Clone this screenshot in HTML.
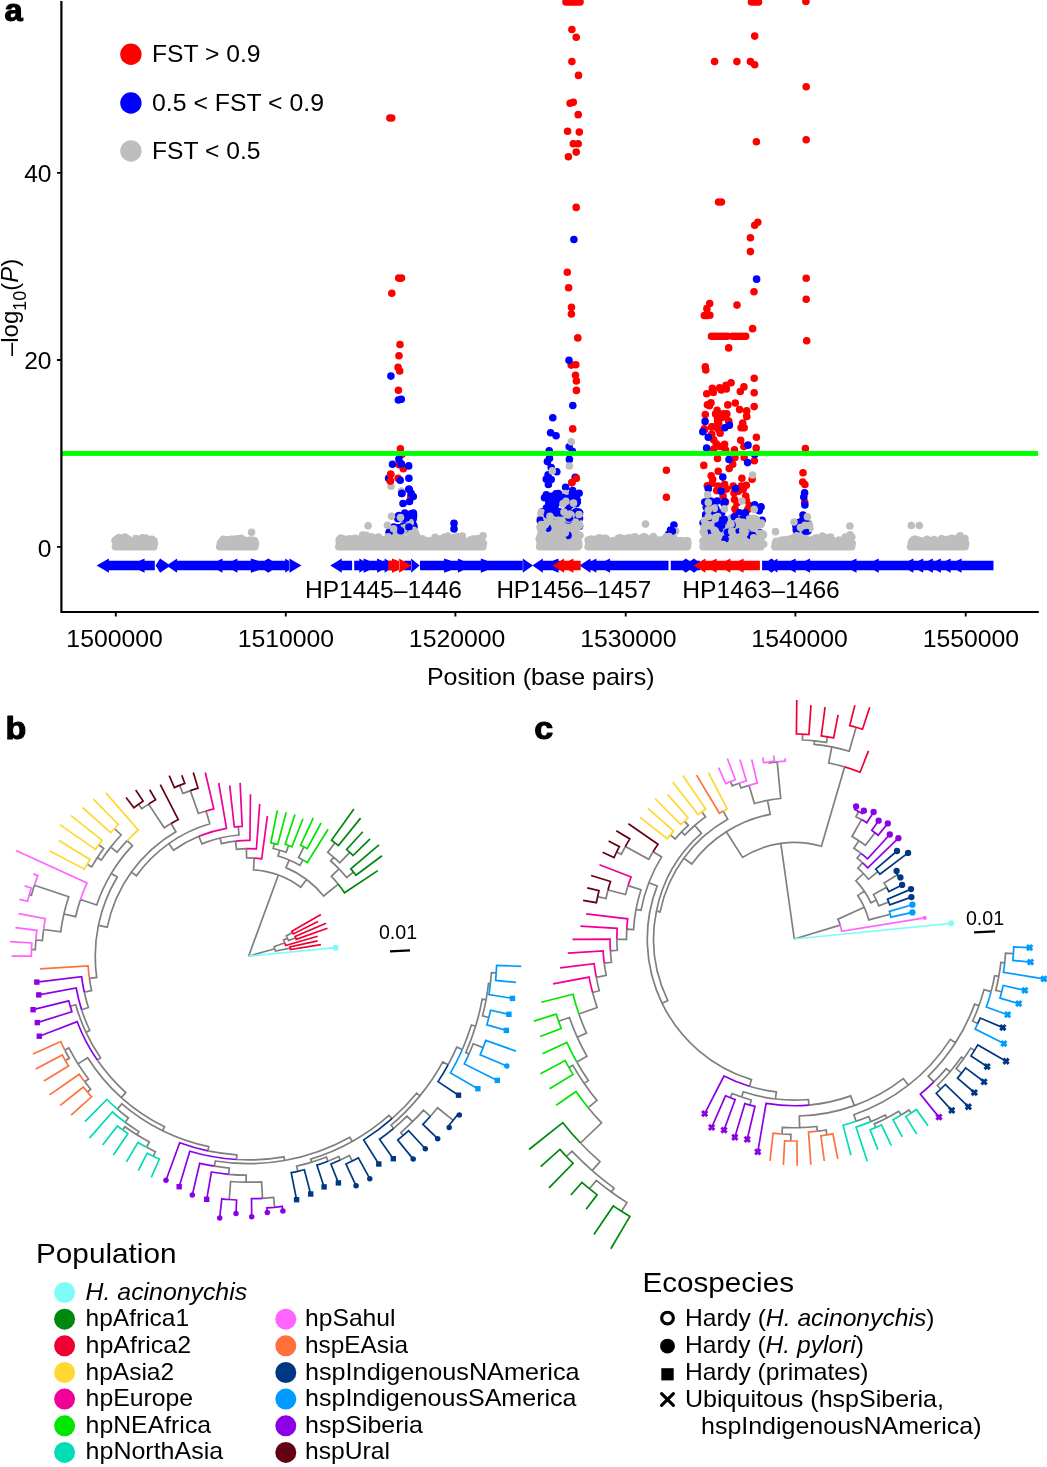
<!DOCTYPE html>
<html><head><meta charset="utf-8"><title>Figure</title>
<style>html,body{margin:0;padding:0;background:#fff}svg{display:block;will-change:transform}body{font-family:"Liberation Sans",sans-serif}</style></head>
<body>
<svg width="1047" height="1467" viewBox="0 0 1047 1467" font-family="'Liberation Sans', sans-serif" fill="#000">
<clipPath id="cpa"><rect x="62" y="0" width="985" height="611"/></clipPath>
<g clip-path="url(#cpa)">
<path d="M386.1 118.0a3.8 3.8 0 1 0 7.6 0a3.8 3.8 0 1 0 -7.6 0M387.9 118.0a3.8 3.8 0 1 0 7.6 0a3.8 3.8 0 1 0 -7.6 0M394.9 278.1a3.8 3.8 0 1 0 7.6 0a3.8 3.8 0 1 0 -7.6 0M397.7 278.1a3.8 3.8 0 1 0 7.6 0a3.8 3.8 0 1 0 -7.6 0M388.0 293.3a3.8 3.8 0 1 0 7.6 0a3.8 3.8 0 1 0 -7.6 0M396.2 344.5a3.8 3.8 0 1 0 7.6 0a3.8 3.8 0 1 0 -7.6 0M395.2 355.7a3.8 3.8 0 1 0 7.6 0a3.8 3.8 0 1 0 -7.6 0M394.3 367.4a3.8 3.8 0 1 0 7.6 0a3.8 3.8 0 1 0 -7.6 0M395.9 371.0a3.8 3.8 0 1 0 7.6 0a3.8 3.8 0 1 0 -7.6 0M394.6 390.3a3.8 3.8 0 1 0 7.6 0a3.8 3.8 0 1 0 -7.6 0M396.6 448.7a3.8 3.8 0 1 0 7.6 0a3.8 3.8 0 1 0 -7.6 0M398.0 454.4a3.8 3.8 0 1 0 7.6 0a3.8 3.8 0 1 0 -7.6 0M399.5 468.8a3.8 3.8 0 1 0 7.6 0a3.8 3.8 0 1 0 -7.6 0M386.9 474.2a3.8 3.8 0 1 0 7.6 0a3.8 3.8 0 1 0 -7.6 0M386.6 481.1a3.8 3.8 0 1 0 7.6 0a3.8 3.8 0 1 0 -7.6 0M394.3 478.3a3.8 3.8 0 1 0 7.6 0a3.8 3.8 0 1 0 -7.6 0M395.4 464.7a3.8 3.8 0 1 0 7.6 0a3.8 3.8 0 1 0 -7.6 0M407.0 496.5a3.8 3.8 0 1 0 7.6 0a3.8 3.8 0 1 0 -7.6 0M568.1 29.5a3.8 3.8 0 1 0 7.6 0a3.8 3.8 0 1 0 -7.6 0M572.4 37.2a3.8 3.8 0 1 0 7.6 0a3.8 3.8 0 1 0 -7.6 0M568.1 61.6a3.8 3.8 0 1 0 7.6 0a3.8 3.8 0 1 0 -7.6 0M574.7 75.4a3.8 3.8 0 1 0 7.6 0a3.8 3.8 0 1 0 -7.6 0M566.3 103.2a3.8 3.8 0 1 0 7.6 0a3.8 3.8 0 1 0 -7.6 0M569.5 102.3a3.8 3.8 0 1 0 7.6 0a3.8 3.8 0 1 0 -7.6 0M574.4 114.6a3.8 3.8 0 1 0 7.6 0a3.8 3.8 0 1 0 -7.6 0M563.8 131.2a3.8 3.8 0 1 0 7.6 0a3.8 3.8 0 1 0 -7.6 0M575.5 132.1a3.8 3.8 0 1 0 7.6 0a3.8 3.8 0 1 0 -7.6 0M569.5 143.8a3.8 3.8 0 1 0 7.6 0a3.8 3.8 0 1 0 -7.6 0M574.4 143.8a3.8 3.8 0 1 0 7.6 0a3.8 3.8 0 1 0 -7.6 0M572.4 152.1a3.8 3.8 0 1 0 7.6 0a3.8 3.8 0 1 0 -7.6 0M564.6 156.7a3.8 3.8 0 1 0 7.6 0a3.8 3.8 0 1 0 -7.6 0M572.4 207.4a3.8 3.8 0 1 0 7.6 0a3.8 3.8 0 1 0 -7.6 0M563.5 272.2a3.8 3.8 0 1 0 7.6 0a3.8 3.8 0 1 0 -7.6 0M564.8 287.7a3.8 3.8 0 1 0 7.6 0a3.8 3.8 0 1 0 -7.6 0M567.7 307.3a3.8 3.8 0 1 0 7.6 0a3.8 3.8 0 1 0 -7.6 0M567.6 314.0a3.8 3.8 0 1 0 7.6 0a3.8 3.8 0 1 0 -7.6 0M574.0 337.9a3.8 3.8 0 1 0 7.6 0a3.8 3.8 0 1 0 -7.6 0M567.4 365.1a3.8 3.8 0 1 0 7.6 0a3.8 3.8 0 1 0 -7.6 0M572.0 364.8a3.8 3.8 0 1 0 7.6 0a3.8 3.8 0 1 0 -7.6 0M571.7 375.3a3.8 3.8 0 1 0 7.6 0a3.8 3.8 0 1 0 -7.6 0M572.6 380.9a3.8 3.8 0 1 0 7.6 0a3.8 3.8 0 1 0 -7.6 0M572.6 390.4a3.8 3.8 0 1 0 7.6 0a3.8 3.8 0 1 0 -7.6 0M568.9 428.9a3.8 3.8 0 1 0 7.6 0a3.8 3.8 0 1 0 -7.6 0M572.5 478.3a3.8 3.8 0 1 0 7.6 0a3.8 3.8 0 1 0 -7.6 0M568.1 482.6a3.8 3.8 0 1 0 7.6 0a3.8 3.8 0 1 0 -7.6 0M662.6 470.3a3.8 3.8 0 1 0 7.6 0a3.8 3.8 0 1 0 -7.6 0M662.6 497.2a3.8 3.8 0 1 0 7.6 0a3.8 3.8 0 1 0 -7.6 0M750.9 36.1a3.8 3.8 0 1 0 7.6 0a3.8 3.8 0 1 0 -7.6 0M710.8 61.6a3.8 3.8 0 1 0 7.6 0a3.8 3.8 0 1 0 -7.6 0M733.1 61.6a3.8 3.8 0 1 0 7.6 0a3.8 3.8 0 1 0 -7.6 0M746.6 61.6a3.8 3.8 0 1 0 7.6 0a3.8 3.8 0 1 0 -7.6 0M750.9 64.8a3.8 3.8 0 1 0 7.6 0a3.8 3.8 0 1 0 -7.6 0M752.6 141.8a3.8 3.8 0 1 0 7.6 0a3.8 3.8 0 1 0 -7.6 0M714.8 202.0a3.8 3.8 0 1 0 7.6 0a3.8 3.8 0 1 0 -7.6 0M717.6 202.0a3.8 3.8 0 1 0 7.6 0a3.8 3.8 0 1 0 -7.6 0M754.0 222.3a3.8 3.8 0 1 0 7.6 0a3.8 3.8 0 1 0 -7.6 0M750.9 225.2a3.8 3.8 0 1 0 7.6 0a3.8 3.8 0 1 0 -7.6 0M746.6 237.8a3.8 3.8 0 1 0 7.6 0a3.8 3.8 0 1 0 -7.6 0M746.6 251.6a3.8 3.8 0 1 0 7.6 0a3.8 3.8 0 1 0 -7.6 0M750.2 291.8a3.8 3.8 0 1 0 7.6 0a3.8 3.8 0 1 0 -7.6 0M705.9 303.5a3.8 3.8 0 1 0 7.6 0a3.8 3.8 0 1 0 -7.6 0M703.1 308.6a3.8 3.8 0 1 0 7.6 0a3.8 3.8 0 1 0 -7.6 0M700.5 315.5a3.8 3.8 0 1 0 7.6 0a3.8 3.8 0 1 0 -7.6 0M703.1 315.5a3.8 3.8 0 1 0 7.6 0a3.8 3.8 0 1 0 -7.6 0M706.1 315.3a3.8 3.8 0 1 0 7.6 0a3.8 3.8 0 1 0 -7.6 0M733.2 305.1a3.8 3.8 0 1 0 7.6 0a3.8 3.8 0 1 0 -7.6 0M748.8 328.6a3.8 3.8 0 1 0 7.6 0a3.8 3.8 0 1 0 -7.6 0M724.9 347.9a3.8 3.8 0 1 0 7.6 0a3.8 3.8 0 1 0 -7.6 0M701.5 366.9a3.8 3.8 0 1 0 7.6 0a3.8 3.8 0 1 0 -7.6 0M702.0 370.0a3.8 3.8 0 1 0 7.6 0a3.8 3.8 0 1 0 -7.6 0M750.4 378.2a3.8 3.8 0 1 0 7.6 0a3.8 3.8 0 1 0 -7.6 0M727.3 382.8a3.8 3.8 0 1 0 7.6 0a3.8 3.8 0 1 0 -7.6 0M722.2 385.3a3.8 3.8 0 1 0 7.6 0a3.8 3.8 0 1 0 -7.6 0M715.9 387.9a3.8 3.8 0 1 0 7.6 0a3.8 3.8 0 1 0 -7.6 0M717.4 389.9a3.8 3.8 0 1 0 7.6 0a3.8 3.8 0 1 0 -7.6 0M722.5 388.9a3.8 3.8 0 1 0 7.6 0a3.8 3.8 0 1 0 -7.6 0M708.5 388.4a3.8 3.8 0 1 0 7.6 0a3.8 3.8 0 1 0 -7.6 0M709.5 392.5a3.8 3.8 0 1 0 7.6 0a3.8 3.8 0 1 0 -7.6 0M702.9 393.7a3.8 3.8 0 1 0 7.6 0a3.8 3.8 0 1 0 -7.6 0M740.1 386.9a3.8 3.8 0 1 0 7.6 0a3.8 3.8 0 1 0 -7.6 0M736.5 391.5a3.8 3.8 0 1 0 7.6 0a3.8 3.8 0 1 0 -7.6 0M750.4 392.7a3.8 3.8 0 1 0 7.6 0a3.8 3.8 0 1 0 -7.6 0M707.2 402.7a3.8 3.8 0 1 0 7.6 0a3.8 3.8 0 1 0 -7.6 0M703.6 404.7a3.8 3.8 0 1 0 7.6 0a3.8 3.8 0 1 0 -7.6 0M705.6 405.8a3.8 3.8 0 1 0 7.6 0a3.8 3.8 0 1 0 -7.6 0M724.0 404.9a3.8 3.8 0 1 0 7.6 0a3.8 3.8 0 1 0 -7.6 0M731.5 403.0a3.8 3.8 0 1 0 7.6 0a3.8 3.8 0 1 0 -7.6 0M735.8 409.6a3.8 3.8 0 1 0 7.6 0a3.8 3.8 0 1 0 -7.6 0M750.4 406.6a3.8 3.8 0 1 0 7.6 0a3.8 3.8 0 1 0 -7.6 0M742.9 410.9a3.8 3.8 0 1 0 7.6 0a3.8 3.8 0 1 0 -7.6 0M742.9 416.0a3.8 3.8 0 1 0 7.6 0a3.8 3.8 0 1 0 -7.6 0M701.5 414.5a3.8 3.8 0 1 0 7.6 0a3.8 3.8 0 1 0 -7.6 0M713.3 410.4a3.8 3.8 0 1 0 7.6 0a3.8 3.8 0 1 0 -7.6 0M711.8 413.9a3.8 3.8 0 1 0 7.6 0a3.8 3.8 0 1 0 -7.6 0M715.9 413.9a3.8 3.8 0 1 0 7.6 0a3.8 3.8 0 1 0 -7.6 0M719.9 413.9a3.8 3.8 0 1 0 7.6 0a3.8 3.8 0 1 0 -7.6 0M723.0 413.9a3.8 3.8 0 1 0 7.6 0a3.8 3.8 0 1 0 -7.6 0M713.8 418.0a3.8 3.8 0 1 0 7.6 0a3.8 3.8 0 1 0 -7.6 0M717.9 417.5a3.8 3.8 0 1 0 7.6 0a3.8 3.8 0 1 0 -7.6 0M725.1 421.6a3.8 3.8 0 1 0 7.6 0a3.8 3.8 0 1 0 -7.6 0M738.9 423.1a3.8 3.8 0 1 0 7.6 0a3.8 3.8 0 1 0 -7.6 0M737.3 427.8a3.8 3.8 0 1 0 7.6 0a3.8 3.8 0 1 0 -7.6 0M740.4 427.8a3.8 3.8 0 1 0 7.6 0a3.8 3.8 0 1 0 -7.6 0M714.8 423.1a3.8 3.8 0 1 0 7.6 0a3.8 3.8 0 1 0 -7.6 0M708.2 426.7a3.8 3.8 0 1 0 7.6 0a3.8 3.8 0 1 0 -7.6 0M700.5 428.8a3.8 3.8 0 1 0 7.6 0a3.8 3.8 0 1 0 -7.6 0M713.8 428.3a3.8 3.8 0 1 0 7.6 0a3.8 3.8 0 1 0 -7.6 0M743.0 416.5a3.8 3.8 0 1 0 7.6 0a3.8 3.8 0 1 0 -7.6 0M724.7 420.9a3.8 3.8 0 1 0 7.6 0a3.8 3.8 0 1 0 -7.6 0M713.9 420.9a3.8 3.8 0 1 0 7.6 0a3.8 3.8 0 1 0 -7.6 0M713.4 424.9a3.8 3.8 0 1 0 7.6 0a3.8 3.8 0 1 0 -7.6 0M707.9 426.9a3.8 3.8 0 1 0 7.6 0a3.8 3.8 0 1 0 -7.6 0M700.8 429.6a3.8 3.8 0 1 0 7.6 0a3.8 3.8 0 1 0 -7.6 0M714.9 429.8a3.8 3.8 0 1 0 7.6 0a3.8 3.8 0 1 0 -7.6 0M716.3 433.3a3.8 3.8 0 1 0 7.6 0a3.8 3.8 0 1 0 -7.6 0M707.9 434.3a3.8 3.8 0 1 0 7.6 0a3.8 3.8 0 1 0 -7.6 0M752.6 437.2a3.8 3.8 0 1 0 7.6 0a3.8 3.8 0 1 0 -7.6 0M709.9 439.7a3.8 3.8 0 1 0 7.6 0a3.8 3.8 0 1 0 -7.6 0M736.9 440.2a3.8 3.8 0 1 0 7.6 0a3.8 3.8 0 1 0 -7.6 0M712.4 443.7a3.8 3.8 0 1 0 7.6 0a3.8 3.8 0 1 0 -7.6 0M720.8 444.2a3.8 3.8 0 1 0 7.6 0a3.8 3.8 0 1 0 -7.6 0M716.3 446.6a3.8 3.8 0 1 0 7.6 0a3.8 3.8 0 1 0 -7.6 0M709.9 449.1a3.8 3.8 0 1 0 7.6 0a3.8 3.8 0 1 0 -7.6 0M740.1 446.6a3.8 3.8 0 1 0 7.6 0a3.8 3.8 0 1 0 -7.6 0M752.4 448.1a3.8 3.8 0 1 0 7.6 0a3.8 3.8 0 1 0 -7.6 0M730.7 449.8a3.8 3.8 0 1 0 7.6 0a3.8 3.8 0 1 0 -7.6 0M721.8 450.1a3.8 3.8 0 1 0 7.6 0a3.8 3.8 0 1 0 -7.6 0M731.2 457.5a3.8 3.8 0 1 0 7.6 0a3.8 3.8 0 1 0 -7.6 0M713.7 458.5a3.8 3.8 0 1 0 7.6 0a3.8 3.8 0 1 0 -7.6 0M740.4 457.5a3.8 3.8 0 1 0 7.6 0a3.8 3.8 0 1 0 -7.6 0M750.6 460.7a3.8 3.8 0 1 0 7.6 0a3.8 3.8 0 1 0 -7.6 0M728.9 464.2a3.8 3.8 0 1 0 7.6 0a3.8 3.8 0 1 0 -7.6 0M725.4 468.4a3.8 3.8 0 1 0 7.6 0a3.8 3.8 0 1 0 -7.6 0M700.0 465.4a3.8 3.8 0 1 0 7.6 0a3.8 3.8 0 1 0 -7.6 0M714.4 471.3a3.8 3.8 0 1 0 7.6 0a3.8 3.8 0 1 0 -7.6 0M707.4 475.8a3.8 3.8 0 1 0 7.6 0a3.8 3.8 0 1 0 -7.6 0M708.9 479.2a3.8 3.8 0 1 0 7.6 0a3.8 3.8 0 1 0 -7.6 0M708.4 483.2a3.8 3.8 0 1 0 7.6 0a3.8 3.8 0 1 0 -7.6 0M738.1 478.2a3.8 3.8 0 1 0 7.6 0a3.8 3.8 0 1 0 -7.6 0M748.3 479.2a3.8 3.8 0 1 0 7.6 0a3.8 3.8 0 1 0 -7.6 0M703.5 485.7a3.8 3.8 0 1 0 7.6 0a3.8 3.8 0 1 0 -7.6 0M720.8 484.2a3.8 3.8 0 1 0 7.6 0a3.8 3.8 0 1 0 -7.6 0M714.4 486.1a3.8 3.8 0 1 0 7.6 0a3.8 3.8 0 1 0 -7.6 0M712.9 490.6a3.8 3.8 0 1 0 7.6 0a3.8 3.8 0 1 0 -7.6 0M722.8 489.1a3.8 3.8 0 1 0 7.6 0a3.8 3.8 0 1 0 -7.6 0M729.5 486.1a3.8 3.8 0 1 0 7.6 0a3.8 3.8 0 1 0 -7.6 0M737.6 486.1a3.8 3.8 0 1 0 7.6 0a3.8 3.8 0 1 0 -7.6 0M742.5 485.2a3.8 3.8 0 1 0 7.6 0a3.8 3.8 0 1 0 -7.6 0M739.6 489.1a3.8 3.8 0 1 0 7.6 0a3.8 3.8 0 1 0 -7.6 0M734.6 491.1a3.8 3.8 0 1 0 7.6 0a3.8 3.8 0 1 0 -7.6 0M730.2 493.1a3.8 3.8 0 1 0 7.6 0a3.8 3.8 0 1 0 -7.6 0M719.3 496.0a3.8 3.8 0 1 0 7.6 0a3.8 3.8 0 1 0 -7.6 0M721.8 502.0a3.8 3.8 0 1 0 7.6 0a3.8 3.8 0 1 0 -7.6 0M742.0 496.0a3.8 3.8 0 1 0 7.6 0a3.8 3.8 0 1 0 -7.6 0M742.5 500.0a3.8 3.8 0 1 0 7.6 0a3.8 3.8 0 1 0 -7.6 0M730.7 499.5a3.8 3.8 0 1 0 7.6 0a3.8 3.8 0 1 0 -7.6 0M733.1 502.9a3.8 3.8 0 1 0 7.6 0a3.8 3.8 0 1 0 -7.6 0M745.5 505.4a3.8 3.8 0 1 0 7.6 0a3.8 3.8 0 1 0 -7.6 0M744.0 509.4a3.8 3.8 0 1 0 7.6 0a3.8 3.8 0 1 0 -7.6 0M731.2 508.9a3.8 3.8 0 1 0 7.6 0a3.8 3.8 0 1 0 -7.6 0M732.6 512.8a3.8 3.8 0 1 0 7.6 0a3.8 3.8 0 1 0 -7.6 0M740.1 513.3a3.8 3.8 0 1 0 7.6 0a3.8 3.8 0 1 0 -7.6 0M802.4 86.8a3.8 3.8 0 1 0 7.6 0a3.8 3.8 0 1 0 -7.6 0M802.4 139.8a3.8 3.8 0 1 0 7.6 0a3.8 3.8 0 1 0 -7.6 0M802.4 278.3a3.8 3.8 0 1 0 7.6 0a3.8 3.8 0 1 0 -7.6 0M802.4 299.3a3.8 3.8 0 1 0 7.6 0a3.8 3.8 0 1 0 -7.6 0M802.9 340.7a3.8 3.8 0 1 0 7.6 0a3.8 3.8 0 1 0 -7.6 0M801.6 448.5a3.8 3.8 0 1 0 7.6 0a3.8 3.8 0 1 0 -7.6 0M799.2 472.8a3.8 3.8 0 1 0 7.6 0a3.8 3.8 0 1 0 -7.6 0M798.9 482.0a3.8 3.8 0 1 0 7.6 0a3.8 3.8 0 1 0 -7.6 0M801.1 484.5a3.8 3.8 0 1 0 7.6 0a3.8 3.8 0 1 0 -7.6 0M800.9 502.0a3.8 3.8 0 1 0 7.6 0a3.8 3.8 0 1 0 -7.6 0M562.2 2.0a3.8 3.8 0 1 0 7.6 0a3.8 3.8 0 1 0 -7.6 0M564.7 2.0a3.8 3.8 0 1 0 7.6 0a3.8 3.8 0 1 0 -7.6 0M567.2 2.0a3.8 3.8 0 1 0 7.6 0a3.8 3.8 0 1 0 -7.6 0M569.7 2.0a3.8 3.8 0 1 0 7.6 0a3.8 3.8 0 1 0 -7.6 0M572.2 2.0a3.8 3.8 0 1 0 7.6 0a3.8 3.8 0 1 0 -7.6 0M574.7 2.0a3.8 3.8 0 1 0 7.6 0a3.8 3.8 0 1 0 -7.6 0M576.2 2.0a3.8 3.8 0 1 0 7.6 0a3.8 3.8 0 1 0 -7.6 0M747.7 2.0a3.8 3.8 0 1 0 7.6 0a3.8 3.8 0 1 0 -7.6 0M750.2 2.0a3.8 3.8 0 1 0 7.6 0a3.8 3.8 0 1 0 -7.6 0M752.7 2.0a3.8 3.8 0 1 0 7.6 0a3.8 3.8 0 1 0 -7.6 0M754.7 2.0a3.8 3.8 0 1 0 7.6 0a3.8 3.8 0 1 0 -7.6 0M802.1 1.5a3.8 3.8 0 1 0 7.6 0a3.8 3.8 0 1 0 -7.6 0M707.7 336.2a3.8 3.8 0 1 0 7.6 0a3.8 3.8 0 1 0 -7.6 0M710.3 336.2a3.8 3.8 0 1 0 7.6 0a3.8 3.8 0 1 0 -7.6 0M713.0 336.2a3.8 3.8 0 1 0 7.6 0a3.8 3.8 0 1 0 -7.6 0M715.6 336.2a3.8 3.8 0 1 0 7.6 0a3.8 3.8 0 1 0 -7.6 0M718.2 336.2a3.8 3.8 0 1 0 7.6 0a3.8 3.8 0 1 0 -7.6 0M720.9 336.2a3.8 3.8 0 1 0 7.6 0a3.8 3.8 0 1 0 -7.6 0M723.5 336.2a3.8 3.8 0 1 0 7.6 0a3.8 3.8 0 1 0 -7.6 0M728.7 336.2a3.8 3.8 0 1 0 7.6 0a3.8 3.8 0 1 0 -7.6 0M731.4 336.2a3.8 3.8 0 1 0 7.6 0a3.8 3.8 0 1 0 -7.6 0M734.0 336.2a3.8 3.8 0 1 0 7.6 0a3.8 3.8 0 1 0 -7.6 0M736.6 336.2a3.8 3.8 0 1 0 7.6 0a3.8 3.8 0 1 0 -7.6 0M739.3 336.2a3.8 3.8 0 1 0 7.6 0a3.8 3.8 0 1 0 -7.6 0M741.9 336.2a3.8 3.8 0 1 0 7.6 0a3.8 3.8 0 1 0 -7.6 0" fill="#ff0000"/>
<path d="M387.1 376.1a3.8 3.8 0 1 0 7.6 0a3.8 3.8 0 1 0 -7.6 0M394.6 400.0a3.8 3.8 0 1 0 7.6 0a3.8 3.8 0 1 0 -7.6 0M397.5 399.3a3.8 3.8 0 1 0 7.6 0a3.8 3.8 0 1 0 -7.6 0M395.1 459.0a3.8 3.8 0 1 0 7.6 0a3.8 3.8 0 1 0 -7.6 0M388.7 464.3a3.8 3.8 0 1 0 7.6 0a3.8 3.8 0 1 0 -7.6 0M397.5 463.9a3.8 3.8 0 1 0 7.6 0a3.8 3.8 0 1 0 -7.6 0M404.9 465.9a3.8 3.8 0 1 0 7.6 0a3.8 3.8 0 1 0 -7.6 0M384.8 478.3a3.8 3.8 0 1 0 7.6 0a3.8 3.8 0 1 0 -7.6 0M396.4 480.3a3.8 3.8 0 1 0 7.6 0a3.8 3.8 0 1 0 -7.6 0M405.1 478.2a3.8 3.8 0 1 0 7.6 0a3.8 3.8 0 1 0 -7.6 0M405.2 489.3a3.8 3.8 0 1 0 7.6 0a3.8 3.8 0 1 0 -7.6 0M398.0 493.4a3.8 3.8 0 1 0 7.6 0a3.8 3.8 0 1 0 -7.6 0M407.3 493.4a3.8 3.8 0 1 0 7.6 0a3.8 3.8 0 1 0 -7.6 0M409.5 496.6a3.8 3.8 0 1 0 7.6 0a3.8 3.8 0 1 0 -7.6 0M405.7 501.5a3.8 3.8 0 1 0 7.6 0a3.8 3.8 0 1 0 -7.6 0M399.2 503.5a3.8 3.8 0 1 0 7.6 0a3.8 3.8 0 1 0 -7.6 0M395.1 515.5a3.8 3.8 0 1 0 7.6 0a3.8 3.8 0 1 0 -7.6 0M406.5 515.5a3.8 3.8 0 1 0 7.6 0a3.8 3.8 0 1 0 -7.6 0M409.8 515.5a3.8 3.8 0 1 0 7.6 0a3.8 3.8 0 1 0 -7.6 0M408.2 518.7a3.8 3.8 0 1 0 7.6 0a3.8 3.8 0 1 0 -7.6 0M405.7 521.2a3.8 3.8 0 1 0 7.6 0a3.8 3.8 0 1 0 -7.6 0M409.0 523.6a3.8 3.8 0 1 0 7.6 0a3.8 3.8 0 1 0 -7.6 0M409.5 528.9a3.8 3.8 0 1 0 7.6 0a3.8 3.8 0 1 0 -7.6 0M403.2 520.0a3.8 3.8 0 1 0 7.6 0a3.8 3.8 0 1 0 -7.6 0M401.2 524.5a3.8 3.8 0 1 0 7.6 0a3.8 3.8 0 1 0 -7.6 0M398.2 527.0a3.8 3.8 0 1 0 7.6 0a3.8 3.8 0 1 0 -7.6 0M404.2 530.0a3.8 3.8 0 1 0 7.6 0a3.8 3.8 0 1 0 -7.6 0M450.2 523.3a3.8 3.8 0 1 0 7.6 0a3.8 3.8 0 1 0 -7.6 0M450.2 528.9a3.8 3.8 0 1 0 7.6 0a3.8 3.8 0 1 0 -7.6 0M450.2 538.0a3.8 3.8 0 1 0 7.6 0a3.8 3.8 0 1 0 -7.6 0M570.1 239.5a3.8 3.8 0 1 0 7.6 0a3.8 3.8 0 1 0 -7.6 0M565.2 360.2a3.8 3.8 0 1 0 7.6 0a3.8 3.8 0 1 0 -7.6 0M569.0 405.5a3.8 3.8 0 1 0 7.6 0a3.8 3.8 0 1 0 -7.6 0M549.0 417.8a3.8 3.8 0 1 0 7.6 0a3.8 3.8 0 1 0 -7.6 0M546.8 432.7a3.8 3.8 0 1 0 7.6 0a3.8 3.8 0 1 0 -7.6 0M552.3 435.8a3.8 3.8 0 1 0 7.6 0a3.8 3.8 0 1 0 -7.6 0M565.4 446.7a3.8 3.8 0 1 0 7.6 0a3.8 3.8 0 1 0 -7.6 0M568.6 451.3a3.8 3.8 0 1 0 7.6 0a3.8 3.8 0 1 0 -7.6 0M545.4 450.7a3.8 3.8 0 1 0 7.6 0a3.8 3.8 0 1 0 -7.6 0M545.7 458.3a3.8 3.8 0 1 0 7.6 0a3.8 3.8 0 1 0 -7.6 0M543.6 461.6a3.8 3.8 0 1 0 7.6 0a3.8 3.8 0 1 0 -7.6 0M565.6 459.4a3.8 3.8 0 1 0 7.6 0a3.8 3.8 0 1 0 -7.6 0M547.4 467.6a3.8 3.8 0 1 0 7.6 0a3.8 3.8 0 1 0 -7.6 0M553.0 471.8a3.8 3.8 0 1 0 7.6 0a3.8 3.8 0 1 0 -7.6 0M544.3 474.7a3.8 3.8 0 1 0 7.6 0a3.8 3.8 0 1 0 -7.6 0M542.5 479.1a3.8 3.8 0 1 0 7.6 0a3.8 3.8 0 1 0 -7.6 0M547.4 479.6a3.8 3.8 0 1 0 7.6 0a3.8 3.8 0 1 0 -7.6 0M544.6 484.5a3.8 3.8 0 1 0 7.6 0a3.8 3.8 0 1 0 -7.6 0M571.4 477.2a3.8 3.8 0 1 0 7.6 0a3.8 3.8 0 1 0 -7.6 0M561.8 487.2a3.8 3.8 0 1 0 7.6 0a3.8 3.8 0 1 0 -7.6 0M568.9 490.5a3.8 3.8 0 1 0 7.6 0a3.8 3.8 0 1 0 -7.6 0M575.7 518.3a3.8 3.8 0 1 0 7.6 0a3.8 3.8 0 1 0 -7.6 0M573.5 500.3a3.8 3.8 0 1 0 7.6 0a3.8 3.8 0 1 0 -7.6 0M670.1 525.0a3.8 3.8 0 1 0 7.6 0a3.8 3.8 0 1 0 -7.6 0M666.7 530.0a3.8 3.8 0 1 0 7.6 0a3.8 3.8 0 1 0 -7.6 0M664.7 534.5a3.8 3.8 0 1 0 7.6 0a3.8 3.8 0 1 0 -7.6 0M752.8 279.1a3.8 3.8 0 1 0 7.6 0a3.8 3.8 0 1 0 -7.6 0M701.3 421.4a3.8 3.8 0 1 0 7.6 0a3.8 3.8 0 1 0 -7.6 0M725.6 425.2a3.8 3.8 0 1 0 7.6 0a3.8 3.8 0 1 0 -7.6 0M721.0 427.8a3.8 3.8 0 1 0 7.6 0a3.8 3.8 0 1 0 -7.6 0M699.0 431.8a3.8 3.8 0 1 0 7.6 0a3.8 3.8 0 1 0 -7.6 0M704.5 437.2a3.8 3.8 0 1 0 7.6 0a3.8 3.8 0 1 0 -7.6 0M744.2 445.1a3.8 3.8 0 1 0 7.6 0a3.8 3.8 0 1 0 -7.6 0M702.8 448.1a3.8 3.8 0 1 0 7.6 0a3.8 3.8 0 1 0 -7.6 0M725.2 459.5a3.8 3.8 0 1 0 7.6 0a3.8 3.8 0 1 0 -7.6 0M743.8 462.6a3.8 3.8 0 1 0 7.6 0a3.8 3.8 0 1 0 -7.6 0M750.9 454.5a3.8 3.8 0 1 0 7.6 0a3.8 3.8 0 1 0 -7.6 0M719.0 477.1a3.8 3.8 0 1 0 7.6 0a3.8 3.8 0 1 0 -7.6 0M704.5 488.6a3.8 3.8 0 1 0 7.6 0a3.8 3.8 0 1 0 -7.6 0M717.3 491.1a3.8 3.8 0 1 0 7.6 0a3.8 3.8 0 1 0 -7.6 0M701.0 502.0a3.8 3.8 0 1 0 7.6 0a3.8 3.8 0 1 0 -7.6 0M713.4 501.0a3.8 3.8 0 1 0 7.6 0a3.8 3.8 0 1 0 -7.6 0M712.1 508.9a3.8 3.8 0 1 0 7.6 0a3.8 3.8 0 1 0 -7.6 0M717.8 512.8a3.8 3.8 0 1 0 7.6 0a3.8 3.8 0 1 0 -7.6 0M702.0 514.8a3.8 3.8 0 1 0 7.6 0a3.8 3.8 0 1 0 -7.6 0M705.0 518.8a3.8 3.8 0 1 0 7.6 0a3.8 3.8 0 1 0 -7.6 0M716.8 519.2a3.8 3.8 0 1 0 7.6 0a3.8 3.8 0 1 0 -7.6 0M750.9 504.9a3.8 3.8 0 1 0 7.6 0a3.8 3.8 0 1 0 -7.6 0M757.3 506.9a3.8 3.8 0 1 0 7.6 0a3.8 3.8 0 1 0 -7.6 0M755.4 510.8a3.8 3.8 0 1 0 7.6 0a3.8 3.8 0 1 0 -7.6 0M758.3 520.2a3.8 3.8 0 1 0 7.6 0a3.8 3.8 0 1 0 -7.6 0M735.6 512.8a3.8 3.8 0 1 0 7.6 0a3.8 3.8 0 1 0 -7.6 0M741.5 512.8a3.8 3.8 0 1 0 7.6 0a3.8 3.8 0 1 0 -7.6 0M744.5 518.3a3.8 3.8 0 1 0 7.6 0a3.8 3.8 0 1 0 -7.6 0M732.6 522.2a3.8 3.8 0 1 0 7.6 0a3.8 3.8 0 1 0 -7.6 0M730.7 523.7a3.8 3.8 0 1 0 7.6 0a3.8 3.8 0 1 0 -7.6 0M731.8 488.6a3.8 3.8 0 1 0 7.6 0a3.8 3.8 0 1 0 -7.6 0M800.8 492.9a3.8 3.8 0 1 0 7.6 0a3.8 3.8 0 1 0 -7.6 0M800.0 497.1a3.8 3.8 0 1 0 7.6 0a3.8 3.8 0 1 0 -7.6 0M801.1 504.9a3.8 3.8 0 1 0 7.6 0a3.8 3.8 0 1 0 -7.6 0M799.2 515.0a3.8 3.8 0 1 0 7.6 0a3.8 3.8 0 1 0 -7.6 0M798.9 520.0a3.8 3.8 0 1 0 7.6 0a3.8 3.8 0 1 0 -7.6 0M792.0 525.4a3.8 3.8 0 1 0 7.6 0a3.8 3.8 0 1 0 -7.6 0M792.4 529.8a3.8 3.8 0 1 0 7.6 0a3.8 3.8 0 1 0 -7.6 0M797.7 524.0a3.8 3.8 0 1 0 7.6 0a3.8 3.8 0 1 0 -7.6 0M795.7 528.5a3.8 3.8 0 1 0 7.6 0a3.8 3.8 0 1 0 -7.6 0" fill="#0000ff"/>
<path d="M111.6 546.7a3.8 3.8 0 1 0 7.6 0a3.8 3.8 0 1 0 -7.6 0M112.2 543.4a3.8 3.8 0 1 0 7.6 0a3.8 3.8 0 1 0 -7.6 0M111.2 540.5a3.8 3.8 0 1 0 7.6 0a3.8 3.8 0 1 0 -7.6 0M113.2 546.7a3.8 3.8 0 1 0 7.6 0a3.8 3.8 0 1 0 -7.6 0M113.8 543.4a3.8 3.8 0 1 0 7.6 0a3.8 3.8 0 1 0 -7.6 0M113.5 538.9a3.8 3.8 0 1 0 7.6 0a3.8 3.8 0 1 0 -7.6 0M114.8 546.7a3.8 3.8 0 1 0 7.6 0a3.8 3.8 0 1 0 -7.6 0M115.4 543.4a3.8 3.8 0 1 0 7.6 0a3.8 3.8 0 1 0 -7.6 0M115.3 537.6a3.8 3.8 0 1 0 7.6 0a3.8 3.8 0 1 0 -7.6 0M116.4 546.7a3.8 3.8 0 1 0 7.6 0a3.8 3.8 0 1 0 -7.6 0M117.0 543.4a3.8 3.8 0 1 0 7.6 0a3.8 3.8 0 1 0 -7.6 0M116.5 540.9a3.8 3.8 0 1 0 7.6 0a3.8 3.8 0 1 0 -7.6 0M118.0 546.7a3.8 3.8 0 1 0 7.6 0a3.8 3.8 0 1 0 -7.6 0M118.6 543.4a3.8 3.8 0 1 0 7.6 0a3.8 3.8 0 1 0 -7.6 0M118.0 541.3a3.8 3.8 0 1 0 7.6 0a3.8 3.8 0 1 0 -7.6 0M119.6 546.7a3.8 3.8 0 1 0 7.6 0a3.8 3.8 0 1 0 -7.6 0M120.2 543.4a3.8 3.8 0 1 0 7.6 0a3.8 3.8 0 1 0 -7.6 0M119.3 541.2a3.8 3.8 0 1 0 7.6 0a3.8 3.8 0 1 0 -7.6 0M121.2 546.7a3.8 3.8 0 1 0 7.6 0a3.8 3.8 0 1 0 -7.6 0M121.8 543.4a3.8 3.8 0 1 0 7.6 0a3.8 3.8 0 1 0 -7.6 0M121.1 537.0a3.8 3.8 0 1 0 7.6 0a3.8 3.8 0 1 0 -7.6 0M122.8 546.7a3.8 3.8 0 1 0 7.6 0a3.8 3.8 0 1 0 -7.6 0M123.4 543.4a3.8 3.8 0 1 0 7.6 0a3.8 3.8 0 1 0 -7.6 0M122.9 538.4a3.8 3.8 0 1 0 7.6 0a3.8 3.8 0 1 0 -7.6 0M124.4 546.7a3.8 3.8 0 1 0 7.6 0a3.8 3.8 0 1 0 -7.6 0M125.0 543.4a3.8 3.8 0 1 0 7.6 0a3.8 3.8 0 1 0 -7.6 0M124.4 539.3a3.8 3.8 0 1 0 7.6 0a3.8 3.8 0 1 0 -7.6 0M126.0 546.7a3.8 3.8 0 1 0 7.6 0a3.8 3.8 0 1 0 -7.6 0M126.6 543.4a3.8 3.8 0 1 0 7.6 0a3.8 3.8 0 1 0 -7.6 0M127.6 546.7a3.8 3.8 0 1 0 7.6 0a3.8 3.8 0 1 0 -7.6 0M128.2 543.4a3.8 3.8 0 1 0 7.6 0a3.8 3.8 0 1 0 -7.6 0M129.2 546.7a3.8 3.8 0 1 0 7.6 0a3.8 3.8 0 1 0 -7.6 0M129.8 543.4a3.8 3.8 0 1 0 7.6 0a3.8 3.8 0 1 0 -7.6 0M130.8 546.7a3.8 3.8 0 1 0 7.6 0a3.8 3.8 0 1 0 -7.6 0M131.4 543.4a3.8 3.8 0 1 0 7.6 0a3.8 3.8 0 1 0 -7.6 0M130.6 540.8a3.8 3.8 0 1 0 7.6 0a3.8 3.8 0 1 0 -7.6 0M132.4 546.7a3.8 3.8 0 1 0 7.6 0a3.8 3.8 0 1 0 -7.6 0M133.0 543.4a3.8 3.8 0 1 0 7.6 0a3.8 3.8 0 1 0 -7.6 0M132.0 538.6a3.8 3.8 0 1 0 7.6 0a3.8 3.8 0 1 0 -7.6 0M134.0 546.7a3.8 3.8 0 1 0 7.6 0a3.8 3.8 0 1 0 -7.6 0M134.6 543.4a3.8 3.8 0 1 0 7.6 0a3.8 3.8 0 1 0 -7.6 0M134.3 540.1a3.8 3.8 0 1 0 7.6 0a3.8 3.8 0 1 0 -7.6 0M135.6 546.7a3.8 3.8 0 1 0 7.6 0a3.8 3.8 0 1 0 -7.6 0M136.2 543.4a3.8 3.8 0 1 0 7.6 0a3.8 3.8 0 1 0 -7.6 0M137.2 546.7a3.8 3.8 0 1 0 7.6 0a3.8 3.8 0 1 0 -7.6 0M137.8 543.4a3.8 3.8 0 1 0 7.6 0a3.8 3.8 0 1 0 -7.6 0M138.8 546.7a3.8 3.8 0 1 0 7.6 0a3.8 3.8 0 1 0 -7.6 0M139.4 543.4a3.8 3.8 0 1 0 7.6 0a3.8 3.8 0 1 0 -7.6 0M138.5 537.7a3.8 3.8 0 1 0 7.6 0a3.8 3.8 0 1 0 -7.6 0M140.4 546.7a3.8 3.8 0 1 0 7.6 0a3.8 3.8 0 1 0 -7.6 0M141.0 543.4a3.8 3.8 0 1 0 7.6 0a3.8 3.8 0 1 0 -7.6 0M140.9 539.8a3.8 3.8 0 1 0 7.6 0a3.8 3.8 0 1 0 -7.6 0M142.0 546.7a3.8 3.8 0 1 0 7.6 0a3.8 3.8 0 1 0 -7.6 0M142.6 543.4a3.8 3.8 0 1 0 7.6 0a3.8 3.8 0 1 0 -7.6 0M142.1 538.1a3.8 3.8 0 1 0 7.6 0a3.8 3.8 0 1 0 -7.6 0M143.6 546.7a3.8 3.8 0 1 0 7.6 0a3.8 3.8 0 1 0 -7.6 0M144.2 543.4a3.8 3.8 0 1 0 7.6 0a3.8 3.8 0 1 0 -7.6 0M143.2 540.0a3.8 3.8 0 1 0 7.6 0a3.8 3.8 0 1 0 -7.6 0M145.2 546.7a3.8 3.8 0 1 0 7.6 0a3.8 3.8 0 1 0 -7.6 0M145.8 543.4a3.8 3.8 0 1 0 7.6 0a3.8 3.8 0 1 0 -7.6 0M146.8 546.7a3.8 3.8 0 1 0 7.6 0a3.8 3.8 0 1 0 -7.6 0M147.4 543.4a3.8 3.8 0 1 0 7.6 0a3.8 3.8 0 1 0 -7.6 0M146.4 540.9a3.8 3.8 0 1 0 7.6 0a3.8 3.8 0 1 0 -7.6 0M148.4 546.7a3.8 3.8 0 1 0 7.6 0a3.8 3.8 0 1 0 -7.6 0M149.0 543.4a3.8 3.8 0 1 0 7.6 0a3.8 3.8 0 1 0 -7.6 0M148.0 539.4a3.8 3.8 0 1 0 7.6 0a3.8 3.8 0 1 0 -7.6 0M150.0 546.7a3.8 3.8 0 1 0 7.6 0a3.8 3.8 0 1 0 -7.6 0M150.6 543.4a3.8 3.8 0 1 0 7.6 0a3.8 3.8 0 1 0 -7.6 0M150.1 540.9a3.8 3.8 0 1 0 7.6 0a3.8 3.8 0 1 0 -7.6 0M215.9 546.7a3.8 3.8 0 1 0 7.6 0a3.8 3.8 0 1 0 -7.6 0M216.5 543.4a3.8 3.8 0 1 0 7.6 0a3.8 3.8 0 1 0 -7.6 0M217.5 546.7a3.8 3.8 0 1 0 7.6 0a3.8 3.8 0 1 0 -7.6 0M218.1 543.4a3.8 3.8 0 1 0 7.6 0a3.8 3.8 0 1 0 -7.6 0M217.9 541.3a3.8 3.8 0 1 0 7.6 0a3.8 3.8 0 1 0 -7.6 0M219.1 546.7a3.8 3.8 0 1 0 7.6 0a3.8 3.8 0 1 0 -7.6 0M219.7 543.4a3.8 3.8 0 1 0 7.6 0a3.8 3.8 0 1 0 -7.6 0M219.5 539.4a3.8 3.8 0 1 0 7.6 0a3.8 3.8 0 1 0 -7.6 0M220.7 546.7a3.8 3.8 0 1 0 7.6 0a3.8 3.8 0 1 0 -7.6 0M221.3 543.4a3.8 3.8 0 1 0 7.6 0a3.8 3.8 0 1 0 -7.6 0M221.2 540.7a3.8 3.8 0 1 0 7.6 0a3.8 3.8 0 1 0 -7.6 0M222.3 546.7a3.8 3.8 0 1 0 7.6 0a3.8 3.8 0 1 0 -7.6 0M222.9 543.4a3.8 3.8 0 1 0 7.6 0a3.8 3.8 0 1 0 -7.6 0M222.6 539.8a3.8 3.8 0 1 0 7.6 0a3.8 3.8 0 1 0 -7.6 0M223.9 546.7a3.8 3.8 0 1 0 7.6 0a3.8 3.8 0 1 0 -7.6 0M224.5 543.4a3.8 3.8 0 1 0 7.6 0a3.8 3.8 0 1 0 -7.6 0M223.5 541.2a3.8 3.8 0 1 0 7.6 0a3.8 3.8 0 1 0 -7.6 0M225.5 546.7a3.8 3.8 0 1 0 7.6 0a3.8 3.8 0 1 0 -7.6 0M226.1 543.4a3.8 3.8 0 1 0 7.6 0a3.8 3.8 0 1 0 -7.6 0M225.2 539.7a3.8 3.8 0 1 0 7.6 0a3.8 3.8 0 1 0 -7.6 0M227.1 546.7a3.8 3.8 0 1 0 7.6 0a3.8 3.8 0 1 0 -7.6 0M227.7 543.4a3.8 3.8 0 1 0 7.6 0a3.8 3.8 0 1 0 -7.6 0M227.1 539.2a3.8 3.8 0 1 0 7.6 0a3.8 3.8 0 1 0 -7.6 0M228.7 546.7a3.8 3.8 0 1 0 7.6 0a3.8 3.8 0 1 0 -7.6 0M229.3 543.4a3.8 3.8 0 1 0 7.6 0a3.8 3.8 0 1 0 -7.6 0M228.8 540.2a3.8 3.8 0 1 0 7.6 0a3.8 3.8 0 1 0 -7.6 0M230.3 546.7a3.8 3.8 0 1 0 7.6 0a3.8 3.8 0 1 0 -7.6 0M230.9 543.4a3.8 3.8 0 1 0 7.6 0a3.8 3.8 0 1 0 -7.6 0M230.0 539.4a3.8 3.8 0 1 0 7.6 0a3.8 3.8 0 1 0 -7.6 0M231.9 546.7a3.8 3.8 0 1 0 7.6 0a3.8 3.8 0 1 0 -7.6 0M232.5 543.4a3.8 3.8 0 1 0 7.6 0a3.8 3.8 0 1 0 -7.6 0M233.5 546.7a3.8 3.8 0 1 0 7.6 0a3.8 3.8 0 1 0 -7.6 0M234.1 543.4a3.8 3.8 0 1 0 7.6 0a3.8 3.8 0 1 0 -7.6 0M233.2 538.8a3.8 3.8 0 1 0 7.6 0a3.8 3.8 0 1 0 -7.6 0M235.1 546.7a3.8 3.8 0 1 0 7.6 0a3.8 3.8 0 1 0 -7.6 0M235.7 543.4a3.8 3.8 0 1 0 7.6 0a3.8 3.8 0 1 0 -7.6 0M236.7 546.7a3.8 3.8 0 1 0 7.6 0a3.8 3.8 0 1 0 -7.6 0M237.3 543.4a3.8 3.8 0 1 0 7.6 0a3.8 3.8 0 1 0 -7.6 0M237.2 538.3a3.8 3.8 0 1 0 7.6 0a3.8 3.8 0 1 0 -7.6 0M238.3 546.7a3.8 3.8 0 1 0 7.6 0a3.8 3.8 0 1 0 -7.6 0M238.9 543.4a3.8 3.8 0 1 0 7.6 0a3.8 3.8 0 1 0 -7.6 0M238.2 541.6a3.8 3.8 0 1 0 7.6 0a3.8 3.8 0 1 0 -7.6 0M239.9 546.7a3.8 3.8 0 1 0 7.6 0a3.8 3.8 0 1 0 -7.6 0M240.5 543.4a3.8 3.8 0 1 0 7.6 0a3.8 3.8 0 1 0 -7.6 0M240.4 541.4a3.8 3.8 0 1 0 7.6 0a3.8 3.8 0 1 0 -7.6 0M241.5 546.7a3.8 3.8 0 1 0 7.6 0a3.8 3.8 0 1 0 -7.6 0M242.1 543.4a3.8 3.8 0 1 0 7.6 0a3.8 3.8 0 1 0 -7.6 0M241.3 540.3a3.8 3.8 0 1 0 7.6 0a3.8 3.8 0 1 0 -7.6 0M243.1 546.7a3.8 3.8 0 1 0 7.6 0a3.8 3.8 0 1 0 -7.6 0M243.7 543.4a3.8 3.8 0 1 0 7.6 0a3.8 3.8 0 1 0 -7.6 0M242.9 541.8a3.8 3.8 0 1 0 7.6 0a3.8 3.8 0 1 0 -7.6 0M244.7 546.7a3.8 3.8 0 1 0 7.6 0a3.8 3.8 0 1 0 -7.6 0M245.3 543.4a3.8 3.8 0 1 0 7.6 0a3.8 3.8 0 1 0 -7.6 0M244.3 541.4a3.8 3.8 0 1 0 7.6 0a3.8 3.8 0 1 0 -7.6 0M246.3 546.7a3.8 3.8 0 1 0 7.6 0a3.8 3.8 0 1 0 -7.6 0M246.9 543.4a3.8 3.8 0 1 0 7.6 0a3.8 3.8 0 1 0 -7.6 0M246.7 540.0a3.8 3.8 0 1 0 7.6 0a3.8 3.8 0 1 0 -7.6 0M247.9 546.7a3.8 3.8 0 1 0 7.6 0a3.8 3.8 0 1 0 -7.6 0M248.5 543.4a3.8 3.8 0 1 0 7.6 0a3.8 3.8 0 1 0 -7.6 0M248.3 541.1a3.8 3.8 0 1 0 7.6 0a3.8 3.8 0 1 0 -7.6 0M249.5 546.7a3.8 3.8 0 1 0 7.6 0a3.8 3.8 0 1 0 -7.6 0M250.1 543.4a3.8 3.8 0 1 0 7.6 0a3.8 3.8 0 1 0 -7.6 0M249.3 540.4a3.8 3.8 0 1 0 7.6 0a3.8 3.8 0 1 0 -7.6 0M251.1 546.7a3.8 3.8 0 1 0 7.6 0a3.8 3.8 0 1 0 -7.6 0M251.7 543.4a3.8 3.8 0 1 0 7.6 0a3.8 3.8 0 1 0 -7.6 0M250.8 540.9a3.8 3.8 0 1 0 7.6 0a3.8 3.8 0 1 0 -7.6 0M335.0 546.7a3.8 3.8 0 1 0 7.6 0a3.8 3.8 0 1 0 -7.6 0M335.6 543.4a3.8 3.8 0 1 0 7.6 0a3.8 3.8 0 1 0 -7.6 0M335.4 539.8a3.8 3.8 0 1 0 7.6 0a3.8 3.8 0 1 0 -7.6 0M336.6 546.7a3.8 3.8 0 1 0 7.6 0a3.8 3.8 0 1 0 -7.6 0M337.2 543.4a3.8 3.8 0 1 0 7.6 0a3.8 3.8 0 1 0 -7.6 0M337.0 538.0a3.8 3.8 0 1 0 7.6 0a3.8 3.8 0 1 0 -7.6 0M338.2 546.7a3.8 3.8 0 1 0 7.6 0a3.8 3.8 0 1 0 -7.6 0M338.8 543.4a3.8 3.8 0 1 0 7.6 0a3.8 3.8 0 1 0 -7.6 0M338.5 538.6a3.8 3.8 0 1 0 7.6 0a3.8 3.8 0 1 0 -7.6 0M339.8 546.7a3.8 3.8 0 1 0 7.6 0a3.8 3.8 0 1 0 -7.6 0M340.4 543.4a3.8 3.8 0 1 0 7.6 0a3.8 3.8 0 1 0 -7.6 0M339.9 540.8a3.8 3.8 0 1 0 7.6 0a3.8 3.8 0 1 0 -7.6 0M341.4 546.7a3.8 3.8 0 1 0 7.6 0a3.8 3.8 0 1 0 -7.6 0M342.0 543.4a3.8 3.8 0 1 0 7.6 0a3.8 3.8 0 1 0 -7.6 0M341.5 542.0a3.8 3.8 0 1 0 7.6 0a3.8 3.8 0 1 0 -7.6 0M343.0 546.7a3.8 3.8 0 1 0 7.6 0a3.8 3.8 0 1 0 -7.6 0M343.6 543.4a3.8 3.8 0 1 0 7.6 0a3.8 3.8 0 1 0 -7.6 0M343.5 539.4a3.8 3.8 0 1 0 7.6 0a3.8 3.8 0 1 0 -7.6 0M344.6 546.7a3.8 3.8 0 1 0 7.6 0a3.8 3.8 0 1 0 -7.6 0M345.2 543.4a3.8 3.8 0 1 0 7.6 0a3.8 3.8 0 1 0 -7.6 0M344.5 539.6a3.8 3.8 0 1 0 7.6 0a3.8 3.8 0 1 0 -7.6 0M346.2 546.7a3.8 3.8 0 1 0 7.6 0a3.8 3.8 0 1 0 -7.6 0M346.8 543.4a3.8 3.8 0 1 0 7.6 0a3.8 3.8 0 1 0 -7.6 0M346.1 538.9a3.8 3.8 0 1 0 7.6 0a3.8 3.8 0 1 0 -7.6 0M347.8 546.7a3.8 3.8 0 1 0 7.6 0a3.8 3.8 0 1 0 -7.6 0M348.4 543.4a3.8 3.8 0 1 0 7.6 0a3.8 3.8 0 1 0 -7.6 0M348.1 541.7a3.8 3.8 0 1 0 7.6 0a3.8 3.8 0 1 0 -7.6 0M349.4 546.7a3.8 3.8 0 1 0 7.6 0a3.8 3.8 0 1 0 -7.6 0M350.0 543.4a3.8 3.8 0 1 0 7.6 0a3.8 3.8 0 1 0 -7.6 0M349.4 540.6a3.8 3.8 0 1 0 7.6 0a3.8 3.8 0 1 0 -7.6 0M351.0 546.7a3.8 3.8 0 1 0 7.6 0a3.8 3.8 0 1 0 -7.6 0M351.6 543.4a3.8 3.8 0 1 0 7.6 0a3.8 3.8 0 1 0 -7.6 0M351.0 538.3a3.8 3.8 0 1 0 7.6 0a3.8 3.8 0 1 0 -7.6 0M352.6 546.7a3.8 3.8 0 1 0 7.6 0a3.8 3.8 0 1 0 -7.6 0M353.2 543.4a3.8 3.8 0 1 0 7.6 0a3.8 3.8 0 1 0 -7.6 0M354.2 546.7a3.8 3.8 0 1 0 7.6 0a3.8 3.8 0 1 0 -7.6 0M354.8 543.4a3.8 3.8 0 1 0 7.6 0a3.8 3.8 0 1 0 -7.6 0M353.7 539.0a3.8 3.8 0 1 0 7.6 0a3.8 3.8 0 1 0 -7.6 0M355.8 546.7a3.8 3.8 0 1 0 7.6 0a3.8 3.8 0 1 0 -7.6 0M356.4 543.4a3.8 3.8 0 1 0 7.6 0a3.8 3.8 0 1 0 -7.6 0M355.5 539.8a3.8 3.8 0 1 0 7.6 0a3.8 3.8 0 1 0 -7.6 0M357.4 546.7a3.8 3.8 0 1 0 7.6 0a3.8 3.8 0 1 0 -7.6 0M358.0 543.4a3.8 3.8 0 1 0 7.6 0a3.8 3.8 0 1 0 -7.6 0M359.0 546.7a3.8 3.8 0 1 0 7.6 0a3.8 3.8 0 1 0 -7.6 0M359.6 543.4a3.8 3.8 0 1 0 7.6 0a3.8 3.8 0 1 0 -7.6 0M358.9 535.1a3.8 3.8 0 1 0 7.6 0a3.8 3.8 0 1 0 -7.6 0M360.6 546.7a3.8 3.8 0 1 0 7.6 0a3.8 3.8 0 1 0 -7.6 0M361.2 543.4a3.8 3.8 0 1 0 7.6 0a3.8 3.8 0 1 0 -7.6 0M360.8 539.4a3.8 3.8 0 1 0 7.6 0a3.8 3.8 0 1 0 -7.6 0M362.2 546.7a3.8 3.8 0 1 0 7.6 0a3.8 3.8 0 1 0 -7.6 0M362.8 543.4a3.8 3.8 0 1 0 7.6 0a3.8 3.8 0 1 0 -7.6 0M362.5 535.3a3.8 3.8 0 1 0 7.6 0a3.8 3.8 0 1 0 -7.6 0M363.8 546.7a3.8 3.8 0 1 0 7.6 0a3.8 3.8 0 1 0 -7.6 0M364.4 543.4a3.8 3.8 0 1 0 7.6 0a3.8 3.8 0 1 0 -7.6 0M365.4 546.7a3.8 3.8 0 1 0 7.6 0a3.8 3.8 0 1 0 -7.6 0M366.0 543.4a3.8 3.8 0 1 0 7.6 0a3.8 3.8 0 1 0 -7.6 0M365.5 539.4a3.8 3.8 0 1 0 7.6 0a3.8 3.8 0 1 0 -7.6 0M367.0 546.7a3.8 3.8 0 1 0 7.6 0a3.8 3.8 0 1 0 -7.6 0M367.6 543.4a3.8 3.8 0 1 0 7.6 0a3.8 3.8 0 1 0 -7.6 0M367.0 537.1a3.8 3.8 0 1 0 7.6 0a3.8 3.8 0 1 0 -7.6 0M368.6 546.7a3.8 3.8 0 1 0 7.6 0a3.8 3.8 0 1 0 -7.6 0M369.2 543.4a3.8 3.8 0 1 0 7.6 0a3.8 3.8 0 1 0 -7.6 0M370.2 546.7a3.8 3.8 0 1 0 7.6 0a3.8 3.8 0 1 0 -7.6 0M370.8 543.4a3.8 3.8 0 1 0 7.6 0a3.8 3.8 0 1 0 -7.6 0M370.7 539.8a3.8 3.8 0 1 0 7.6 0a3.8 3.8 0 1 0 -7.6 0M371.8 546.7a3.8 3.8 0 1 0 7.6 0a3.8 3.8 0 1 0 -7.6 0M372.4 543.4a3.8 3.8 0 1 0 7.6 0a3.8 3.8 0 1 0 -7.6 0M371.8 539.8a3.8 3.8 0 1 0 7.6 0a3.8 3.8 0 1 0 -7.6 0M373.4 546.7a3.8 3.8 0 1 0 7.6 0a3.8 3.8 0 1 0 -7.6 0M374.0 543.4a3.8 3.8 0 1 0 7.6 0a3.8 3.8 0 1 0 -7.6 0M373.3 538.0a3.8 3.8 0 1 0 7.6 0a3.8 3.8 0 1 0 -7.6 0M375.0 546.7a3.8 3.8 0 1 0 7.6 0a3.8 3.8 0 1 0 -7.6 0M375.6 543.4a3.8 3.8 0 1 0 7.6 0a3.8 3.8 0 1 0 -7.6 0M374.8 537.0a3.8 3.8 0 1 0 7.6 0a3.8 3.8 0 1 0 -7.6 0M376.6 546.7a3.8 3.8 0 1 0 7.6 0a3.8 3.8 0 1 0 -7.6 0M377.2 543.4a3.8 3.8 0 1 0 7.6 0a3.8 3.8 0 1 0 -7.6 0M378.2 546.7a3.8 3.8 0 1 0 7.6 0a3.8 3.8 0 1 0 -7.6 0M378.8 543.4a3.8 3.8 0 1 0 7.6 0a3.8 3.8 0 1 0 -7.6 0M377.8 541.2a3.8 3.8 0 1 0 7.6 0a3.8 3.8 0 1 0 -7.6 0M379.8 546.7a3.8 3.8 0 1 0 7.6 0a3.8 3.8 0 1 0 -7.6 0M380.4 543.4a3.8 3.8 0 1 0 7.6 0a3.8 3.8 0 1 0 -7.6 0M381.4 546.7a3.8 3.8 0 1 0 7.6 0a3.8 3.8 0 1 0 -7.6 0M382.0 543.4a3.8 3.8 0 1 0 7.6 0a3.8 3.8 0 1 0 -7.6 0M381.6 539.2a3.8 3.8 0 1 0 7.6 0a3.8 3.8 0 1 0 -7.6 0M383.0 546.7a3.8 3.8 0 1 0 7.6 0a3.8 3.8 0 1 0 -7.6 0M383.6 543.4a3.8 3.8 0 1 0 7.6 0a3.8 3.8 0 1 0 -7.6 0M383.3 541.7a3.8 3.8 0 1 0 7.6 0a3.8 3.8 0 1 0 -7.6 0M384.6 546.7a3.8 3.8 0 1 0 7.6 0a3.8 3.8 0 1 0 -7.6 0M385.2 543.4a3.8 3.8 0 1 0 7.6 0a3.8 3.8 0 1 0 -7.6 0M384.6 541.9a3.8 3.8 0 1 0 7.6 0a3.8 3.8 0 1 0 -7.6 0M386.2 546.7a3.8 3.8 0 1 0 7.6 0a3.8 3.8 0 1 0 -7.6 0M386.8 543.4a3.8 3.8 0 1 0 7.6 0a3.8 3.8 0 1 0 -7.6 0M387.8 546.7a3.8 3.8 0 1 0 7.6 0a3.8 3.8 0 1 0 -7.6 0M388.4 543.4a3.8 3.8 0 1 0 7.6 0a3.8 3.8 0 1 0 -7.6 0M387.4 542.1a3.8 3.8 0 1 0 7.6 0a3.8 3.8 0 1 0 -7.6 0M389.4 546.7a3.8 3.8 0 1 0 7.6 0a3.8 3.8 0 1 0 -7.6 0M390.0 543.4a3.8 3.8 0 1 0 7.6 0a3.8 3.8 0 1 0 -7.6 0M389.3 540.6a3.8 3.8 0 1 0 7.6 0a3.8 3.8 0 1 0 -7.6 0M391.0 546.7a3.8 3.8 0 1 0 7.6 0a3.8 3.8 0 1 0 -7.6 0M391.6 543.4a3.8 3.8 0 1 0 7.6 0a3.8 3.8 0 1 0 -7.6 0M391.3 539.9a3.8 3.8 0 1 0 7.6 0a3.8 3.8 0 1 0 -7.6 0M392.6 546.7a3.8 3.8 0 1 0 7.6 0a3.8 3.8 0 1 0 -7.6 0M393.2 543.4a3.8 3.8 0 1 0 7.6 0a3.8 3.8 0 1 0 -7.6 0M392.3 541.2a3.8 3.8 0 1 0 7.6 0a3.8 3.8 0 1 0 -7.6 0M394.2 546.7a3.8 3.8 0 1 0 7.6 0a3.8 3.8 0 1 0 -7.6 0M394.8 543.4a3.8 3.8 0 1 0 7.6 0a3.8 3.8 0 1 0 -7.6 0M393.7 541.3a3.8 3.8 0 1 0 7.6 0a3.8 3.8 0 1 0 -7.6 0M395.8 546.7a3.8 3.8 0 1 0 7.6 0a3.8 3.8 0 1 0 -7.6 0M396.4 543.4a3.8 3.8 0 1 0 7.6 0a3.8 3.8 0 1 0 -7.6 0M395.5 541.7a3.8 3.8 0 1 0 7.6 0a3.8 3.8 0 1 0 -7.6 0M397.4 546.7a3.8 3.8 0 1 0 7.6 0a3.8 3.8 0 1 0 -7.6 0M398.0 543.4a3.8 3.8 0 1 0 7.6 0a3.8 3.8 0 1 0 -7.6 0M397.6 541.2a3.8 3.8 0 1 0 7.6 0a3.8 3.8 0 1 0 -7.6 0M399.0 546.7a3.8 3.8 0 1 0 7.6 0a3.8 3.8 0 1 0 -7.6 0M399.6 543.4a3.8 3.8 0 1 0 7.6 0a3.8 3.8 0 1 0 -7.6 0M399.3 541.5a3.8 3.8 0 1 0 7.6 0a3.8 3.8 0 1 0 -7.6 0M400.6 546.7a3.8 3.8 0 1 0 7.6 0a3.8 3.8 0 1 0 -7.6 0M401.2 543.4a3.8 3.8 0 1 0 7.6 0a3.8 3.8 0 1 0 -7.6 0M401.0 541.7a3.8 3.8 0 1 0 7.6 0a3.8 3.8 0 1 0 -7.6 0M402.2 546.7a3.8 3.8 0 1 0 7.6 0a3.8 3.8 0 1 0 -7.6 0M402.8 543.4a3.8 3.8 0 1 0 7.6 0a3.8 3.8 0 1 0 -7.6 0M403.8 546.7a3.8 3.8 0 1 0 7.6 0a3.8 3.8 0 1 0 -7.6 0M404.4 543.4a3.8 3.8 0 1 0 7.6 0a3.8 3.8 0 1 0 -7.6 0M403.4 538.9a3.8 3.8 0 1 0 7.6 0a3.8 3.8 0 1 0 -7.6 0M405.4 546.7a3.8 3.8 0 1 0 7.6 0a3.8 3.8 0 1 0 -7.6 0M406.0 543.4a3.8 3.8 0 1 0 7.6 0a3.8 3.8 0 1 0 -7.6 0M405.8 538.5a3.8 3.8 0 1 0 7.6 0a3.8 3.8 0 1 0 -7.6 0M407.0 546.7a3.8 3.8 0 1 0 7.6 0a3.8 3.8 0 1 0 -7.6 0M407.6 543.4a3.8 3.8 0 1 0 7.6 0a3.8 3.8 0 1 0 -7.6 0M407.4 536.2a3.8 3.8 0 1 0 7.6 0a3.8 3.8 0 1 0 -7.6 0M408.6 546.7a3.8 3.8 0 1 0 7.6 0a3.8 3.8 0 1 0 -7.6 0M409.2 543.4a3.8 3.8 0 1 0 7.6 0a3.8 3.8 0 1 0 -7.6 0M410.2 546.7a3.8 3.8 0 1 0 7.6 0a3.8 3.8 0 1 0 -7.6 0M410.8 543.4a3.8 3.8 0 1 0 7.6 0a3.8 3.8 0 1 0 -7.6 0M410.4 540.0a3.8 3.8 0 1 0 7.6 0a3.8 3.8 0 1 0 -7.6 0M411.8 546.7a3.8 3.8 0 1 0 7.6 0a3.8 3.8 0 1 0 -7.6 0M412.4 543.4a3.8 3.8 0 1 0 7.6 0a3.8 3.8 0 1 0 -7.6 0M412.1 537.8a3.8 3.8 0 1 0 7.6 0a3.8 3.8 0 1 0 -7.6 0M413.4 546.7a3.8 3.8 0 1 0 7.6 0a3.8 3.8 0 1 0 -7.6 0M414.0 543.4a3.8 3.8 0 1 0 7.6 0a3.8 3.8 0 1 0 -7.6 0M413.1 536.1a3.8 3.8 0 1 0 7.6 0a3.8 3.8 0 1 0 -7.6 0M415.0 546.7a3.8 3.8 0 1 0 7.6 0a3.8 3.8 0 1 0 -7.6 0M415.6 543.4a3.8 3.8 0 1 0 7.6 0a3.8 3.8 0 1 0 -7.6 0M416.6 546.7a3.8 3.8 0 1 0 7.6 0a3.8 3.8 0 1 0 -7.6 0M417.2 543.4a3.8 3.8 0 1 0 7.6 0a3.8 3.8 0 1 0 -7.6 0M418.2 546.7a3.8 3.8 0 1 0 7.6 0a3.8 3.8 0 1 0 -7.6 0M418.8 543.4a3.8 3.8 0 1 0 7.6 0a3.8 3.8 0 1 0 -7.6 0M418.5 538.7a3.8 3.8 0 1 0 7.6 0a3.8 3.8 0 1 0 -7.6 0M419.8 546.7a3.8 3.8 0 1 0 7.6 0a3.8 3.8 0 1 0 -7.6 0M420.4 543.4a3.8 3.8 0 1 0 7.6 0a3.8 3.8 0 1 0 -7.6 0M421.4 546.7a3.8 3.8 0 1 0 7.6 0a3.8 3.8 0 1 0 -7.6 0M422.0 543.4a3.8 3.8 0 1 0 7.6 0a3.8 3.8 0 1 0 -7.6 0M423.0 546.7a3.8 3.8 0 1 0 7.6 0a3.8 3.8 0 1 0 -7.6 0M423.6 543.4a3.8 3.8 0 1 0 7.6 0a3.8 3.8 0 1 0 -7.6 0M422.6 540.5a3.8 3.8 0 1 0 7.6 0a3.8 3.8 0 1 0 -7.6 0M424.6 546.7a3.8 3.8 0 1 0 7.6 0a3.8 3.8 0 1 0 -7.6 0M425.2 543.4a3.8 3.8 0 1 0 7.6 0a3.8 3.8 0 1 0 -7.6 0M424.9 541.3a3.8 3.8 0 1 0 7.6 0a3.8 3.8 0 1 0 -7.6 0M426.2 546.7a3.8 3.8 0 1 0 7.6 0a3.8 3.8 0 1 0 -7.6 0M426.8 543.4a3.8 3.8 0 1 0 7.6 0a3.8 3.8 0 1 0 -7.6 0M426.5 541.9a3.8 3.8 0 1 0 7.6 0a3.8 3.8 0 1 0 -7.6 0M427.8 546.7a3.8 3.8 0 1 0 7.6 0a3.8 3.8 0 1 0 -7.6 0M428.4 543.4a3.8 3.8 0 1 0 7.6 0a3.8 3.8 0 1 0 -7.6 0M427.5 540.6a3.8 3.8 0 1 0 7.6 0a3.8 3.8 0 1 0 -7.6 0M429.4 546.7a3.8 3.8 0 1 0 7.6 0a3.8 3.8 0 1 0 -7.6 0M430.0 543.4a3.8 3.8 0 1 0 7.6 0a3.8 3.8 0 1 0 -7.6 0M429.0 540.9a3.8 3.8 0 1 0 7.6 0a3.8 3.8 0 1 0 -7.6 0M431.0 546.7a3.8 3.8 0 1 0 7.6 0a3.8 3.8 0 1 0 -7.6 0M431.6 543.4a3.8 3.8 0 1 0 7.6 0a3.8 3.8 0 1 0 -7.6 0M431.2 537.2a3.8 3.8 0 1 0 7.6 0a3.8 3.8 0 1 0 -7.6 0M432.6 546.7a3.8 3.8 0 1 0 7.6 0a3.8 3.8 0 1 0 -7.6 0M433.2 543.4a3.8 3.8 0 1 0 7.6 0a3.8 3.8 0 1 0 -7.6 0M433.0 539.0a3.8 3.8 0 1 0 7.6 0a3.8 3.8 0 1 0 -7.6 0M434.2 546.7a3.8 3.8 0 1 0 7.6 0a3.8 3.8 0 1 0 -7.6 0M434.8 543.4a3.8 3.8 0 1 0 7.6 0a3.8 3.8 0 1 0 -7.6 0M435.8 546.7a3.8 3.8 0 1 0 7.6 0a3.8 3.8 0 1 0 -7.6 0M436.4 543.4a3.8 3.8 0 1 0 7.6 0a3.8 3.8 0 1 0 -7.6 0M435.5 539.2a3.8 3.8 0 1 0 7.6 0a3.8 3.8 0 1 0 -7.6 0M437.4 546.7a3.8 3.8 0 1 0 7.6 0a3.8 3.8 0 1 0 -7.6 0M438.0 543.4a3.8 3.8 0 1 0 7.6 0a3.8 3.8 0 1 0 -7.6 0M437.6 538.8a3.8 3.8 0 1 0 7.6 0a3.8 3.8 0 1 0 -7.6 0M439.0 546.7a3.8 3.8 0 1 0 7.6 0a3.8 3.8 0 1 0 -7.6 0M439.6 543.4a3.8 3.8 0 1 0 7.6 0a3.8 3.8 0 1 0 -7.6 0M439.3 538.9a3.8 3.8 0 1 0 7.6 0a3.8 3.8 0 1 0 -7.6 0M440.6 546.7a3.8 3.8 0 1 0 7.6 0a3.8 3.8 0 1 0 -7.6 0M441.2 543.4a3.8 3.8 0 1 0 7.6 0a3.8 3.8 0 1 0 -7.6 0M440.5 537.3a3.8 3.8 0 1 0 7.6 0a3.8 3.8 0 1 0 -7.6 0M442.2 546.7a3.8 3.8 0 1 0 7.6 0a3.8 3.8 0 1 0 -7.6 0M442.8 543.4a3.8 3.8 0 1 0 7.6 0a3.8 3.8 0 1 0 -7.6 0M443.8 546.7a3.8 3.8 0 1 0 7.6 0a3.8 3.8 0 1 0 -7.6 0M444.4 543.4a3.8 3.8 0 1 0 7.6 0a3.8 3.8 0 1 0 -7.6 0M444.2 536.0a3.8 3.8 0 1 0 7.6 0a3.8 3.8 0 1 0 -7.6 0M445.4 546.7a3.8 3.8 0 1 0 7.6 0a3.8 3.8 0 1 0 -7.6 0M446.0 543.4a3.8 3.8 0 1 0 7.6 0a3.8 3.8 0 1 0 -7.6 0M445.5 540.3a3.8 3.8 0 1 0 7.6 0a3.8 3.8 0 1 0 -7.6 0M447.0 546.7a3.8 3.8 0 1 0 7.6 0a3.8 3.8 0 1 0 -7.6 0M447.6 543.4a3.8 3.8 0 1 0 7.6 0a3.8 3.8 0 1 0 -7.6 0M447.0 538.8a3.8 3.8 0 1 0 7.6 0a3.8 3.8 0 1 0 -7.6 0M448.6 546.7a3.8 3.8 0 1 0 7.6 0a3.8 3.8 0 1 0 -7.6 0M449.2 543.4a3.8 3.8 0 1 0 7.6 0a3.8 3.8 0 1 0 -7.6 0M449.1 539.6a3.8 3.8 0 1 0 7.6 0a3.8 3.8 0 1 0 -7.6 0M450.2 546.7a3.8 3.8 0 1 0 7.6 0a3.8 3.8 0 1 0 -7.6 0M450.8 543.4a3.8 3.8 0 1 0 7.6 0a3.8 3.8 0 1 0 -7.6 0M450.5 539.8a3.8 3.8 0 1 0 7.6 0a3.8 3.8 0 1 0 -7.6 0M451.8 546.7a3.8 3.8 0 1 0 7.6 0a3.8 3.8 0 1 0 -7.6 0M452.4 543.4a3.8 3.8 0 1 0 7.6 0a3.8 3.8 0 1 0 -7.6 0M452.0 541.3a3.8 3.8 0 1 0 7.6 0a3.8 3.8 0 1 0 -7.6 0M453.4 546.7a3.8 3.8 0 1 0 7.6 0a3.8 3.8 0 1 0 -7.6 0M454.0 543.4a3.8 3.8 0 1 0 7.6 0a3.8 3.8 0 1 0 -7.6 0M453.3 536.5a3.8 3.8 0 1 0 7.6 0a3.8 3.8 0 1 0 -7.6 0M455.0 546.7a3.8 3.8 0 1 0 7.6 0a3.8 3.8 0 1 0 -7.6 0M455.6 543.4a3.8 3.8 0 1 0 7.6 0a3.8 3.8 0 1 0 -7.6 0M456.6 546.7a3.8 3.8 0 1 0 7.6 0a3.8 3.8 0 1 0 -7.6 0M457.2 543.4a3.8 3.8 0 1 0 7.6 0a3.8 3.8 0 1 0 -7.6 0M456.6 539.8a3.8 3.8 0 1 0 7.6 0a3.8 3.8 0 1 0 -7.6 0M458.2 546.7a3.8 3.8 0 1 0 7.6 0a3.8 3.8 0 1 0 -7.6 0M458.8 543.4a3.8 3.8 0 1 0 7.6 0a3.8 3.8 0 1 0 -7.6 0M458.5 536.1a3.8 3.8 0 1 0 7.6 0a3.8 3.8 0 1 0 -7.6 0M459.8 546.7a3.8 3.8 0 1 0 7.6 0a3.8 3.8 0 1 0 -7.6 0M460.4 543.4a3.8 3.8 0 1 0 7.6 0a3.8 3.8 0 1 0 -7.6 0M459.6 540.6a3.8 3.8 0 1 0 7.6 0a3.8 3.8 0 1 0 -7.6 0M461.4 546.7a3.8 3.8 0 1 0 7.6 0a3.8 3.8 0 1 0 -7.6 0M462.0 543.4a3.8 3.8 0 1 0 7.6 0a3.8 3.8 0 1 0 -7.6 0M461.8 541.4a3.8 3.8 0 1 0 7.6 0a3.8 3.8 0 1 0 -7.6 0M463.0 546.7a3.8 3.8 0 1 0 7.6 0a3.8 3.8 0 1 0 -7.6 0M463.6 543.4a3.8 3.8 0 1 0 7.6 0a3.8 3.8 0 1 0 -7.6 0M462.5 541.8a3.8 3.8 0 1 0 7.6 0a3.8 3.8 0 1 0 -7.6 0M464.6 546.7a3.8 3.8 0 1 0 7.6 0a3.8 3.8 0 1 0 -7.6 0M465.2 543.4a3.8 3.8 0 1 0 7.6 0a3.8 3.8 0 1 0 -7.6 0M464.8 541.1a3.8 3.8 0 1 0 7.6 0a3.8 3.8 0 1 0 -7.6 0M466.2 546.7a3.8 3.8 0 1 0 7.6 0a3.8 3.8 0 1 0 -7.6 0M466.8 543.4a3.8 3.8 0 1 0 7.6 0a3.8 3.8 0 1 0 -7.6 0M466.3 541.5a3.8 3.8 0 1 0 7.6 0a3.8 3.8 0 1 0 -7.6 0M467.8 546.7a3.8 3.8 0 1 0 7.6 0a3.8 3.8 0 1 0 -7.6 0M468.4 543.4a3.8 3.8 0 1 0 7.6 0a3.8 3.8 0 1 0 -7.6 0M467.4 539.6a3.8 3.8 0 1 0 7.6 0a3.8 3.8 0 1 0 -7.6 0M469.4 546.7a3.8 3.8 0 1 0 7.6 0a3.8 3.8 0 1 0 -7.6 0M470.0 543.4a3.8 3.8 0 1 0 7.6 0a3.8 3.8 0 1 0 -7.6 0M469.1 539.0a3.8 3.8 0 1 0 7.6 0a3.8 3.8 0 1 0 -7.6 0M471.0 546.7a3.8 3.8 0 1 0 7.6 0a3.8 3.8 0 1 0 -7.6 0M471.6 543.4a3.8 3.8 0 1 0 7.6 0a3.8 3.8 0 1 0 -7.6 0M470.9 539.4a3.8 3.8 0 1 0 7.6 0a3.8 3.8 0 1 0 -7.6 0M472.6 546.7a3.8 3.8 0 1 0 7.6 0a3.8 3.8 0 1 0 -7.6 0M473.2 543.4a3.8 3.8 0 1 0 7.6 0a3.8 3.8 0 1 0 -7.6 0M472.3 540.3a3.8 3.8 0 1 0 7.6 0a3.8 3.8 0 1 0 -7.6 0M474.2 546.7a3.8 3.8 0 1 0 7.6 0a3.8 3.8 0 1 0 -7.6 0M474.8 543.4a3.8 3.8 0 1 0 7.6 0a3.8 3.8 0 1 0 -7.6 0M474.3 538.5a3.8 3.8 0 1 0 7.6 0a3.8 3.8 0 1 0 -7.6 0M475.8 546.7a3.8 3.8 0 1 0 7.6 0a3.8 3.8 0 1 0 -7.6 0M476.4 543.4a3.8 3.8 0 1 0 7.6 0a3.8 3.8 0 1 0 -7.6 0M477.4 546.7a3.8 3.8 0 1 0 7.6 0a3.8 3.8 0 1 0 -7.6 0M478.0 543.4a3.8 3.8 0 1 0 7.6 0a3.8 3.8 0 1 0 -7.6 0M477.8 539.8a3.8 3.8 0 1 0 7.6 0a3.8 3.8 0 1 0 -7.6 0M479.0 546.7a3.8 3.8 0 1 0 7.6 0a3.8 3.8 0 1 0 -7.6 0M479.6 543.4a3.8 3.8 0 1 0 7.6 0a3.8 3.8 0 1 0 -7.6 0M479.3 535.8a3.8 3.8 0 1 0 7.6 0a3.8 3.8 0 1 0 -7.6 0M535.8 546.7a3.8 3.8 0 1 0 7.6 0a3.8 3.8 0 1 0 -7.6 0M536.4 543.4a3.8 3.8 0 1 0 7.6 0a3.8 3.8 0 1 0 -7.6 0M535.4 539.1a3.8 3.8 0 1 0 7.6 0a3.8 3.8 0 1 0 -7.6 0M537.4 546.7a3.8 3.8 0 1 0 7.6 0a3.8 3.8 0 1 0 -7.6 0M538.0 543.4a3.8 3.8 0 1 0 7.6 0a3.8 3.8 0 1 0 -7.6 0M537.7 541.5a3.8 3.8 0 1 0 7.6 0a3.8 3.8 0 1 0 -7.6 0M539.0 546.7a3.8 3.8 0 1 0 7.6 0a3.8 3.8 0 1 0 -7.6 0M539.6 543.4a3.8 3.8 0 1 0 7.6 0a3.8 3.8 0 1 0 -7.6 0M539.2 541.9a3.8 3.8 0 1 0 7.6 0a3.8 3.8 0 1 0 -7.6 0M540.6 546.7a3.8 3.8 0 1 0 7.6 0a3.8 3.8 0 1 0 -7.6 0M541.2 543.4a3.8 3.8 0 1 0 7.6 0a3.8 3.8 0 1 0 -7.6 0M540.8 538.9a3.8 3.8 0 1 0 7.6 0a3.8 3.8 0 1 0 -7.6 0M542.2 546.7a3.8 3.8 0 1 0 7.6 0a3.8 3.8 0 1 0 -7.6 0M542.8 543.4a3.8 3.8 0 1 0 7.6 0a3.8 3.8 0 1 0 -7.6 0M543.8 546.7a3.8 3.8 0 1 0 7.6 0a3.8 3.8 0 1 0 -7.6 0M544.4 543.4a3.8 3.8 0 1 0 7.6 0a3.8 3.8 0 1 0 -7.6 0M543.8 538.7a3.8 3.8 0 1 0 7.6 0a3.8 3.8 0 1 0 -7.6 0M545.4 546.7a3.8 3.8 0 1 0 7.6 0a3.8 3.8 0 1 0 -7.6 0M546.0 543.4a3.8 3.8 0 1 0 7.6 0a3.8 3.8 0 1 0 -7.6 0M545.6 540.6a3.8 3.8 0 1 0 7.6 0a3.8 3.8 0 1 0 -7.6 0M547.0 546.7a3.8 3.8 0 1 0 7.6 0a3.8 3.8 0 1 0 -7.6 0M547.6 543.4a3.8 3.8 0 1 0 7.6 0a3.8 3.8 0 1 0 -7.6 0M546.6 541.0a3.8 3.8 0 1 0 7.6 0a3.8 3.8 0 1 0 -7.6 0M548.6 546.7a3.8 3.8 0 1 0 7.6 0a3.8 3.8 0 1 0 -7.6 0M549.2 543.4a3.8 3.8 0 1 0 7.6 0a3.8 3.8 0 1 0 -7.6 0M548.6 537.6a3.8 3.8 0 1 0 7.6 0a3.8 3.8 0 1 0 -7.6 0M550.2 546.7a3.8 3.8 0 1 0 7.6 0a3.8 3.8 0 1 0 -7.6 0M550.8 543.4a3.8 3.8 0 1 0 7.6 0a3.8 3.8 0 1 0 -7.6 0M549.9 540.2a3.8 3.8 0 1 0 7.6 0a3.8 3.8 0 1 0 -7.6 0M551.8 546.7a3.8 3.8 0 1 0 7.6 0a3.8 3.8 0 1 0 -7.6 0M552.4 543.4a3.8 3.8 0 1 0 7.6 0a3.8 3.8 0 1 0 -7.6 0M553.4 546.7a3.8 3.8 0 1 0 7.6 0a3.8 3.8 0 1 0 -7.6 0M554.0 543.4a3.8 3.8 0 1 0 7.6 0a3.8 3.8 0 1 0 -7.6 0M555.0 546.7a3.8 3.8 0 1 0 7.6 0a3.8 3.8 0 1 0 -7.6 0M555.6 543.4a3.8 3.8 0 1 0 7.6 0a3.8 3.8 0 1 0 -7.6 0M556.6 546.7a3.8 3.8 0 1 0 7.6 0a3.8 3.8 0 1 0 -7.6 0M557.2 543.4a3.8 3.8 0 1 0 7.6 0a3.8 3.8 0 1 0 -7.6 0M556.2 538.2a3.8 3.8 0 1 0 7.6 0a3.8 3.8 0 1 0 -7.6 0M558.2 546.7a3.8 3.8 0 1 0 7.6 0a3.8 3.8 0 1 0 -7.6 0M558.8 543.4a3.8 3.8 0 1 0 7.6 0a3.8 3.8 0 1 0 -7.6 0M558.5 540.0a3.8 3.8 0 1 0 7.6 0a3.8 3.8 0 1 0 -7.6 0M559.8 546.7a3.8 3.8 0 1 0 7.6 0a3.8 3.8 0 1 0 -7.6 0M560.4 543.4a3.8 3.8 0 1 0 7.6 0a3.8 3.8 0 1 0 -7.6 0M559.8 538.8a3.8 3.8 0 1 0 7.6 0a3.8 3.8 0 1 0 -7.6 0M561.4 546.7a3.8 3.8 0 1 0 7.6 0a3.8 3.8 0 1 0 -7.6 0M562.0 543.4a3.8 3.8 0 1 0 7.6 0a3.8 3.8 0 1 0 -7.6 0M560.9 536.5a3.8 3.8 0 1 0 7.6 0a3.8 3.8 0 1 0 -7.6 0M563.0 546.7a3.8 3.8 0 1 0 7.6 0a3.8 3.8 0 1 0 -7.6 0M563.6 543.4a3.8 3.8 0 1 0 7.6 0a3.8 3.8 0 1 0 -7.6 0M564.6 546.7a3.8 3.8 0 1 0 7.6 0a3.8 3.8 0 1 0 -7.6 0M565.2 543.4a3.8 3.8 0 1 0 7.6 0a3.8 3.8 0 1 0 -7.6 0M564.6 536.6a3.8 3.8 0 1 0 7.6 0a3.8 3.8 0 1 0 -7.6 0M566.2 546.7a3.8 3.8 0 1 0 7.6 0a3.8 3.8 0 1 0 -7.6 0M566.8 543.4a3.8 3.8 0 1 0 7.6 0a3.8 3.8 0 1 0 -7.6 0M565.9 540.0a3.8 3.8 0 1 0 7.6 0a3.8 3.8 0 1 0 -7.6 0M567.8 546.7a3.8 3.8 0 1 0 7.6 0a3.8 3.8 0 1 0 -7.6 0M568.4 543.4a3.8 3.8 0 1 0 7.6 0a3.8 3.8 0 1 0 -7.6 0M567.3 535.9a3.8 3.8 0 1 0 7.6 0a3.8 3.8 0 1 0 -7.6 0M569.4 546.7a3.8 3.8 0 1 0 7.6 0a3.8 3.8 0 1 0 -7.6 0M570.0 543.4a3.8 3.8 0 1 0 7.6 0a3.8 3.8 0 1 0 -7.6 0M571.0 546.7a3.8 3.8 0 1 0 7.6 0a3.8 3.8 0 1 0 -7.6 0M571.6 543.4a3.8 3.8 0 1 0 7.6 0a3.8 3.8 0 1 0 -7.6 0M571.4 539.0a3.8 3.8 0 1 0 7.6 0a3.8 3.8 0 1 0 -7.6 0M572.6 546.7a3.8 3.8 0 1 0 7.6 0a3.8 3.8 0 1 0 -7.6 0M573.2 543.4a3.8 3.8 0 1 0 7.6 0a3.8 3.8 0 1 0 -7.6 0M572.7 540.2a3.8 3.8 0 1 0 7.6 0a3.8 3.8 0 1 0 -7.6 0M574.2 546.7a3.8 3.8 0 1 0 7.6 0a3.8 3.8 0 1 0 -7.6 0M574.8 543.4a3.8 3.8 0 1 0 7.6 0a3.8 3.8 0 1 0 -7.6 0M584.3 546.7a3.8 3.8 0 1 0 7.6 0a3.8 3.8 0 1 0 -7.6 0M584.9 543.4a3.8 3.8 0 1 0 7.6 0a3.8 3.8 0 1 0 -7.6 0M584.4 540.1a3.8 3.8 0 1 0 7.6 0a3.8 3.8 0 1 0 -7.6 0M585.9 546.7a3.8 3.8 0 1 0 7.6 0a3.8 3.8 0 1 0 -7.6 0M586.5 543.4a3.8 3.8 0 1 0 7.6 0a3.8 3.8 0 1 0 -7.6 0M587.5 546.7a3.8 3.8 0 1 0 7.6 0a3.8 3.8 0 1 0 -7.6 0M588.1 543.4a3.8 3.8 0 1 0 7.6 0a3.8 3.8 0 1 0 -7.6 0M587.3 539.1a3.8 3.8 0 1 0 7.6 0a3.8 3.8 0 1 0 -7.6 0M589.1 546.7a3.8 3.8 0 1 0 7.6 0a3.8 3.8 0 1 0 -7.6 0M589.7 543.4a3.8 3.8 0 1 0 7.6 0a3.8 3.8 0 1 0 -7.6 0M589.1 540.6a3.8 3.8 0 1 0 7.6 0a3.8 3.8 0 1 0 -7.6 0M590.7 546.7a3.8 3.8 0 1 0 7.6 0a3.8 3.8 0 1 0 -7.6 0M591.3 543.4a3.8 3.8 0 1 0 7.6 0a3.8 3.8 0 1 0 -7.6 0M592.3 546.7a3.8 3.8 0 1 0 7.6 0a3.8 3.8 0 1 0 -7.6 0M592.9 543.4a3.8 3.8 0 1 0 7.6 0a3.8 3.8 0 1 0 -7.6 0M592.5 539.1a3.8 3.8 0 1 0 7.6 0a3.8 3.8 0 1 0 -7.6 0M593.9 546.7a3.8 3.8 0 1 0 7.6 0a3.8 3.8 0 1 0 -7.6 0M594.5 543.4a3.8 3.8 0 1 0 7.6 0a3.8 3.8 0 1 0 -7.6 0M595.5 546.7a3.8 3.8 0 1 0 7.6 0a3.8 3.8 0 1 0 -7.6 0M596.1 543.4a3.8 3.8 0 1 0 7.6 0a3.8 3.8 0 1 0 -7.6 0M595.6 537.8a3.8 3.8 0 1 0 7.6 0a3.8 3.8 0 1 0 -7.6 0M597.1 546.7a3.8 3.8 0 1 0 7.6 0a3.8 3.8 0 1 0 -7.6 0M597.7 543.4a3.8 3.8 0 1 0 7.6 0a3.8 3.8 0 1 0 -7.6 0M597.0 540.8a3.8 3.8 0 1 0 7.6 0a3.8 3.8 0 1 0 -7.6 0M598.7 546.7a3.8 3.8 0 1 0 7.6 0a3.8 3.8 0 1 0 -7.6 0M599.3 543.4a3.8 3.8 0 1 0 7.6 0a3.8 3.8 0 1 0 -7.6 0M598.6 540.6a3.8 3.8 0 1 0 7.6 0a3.8 3.8 0 1 0 -7.6 0M600.3 546.7a3.8 3.8 0 1 0 7.6 0a3.8 3.8 0 1 0 -7.6 0M600.9 543.4a3.8 3.8 0 1 0 7.6 0a3.8 3.8 0 1 0 -7.6 0M600.7 538.4a3.8 3.8 0 1 0 7.6 0a3.8 3.8 0 1 0 -7.6 0M601.9 546.7a3.8 3.8 0 1 0 7.6 0a3.8 3.8 0 1 0 -7.6 0M602.5 543.4a3.8 3.8 0 1 0 7.6 0a3.8 3.8 0 1 0 -7.6 0M602.4 538.5a3.8 3.8 0 1 0 7.6 0a3.8 3.8 0 1 0 -7.6 0M603.5 546.7a3.8 3.8 0 1 0 7.6 0a3.8 3.8 0 1 0 -7.6 0M604.1 543.4a3.8 3.8 0 1 0 7.6 0a3.8 3.8 0 1 0 -7.6 0M605.1 546.7a3.8 3.8 0 1 0 7.6 0a3.8 3.8 0 1 0 -7.6 0M605.7 543.4a3.8 3.8 0 1 0 7.6 0a3.8 3.8 0 1 0 -7.6 0M605.4 541.0a3.8 3.8 0 1 0 7.6 0a3.8 3.8 0 1 0 -7.6 0M606.7 546.7a3.8 3.8 0 1 0 7.6 0a3.8 3.8 0 1 0 -7.6 0M607.3 543.4a3.8 3.8 0 1 0 7.6 0a3.8 3.8 0 1 0 -7.6 0M607.0 541.1a3.8 3.8 0 1 0 7.6 0a3.8 3.8 0 1 0 -7.6 0M608.3 546.7a3.8 3.8 0 1 0 7.6 0a3.8 3.8 0 1 0 -7.6 0M608.9 543.4a3.8 3.8 0 1 0 7.6 0a3.8 3.8 0 1 0 -7.6 0M609.9 546.7a3.8 3.8 0 1 0 7.6 0a3.8 3.8 0 1 0 -7.6 0M610.5 543.4a3.8 3.8 0 1 0 7.6 0a3.8 3.8 0 1 0 -7.6 0M609.9 540.5a3.8 3.8 0 1 0 7.6 0a3.8 3.8 0 1 0 -7.6 0M611.5 546.7a3.8 3.8 0 1 0 7.6 0a3.8 3.8 0 1 0 -7.6 0M612.1 543.4a3.8 3.8 0 1 0 7.6 0a3.8 3.8 0 1 0 -7.6 0M611.6 541.0a3.8 3.8 0 1 0 7.6 0a3.8 3.8 0 1 0 -7.6 0M613.1 546.7a3.8 3.8 0 1 0 7.6 0a3.8 3.8 0 1 0 -7.6 0M613.7 543.4a3.8 3.8 0 1 0 7.6 0a3.8 3.8 0 1 0 -7.6 0M614.7 546.7a3.8 3.8 0 1 0 7.6 0a3.8 3.8 0 1 0 -7.6 0M615.3 543.4a3.8 3.8 0 1 0 7.6 0a3.8 3.8 0 1 0 -7.6 0M614.7 538.3a3.8 3.8 0 1 0 7.6 0a3.8 3.8 0 1 0 -7.6 0M616.3 546.7a3.8 3.8 0 1 0 7.6 0a3.8 3.8 0 1 0 -7.6 0M616.9 543.4a3.8 3.8 0 1 0 7.6 0a3.8 3.8 0 1 0 -7.6 0M616.1 537.9a3.8 3.8 0 1 0 7.6 0a3.8 3.8 0 1 0 -7.6 0M617.9 546.7a3.8 3.8 0 1 0 7.6 0a3.8 3.8 0 1 0 -7.6 0M618.5 543.4a3.8 3.8 0 1 0 7.6 0a3.8 3.8 0 1 0 -7.6 0M617.7 538.1a3.8 3.8 0 1 0 7.6 0a3.8 3.8 0 1 0 -7.6 0M619.5 546.7a3.8 3.8 0 1 0 7.6 0a3.8 3.8 0 1 0 -7.6 0M620.1 543.4a3.8 3.8 0 1 0 7.6 0a3.8 3.8 0 1 0 -7.6 0M619.0 540.5a3.8 3.8 0 1 0 7.6 0a3.8 3.8 0 1 0 -7.6 0M621.1 546.7a3.8 3.8 0 1 0 7.6 0a3.8 3.8 0 1 0 -7.6 0M621.7 543.4a3.8 3.8 0 1 0 7.6 0a3.8 3.8 0 1 0 -7.6 0M620.8 538.8a3.8 3.8 0 1 0 7.6 0a3.8 3.8 0 1 0 -7.6 0M622.7 546.7a3.8 3.8 0 1 0 7.6 0a3.8 3.8 0 1 0 -7.6 0M623.3 543.4a3.8 3.8 0 1 0 7.6 0a3.8 3.8 0 1 0 -7.6 0M623.1 539.3a3.8 3.8 0 1 0 7.6 0a3.8 3.8 0 1 0 -7.6 0M624.3 546.7a3.8 3.8 0 1 0 7.6 0a3.8 3.8 0 1 0 -7.6 0M624.9 543.4a3.8 3.8 0 1 0 7.6 0a3.8 3.8 0 1 0 -7.6 0M624.8 537.9a3.8 3.8 0 1 0 7.6 0a3.8 3.8 0 1 0 -7.6 0M625.9 546.7a3.8 3.8 0 1 0 7.6 0a3.8 3.8 0 1 0 -7.6 0M626.5 543.4a3.8 3.8 0 1 0 7.6 0a3.8 3.8 0 1 0 -7.6 0M626.3 539.6a3.8 3.8 0 1 0 7.6 0a3.8 3.8 0 1 0 -7.6 0M627.5 546.7a3.8 3.8 0 1 0 7.6 0a3.8 3.8 0 1 0 -7.6 0M628.1 543.4a3.8 3.8 0 1 0 7.6 0a3.8 3.8 0 1 0 -7.6 0M628.0 540.1a3.8 3.8 0 1 0 7.6 0a3.8 3.8 0 1 0 -7.6 0M629.1 546.7a3.8 3.8 0 1 0 7.6 0a3.8 3.8 0 1 0 -7.6 0M629.7 543.4a3.8 3.8 0 1 0 7.6 0a3.8 3.8 0 1 0 -7.6 0M629.5 537.2a3.8 3.8 0 1 0 7.6 0a3.8 3.8 0 1 0 -7.6 0M630.7 546.7a3.8 3.8 0 1 0 7.6 0a3.8 3.8 0 1 0 -7.6 0M631.3 543.4a3.8 3.8 0 1 0 7.6 0a3.8 3.8 0 1 0 -7.6 0M631.2 536.8a3.8 3.8 0 1 0 7.6 0a3.8 3.8 0 1 0 -7.6 0M632.3 546.7a3.8 3.8 0 1 0 7.6 0a3.8 3.8 0 1 0 -7.6 0M632.9 543.4a3.8 3.8 0 1 0 7.6 0a3.8 3.8 0 1 0 -7.6 0M631.9 537.8a3.8 3.8 0 1 0 7.6 0a3.8 3.8 0 1 0 -7.6 0M633.9 546.7a3.8 3.8 0 1 0 7.6 0a3.8 3.8 0 1 0 -7.6 0M634.5 543.4a3.8 3.8 0 1 0 7.6 0a3.8 3.8 0 1 0 -7.6 0M633.6 540.8a3.8 3.8 0 1 0 7.6 0a3.8 3.8 0 1 0 -7.6 0M635.5 546.7a3.8 3.8 0 1 0 7.6 0a3.8 3.8 0 1 0 -7.6 0M636.1 543.4a3.8 3.8 0 1 0 7.6 0a3.8 3.8 0 1 0 -7.6 0M635.1 538.8a3.8 3.8 0 1 0 7.6 0a3.8 3.8 0 1 0 -7.6 0M637.1 546.7a3.8 3.8 0 1 0 7.6 0a3.8 3.8 0 1 0 -7.6 0M637.7 543.4a3.8 3.8 0 1 0 7.6 0a3.8 3.8 0 1 0 -7.6 0M637.1 539.9a3.8 3.8 0 1 0 7.6 0a3.8 3.8 0 1 0 -7.6 0M638.7 546.7a3.8 3.8 0 1 0 7.6 0a3.8 3.8 0 1 0 -7.6 0M639.3 543.4a3.8 3.8 0 1 0 7.6 0a3.8 3.8 0 1 0 -7.6 0M638.6 537.4a3.8 3.8 0 1 0 7.6 0a3.8 3.8 0 1 0 -7.6 0M640.3 546.7a3.8 3.8 0 1 0 7.6 0a3.8 3.8 0 1 0 -7.6 0M640.9 543.4a3.8 3.8 0 1 0 7.6 0a3.8 3.8 0 1 0 -7.6 0M640.8 536.8a3.8 3.8 0 1 0 7.6 0a3.8 3.8 0 1 0 -7.6 0M641.9 546.7a3.8 3.8 0 1 0 7.6 0a3.8 3.8 0 1 0 -7.6 0M642.5 543.4a3.8 3.8 0 1 0 7.6 0a3.8 3.8 0 1 0 -7.6 0M641.6 540.9a3.8 3.8 0 1 0 7.6 0a3.8 3.8 0 1 0 -7.6 0M643.5 546.7a3.8 3.8 0 1 0 7.6 0a3.8 3.8 0 1 0 -7.6 0M644.1 543.4a3.8 3.8 0 1 0 7.6 0a3.8 3.8 0 1 0 -7.6 0M645.1 546.7a3.8 3.8 0 1 0 7.6 0a3.8 3.8 0 1 0 -7.6 0M645.7 543.4a3.8 3.8 0 1 0 7.6 0a3.8 3.8 0 1 0 -7.6 0M645.2 539.7a3.8 3.8 0 1 0 7.6 0a3.8 3.8 0 1 0 -7.6 0M646.7 546.7a3.8 3.8 0 1 0 7.6 0a3.8 3.8 0 1 0 -7.6 0M647.3 543.4a3.8 3.8 0 1 0 7.6 0a3.8 3.8 0 1 0 -7.6 0M646.9 538.6a3.8 3.8 0 1 0 7.6 0a3.8 3.8 0 1 0 -7.6 0M648.3 546.7a3.8 3.8 0 1 0 7.6 0a3.8 3.8 0 1 0 -7.6 0M648.9 543.4a3.8 3.8 0 1 0 7.6 0a3.8 3.8 0 1 0 -7.6 0M648.4 537.6a3.8 3.8 0 1 0 7.6 0a3.8 3.8 0 1 0 -7.6 0M649.9 546.7a3.8 3.8 0 1 0 7.6 0a3.8 3.8 0 1 0 -7.6 0M650.5 543.4a3.8 3.8 0 1 0 7.6 0a3.8 3.8 0 1 0 -7.6 0M649.6 536.5a3.8 3.8 0 1 0 7.6 0a3.8 3.8 0 1 0 -7.6 0M651.5 546.7a3.8 3.8 0 1 0 7.6 0a3.8 3.8 0 1 0 -7.6 0M652.1 543.4a3.8 3.8 0 1 0 7.6 0a3.8 3.8 0 1 0 -7.6 0M653.1 546.7a3.8 3.8 0 1 0 7.6 0a3.8 3.8 0 1 0 -7.6 0M653.7 543.4a3.8 3.8 0 1 0 7.6 0a3.8 3.8 0 1 0 -7.6 0M654.7 546.7a3.8 3.8 0 1 0 7.6 0a3.8 3.8 0 1 0 -7.6 0M655.3 543.4a3.8 3.8 0 1 0 7.6 0a3.8 3.8 0 1 0 -7.6 0M654.3 540.0a3.8 3.8 0 1 0 7.6 0a3.8 3.8 0 1 0 -7.6 0M656.3 546.7a3.8 3.8 0 1 0 7.6 0a3.8 3.8 0 1 0 -7.6 0M656.9 543.4a3.8 3.8 0 1 0 7.6 0a3.8 3.8 0 1 0 -7.6 0M656.4 541.0a3.8 3.8 0 1 0 7.6 0a3.8 3.8 0 1 0 -7.6 0M657.9 546.7a3.8 3.8 0 1 0 7.6 0a3.8 3.8 0 1 0 -7.6 0M658.5 543.4a3.8 3.8 0 1 0 7.6 0a3.8 3.8 0 1 0 -7.6 0M657.5 541.2a3.8 3.8 0 1 0 7.6 0a3.8 3.8 0 1 0 -7.6 0M659.5 546.7a3.8 3.8 0 1 0 7.6 0a3.8 3.8 0 1 0 -7.6 0M660.1 543.4a3.8 3.8 0 1 0 7.6 0a3.8 3.8 0 1 0 -7.6 0M659.6 539.3a3.8 3.8 0 1 0 7.6 0a3.8 3.8 0 1 0 -7.6 0M661.1 546.7a3.8 3.8 0 1 0 7.6 0a3.8 3.8 0 1 0 -7.6 0M661.7 543.4a3.8 3.8 0 1 0 7.6 0a3.8 3.8 0 1 0 -7.6 0M661.1 541.1a3.8 3.8 0 1 0 7.6 0a3.8 3.8 0 1 0 -7.6 0M662.7 546.7a3.8 3.8 0 1 0 7.6 0a3.8 3.8 0 1 0 -7.6 0M663.3 543.4a3.8 3.8 0 1 0 7.6 0a3.8 3.8 0 1 0 -7.6 0M662.9 538.6a3.8 3.8 0 1 0 7.6 0a3.8 3.8 0 1 0 -7.6 0M664.3 546.7a3.8 3.8 0 1 0 7.6 0a3.8 3.8 0 1 0 -7.6 0M664.9 543.4a3.8 3.8 0 1 0 7.6 0a3.8 3.8 0 1 0 -7.6 0M663.9 538.3a3.8 3.8 0 1 0 7.6 0a3.8 3.8 0 1 0 -7.6 0M665.9 546.7a3.8 3.8 0 1 0 7.6 0a3.8 3.8 0 1 0 -7.6 0M666.5 543.4a3.8 3.8 0 1 0 7.6 0a3.8 3.8 0 1 0 -7.6 0M666.2 540.6a3.8 3.8 0 1 0 7.6 0a3.8 3.8 0 1 0 -7.6 0M667.5 546.7a3.8 3.8 0 1 0 7.6 0a3.8 3.8 0 1 0 -7.6 0M668.1 543.4a3.8 3.8 0 1 0 7.6 0a3.8 3.8 0 1 0 -7.6 0M667.3 537.6a3.8 3.8 0 1 0 7.6 0a3.8 3.8 0 1 0 -7.6 0M669.1 546.7a3.8 3.8 0 1 0 7.6 0a3.8 3.8 0 1 0 -7.6 0M669.7 543.4a3.8 3.8 0 1 0 7.6 0a3.8 3.8 0 1 0 -7.6 0M669.3 537.6a3.8 3.8 0 1 0 7.6 0a3.8 3.8 0 1 0 -7.6 0M670.7 546.7a3.8 3.8 0 1 0 7.6 0a3.8 3.8 0 1 0 -7.6 0M671.3 543.4a3.8 3.8 0 1 0 7.6 0a3.8 3.8 0 1 0 -7.6 0M670.7 539.3a3.8 3.8 0 1 0 7.6 0a3.8 3.8 0 1 0 -7.6 0M672.3 546.7a3.8 3.8 0 1 0 7.6 0a3.8 3.8 0 1 0 -7.6 0M672.9 543.4a3.8 3.8 0 1 0 7.6 0a3.8 3.8 0 1 0 -7.6 0M673.9 546.7a3.8 3.8 0 1 0 7.6 0a3.8 3.8 0 1 0 -7.6 0M674.5 543.4a3.8 3.8 0 1 0 7.6 0a3.8 3.8 0 1 0 -7.6 0M673.8 542.2a3.8 3.8 0 1 0 7.6 0a3.8 3.8 0 1 0 -7.6 0M675.5 546.7a3.8 3.8 0 1 0 7.6 0a3.8 3.8 0 1 0 -7.6 0M676.1 543.4a3.8 3.8 0 1 0 7.6 0a3.8 3.8 0 1 0 -7.6 0M677.1 546.7a3.8 3.8 0 1 0 7.6 0a3.8 3.8 0 1 0 -7.6 0M677.7 543.4a3.8 3.8 0 1 0 7.6 0a3.8 3.8 0 1 0 -7.6 0M676.7 540.6a3.8 3.8 0 1 0 7.6 0a3.8 3.8 0 1 0 -7.6 0M678.7 546.7a3.8 3.8 0 1 0 7.6 0a3.8 3.8 0 1 0 -7.6 0M679.3 543.4a3.8 3.8 0 1 0 7.6 0a3.8 3.8 0 1 0 -7.6 0M678.9 541.2a3.8 3.8 0 1 0 7.6 0a3.8 3.8 0 1 0 -7.6 0M680.3 546.7a3.8 3.8 0 1 0 7.6 0a3.8 3.8 0 1 0 -7.6 0M680.9 543.4a3.8 3.8 0 1 0 7.6 0a3.8 3.8 0 1 0 -7.6 0M679.9 541.3a3.8 3.8 0 1 0 7.6 0a3.8 3.8 0 1 0 -7.6 0M681.9 546.7a3.8 3.8 0 1 0 7.6 0a3.8 3.8 0 1 0 -7.6 0M682.5 543.4a3.8 3.8 0 1 0 7.6 0a3.8 3.8 0 1 0 -7.6 0M681.5 540.9a3.8 3.8 0 1 0 7.6 0a3.8 3.8 0 1 0 -7.6 0M683.5 546.7a3.8 3.8 0 1 0 7.6 0a3.8 3.8 0 1 0 -7.6 0M684.1 543.4a3.8 3.8 0 1 0 7.6 0a3.8 3.8 0 1 0 -7.6 0M683.7 540.9a3.8 3.8 0 1 0 7.6 0a3.8 3.8 0 1 0 -7.6 0M699.3 546.7a3.8 3.8 0 1 0 7.6 0a3.8 3.8 0 1 0 -7.6 0M699.9 543.4a3.8 3.8 0 1 0 7.6 0a3.8 3.8 0 1 0 -7.6 0M699.1 541.0a3.8 3.8 0 1 0 7.6 0a3.8 3.8 0 1 0 -7.6 0M700.9 546.7a3.8 3.8 0 1 0 7.6 0a3.8 3.8 0 1 0 -7.6 0M701.5 543.4a3.8 3.8 0 1 0 7.6 0a3.8 3.8 0 1 0 -7.6 0M702.5 546.7a3.8 3.8 0 1 0 7.6 0a3.8 3.8 0 1 0 -7.6 0M703.1 543.4a3.8 3.8 0 1 0 7.6 0a3.8 3.8 0 1 0 -7.6 0M704.1 546.7a3.8 3.8 0 1 0 7.6 0a3.8 3.8 0 1 0 -7.6 0M704.7 543.4a3.8 3.8 0 1 0 7.6 0a3.8 3.8 0 1 0 -7.6 0M704.0 540.6a3.8 3.8 0 1 0 7.6 0a3.8 3.8 0 1 0 -7.6 0M705.7 546.7a3.8 3.8 0 1 0 7.6 0a3.8 3.8 0 1 0 -7.6 0M706.3 543.4a3.8 3.8 0 1 0 7.6 0a3.8 3.8 0 1 0 -7.6 0M705.6 540.3a3.8 3.8 0 1 0 7.6 0a3.8 3.8 0 1 0 -7.6 0M707.3 546.7a3.8 3.8 0 1 0 7.6 0a3.8 3.8 0 1 0 -7.6 0M707.9 543.4a3.8 3.8 0 1 0 7.6 0a3.8 3.8 0 1 0 -7.6 0M707.4 538.3a3.8 3.8 0 1 0 7.6 0a3.8 3.8 0 1 0 -7.6 0M708.9 546.7a3.8 3.8 0 1 0 7.6 0a3.8 3.8 0 1 0 -7.6 0M709.5 543.4a3.8 3.8 0 1 0 7.6 0a3.8 3.8 0 1 0 -7.6 0M709.2 538.9a3.8 3.8 0 1 0 7.6 0a3.8 3.8 0 1 0 -7.6 0M710.5 546.7a3.8 3.8 0 1 0 7.6 0a3.8 3.8 0 1 0 -7.6 0M711.1 543.4a3.8 3.8 0 1 0 7.6 0a3.8 3.8 0 1 0 -7.6 0M710.8 537.0a3.8 3.8 0 1 0 7.6 0a3.8 3.8 0 1 0 -7.6 0M712.1 546.7a3.8 3.8 0 1 0 7.6 0a3.8 3.8 0 1 0 -7.6 0M712.7 543.4a3.8 3.8 0 1 0 7.6 0a3.8 3.8 0 1 0 -7.6 0M711.6 538.4a3.8 3.8 0 1 0 7.6 0a3.8 3.8 0 1 0 -7.6 0M713.7 546.7a3.8 3.8 0 1 0 7.6 0a3.8 3.8 0 1 0 -7.6 0M714.3 543.4a3.8 3.8 0 1 0 7.6 0a3.8 3.8 0 1 0 -7.6 0M713.8 536.5a3.8 3.8 0 1 0 7.6 0a3.8 3.8 0 1 0 -7.6 0M715.3 546.7a3.8 3.8 0 1 0 7.6 0a3.8 3.8 0 1 0 -7.6 0M715.9 543.4a3.8 3.8 0 1 0 7.6 0a3.8 3.8 0 1 0 -7.6 0M715.6 541.2a3.8 3.8 0 1 0 7.6 0a3.8 3.8 0 1 0 -7.6 0M716.9 546.7a3.8 3.8 0 1 0 7.6 0a3.8 3.8 0 1 0 -7.6 0M717.5 543.4a3.8 3.8 0 1 0 7.6 0a3.8 3.8 0 1 0 -7.6 0M717.2 541.3a3.8 3.8 0 1 0 7.6 0a3.8 3.8 0 1 0 -7.6 0M718.5 546.7a3.8 3.8 0 1 0 7.6 0a3.8 3.8 0 1 0 -7.6 0M719.1 543.4a3.8 3.8 0 1 0 7.6 0a3.8 3.8 0 1 0 -7.6 0M718.7 538.4a3.8 3.8 0 1 0 7.6 0a3.8 3.8 0 1 0 -7.6 0M720.1 546.7a3.8 3.8 0 1 0 7.6 0a3.8 3.8 0 1 0 -7.6 0M720.7 543.4a3.8 3.8 0 1 0 7.6 0a3.8 3.8 0 1 0 -7.6 0M720.2 541.4a3.8 3.8 0 1 0 7.6 0a3.8 3.8 0 1 0 -7.6 0M721.7 546.7a3.8 3.8 0 1 0 7.6 0a3.8 3.8 0 1 0 -7.6 0M722.3 543.4a3.8 3.8 0 1 0 7.6 0a3.8 3.8 0 1 0 -7.6 0M721.8 541.2a3.8 3.8 0 1 0 7.6 0a3.8 3.8 0 1 0 -7.6 0M723.3 546.7a3.8 3.8 0 1 0 7.6 0a3.8 3.8 0 1 0 -7.6 0M723.9 543.4a3.8 3.8 0 1 0 7.6 0a3.8 3.8 0 1 0 -7.6 0M723.6 540.5a3.8 3.8 0 1 0 7.6 0a3.8 3.8 0 1 0 -7.6 0M724.9 546.7a3.8 3.8 0 1 0 7.6 0a3.8 3.8 0 1 0 -7.6 0M725.5 543.4a3.8 3.8 0 1 0 7.6 0a3.8 3.8 0 1 0 -7.6 0M724.8 541.3a3.8 3.8 0 1 0 7.6 0a3.8 3.8 0 1 0 -7.6 0M726.5 546.7a3.8 3.8 0 1 0 7.6 0a3.8 3.8 0 1 0 -7.6 0M727.1 543.4a3.8 3.8 0 1 0 7.6 0a3.8 3.8 0 1 0 -7.6 0M728.1 546.7a3.8 3.8 0 1 0 7.6 0a3.8 3.8 0 1 0 -7.6 0M728.7 543.4a3.8 3.8 0 1 0 7.6 0a3.8 3.8 0 1 0 -7.6 0M728.1 539.6a3.8 3.8 0 1 0 7.6 0a3.8 3.8 0 1 0 -7.6 0M729.7 546.7a3.8 3.8 0 1 0 7.6 0a3.8 3.8 0 1 0 -7.6 0M730.3 543.4a3.8 3.8 0 1 0 7.6 0a3.8 3.8 0 1 0 -7.6 0M729.9 537.2a3.8 3.8 0 1 0 7.6 0a3.8 3.8 0 1 0 -7.6 0M731.3 546.7a3.8 3.8 0 1 0 7.6 0a3.8 3.8 0 1 0 -7.6 0M731.9 543.4a3.8 3.8 0 1 0 7.6 0a3.8 3.8 0 1 0 -7.6 0M731.6 537.7a3.8 3.8 0 1 0 7.6 0a3.8 3.8 0 1 0 -7.6 0M732.9 546.7a3.8 3.8 0 1 0 7.6 0a3.8 3.8 0 1 0 -7.6 0M733.5 543.4a3.8 3.8 0 1 0 7.6 0a3.8 3.8 0 1 0 -7.6 0M734.5 546.7a3.8 3.8 0 1 0 7.6 0a3.8 3.8 0 1 0 -7.6 0M735.1 543.4a3.8 3.8 0 1 0 7.6 0a3.8 3.8 0 1 0 -7.6 0M736.1 546.7a3.8 3.8 0 1 0 7.6 0a3.8 3.8 0 1 0 -7.6 0M736.7 543.4a3.8 3.8 0 1 0 7.6 0a3.8 3.8 0 1 0 -7.6 0M737.7 546.7a3.8 3.8 0 1 0 7.6 0a3.8 3.8 0 1 0 -7.6 0M738.3 543.4a3.8 3.8 0 1 0 7.6 0a3.8 3.8 0 1 0 -7.6 0M739.3 546.7a3.8 3.8 0 1 0 7.6 0a3.8 3.8 0 1 0 -7.6 0M739.9 543.4a3.8 3.8 0 1 0 7.6 0a3.8 3.8 0 1 0 -7.6 0M740.9 546.7a3.8 3.8 0 1 0 7.6 0a3.8 3.8 0 1 0 -7.6 0M741.5 543.4a3.8 3.8 0 1 0 7.6 0a3.8 3.8 0 1 0 -7.6 0M740.9 537.3a3.8 3.8 0 1 0 7.6 0a3.8 3.8 0 1 0 -7.6 0M742.5 546.7a3.8 3.8 0 1 0 7.6 0a3.8 3.8 0 1 0 -7.6 0M743.1 543.4a3.8 3.8 0 1 0 7.6 0a3.8 3.8 0 1 0 -7.6 0M744.1 546.7a3.8 3.8 0 1 0 7.6 0a3.8 3.8 0 1 0 -7.6 0M744.7 543.4a3.8 3.8 0 1 0 7.6 0a3.8 3.8 0 1 0 -7.6 0M744.0 539.9a3.8 3.8 0 1 0 7.6 0a3.8 3.8 0 1 0 -7.6 0M745.7 546.7a3.8 3.8 0 1 0 7.6 0a3.8 3.8 0 1 0 -7.6 0M746.3 543.4a3.8 3.8 0 1 0 7.6 0a3.8 3.8 0 1 0 -7.6 0M746.2 538.5a3.8 3.8 0 1 0 7.6 0a3.8 3.8 0 1 0 -7.6 0M747.3 546.7a3.8 3.8 0 1 0 7.6 0a3.8 3.8 0 1 0 -7.6 0M747.9 543.4a3.8 3.8 0 1 0 7.6 0a3.8 3.8 0 1 0 -7.6 0M747.0 538.2a3.8 3.8 0 1 0 7.6 0a3.8 3.8 0 1 0 -7.6 0M748.9 546.7a3.8 3.8 0 1 0 7.6 0a3.8 3.8 0 1 0 -7.6 0M749.5 543.4a3.8 3.8 0 1 0 7.6 0a3.8 3.8 0 1 0 -7.6 0M749.4 540.4a3.8 3.8 0 1 0 7.6 0a3.8 3.8 0 1 0 -7.6 0M750.5 546.7a3.8 3.8 0 1 0 7.6 0a3.8 3.8 0 1 0 -7.6 0M751.1 543.4a3.8 3.8 0 1 0 7.6 0a3.8 3.8 0 1 0 -7.6 0M750.1 536.7a3.8 3.8 0 1 0 7.6 0a3.8 3.8 0 1 0 -7.6 0M752.1 546.7a3.8 3.8 0 1 0 7.6 0a3.8 3.8 0 1 0 -7.6 0M752.7 543.4a3.8 3.8 0 1 0 7.6 0a3.8 3.8 0 1 0 -7.6 0M751.8 540.4a3.8 3.8 0 1 0 7.6 0a3.8 3.8 0 1 0 -7.6 0M753.7 546.7a3.8 3.8 0 1 0 7.6 0a3.8 3.8 0 1 0 -7.6 0M754.3 543.4a3.8 3.8 0 1 0 7.6 0a3.8 3.8 0 1 0 -7.6 0M753.8 535.2a3.8 3.8 0 1 0 7.6 0a3.8 3.8 0 1 0 -7.6 0M755.3 546.7a3.8 3.8 0 1 0 7.6 0a3.8 3.8 0 1 0 -7.6 0M755.9 543.4a3.8 3.8 0 1 0 7.6 0a3.8 3.8 0 1 0 -7.6 0M754.9 539.7a3.8 3.8 0 1 0 7.6 0a3.8 3.8 0 1 0 -7.6 0M756.9 546.7a3.8 3.8 0 1 0 7.6 0a3.8 3.8 0 1 0 -7.6 0M757.5 543.4a3.8 3.8 0 1 0 7.6 0a3.8 3.8 0 1 0 -7.6 0M756.6 536.4a3.8 3.8 0 1 0 7.6 0a3.8 3.8 0 1 0 -7.6 0M771.0 546.7a3.8 3.8 0 1 0 7.6 0a3.8 3.8 0 1 0 -7.6 0M771.6 543.4a3.8 3.8 0 1 0 7.6 0a3.8 3.8 0 1 0 -7.6 0M772.6 546.7a3.8 3.8 0 1 0 7.6 0a3.8 3.8 0 1 0 -7.6 0M773.2 543.4a3.8 3.8 0 1 0 7.6 0a3.8 3.8 0 1 0 -7.6 0M772.3 541.3a3.8 3.8 0 1 0 7.6 0a3.8 3.8 0 1 0 -7.6 0M774.2 546.7a3.8 3.8 0 1 0 7.6 0a3.8 3.8 0 1 0 -7.6 0M774.8 543.4a3.8 3.8 0 1 0 7.6 0a3.8 3.8 0 1 0 -7.6 0M775.8 546.7a3.8 3.8 0 1 0 7.6 0a3.8 3.8 0 1 0 -7.6 0M776.4 543.4a3.8 3.8 0 1 0 7.6 0a3.8 3.8 0 1 0 -7.6 0M777.4 546.7a3.8 3.8 0 1 0 7.6 0a3.8 3.8 0 1 0 -7.6 0M778.0 543.4a3.8 3.8 0 1 0 7.6 0a3.8 3.8 0 1 0 -7.6 0M777.4 540.4a3.8 3.8 0 1 0 7.6 0a3.8 3.8 0 1 0 -7.6 0M779.0 546.7a3.8 3.8 0 1 0 7.6 0a3.8 3.8 0 1 0 -7.6 0M779.6 543.4a3.8 3.8 0 1 0 7.6 0a3.8 3.8 0 1 0 -7.6 0M779.5 540.0a3.8 3.8 0 1 0 7.6 0a3.8 3.8 0 1 0 -7.6 0M780.6 546.7a3.8 3.8 0 1 0 7.6 0a3.8 3.8 0 1 0 -7.6 0M781.2 543.4a3.8 3.8 0 1 0 7.6 0a3.8 3.8 0 1 0 -7.6 0M780.1 540.6a3.8 3.8 0 1 0 7.6 0a3.8 3.8 0 1 0 -7.6 0M782.2 546.7a3.8 3.8 0 1 0 7.6 0a3.8 3.8 0 1 0 -7.6 0M782.8 543.4a3.8 3.8 0 1 0 7.6 0a3.8 3.8 0 1 0 -7.6 0M782.5 539.9a3.8 3.8 0 1 0 7.6 0a3.8 3.8 0 1 0 -7.6 0M783.8 546.7a3.8 3.8 0 1 0 7.6 0a3.8 3.8 0 1 0 -7.6 0M784.4 543.4a3.8 3.8 0 1 0 7.6 0a3.8 3.8 0 1 0 -7.6 0M783.5 541.6a3.8 3.8 0 1 0 7.6 0a3.8 3.8 0 1 0 -7.6 0M785.4 546.7a3.8 3.8 0 1 0 7.6 0a3.8 3.8 0 1 0 -7.6 0M786.0 543.4a3.8 3.8 0 1 0 7.6 0a3.8 3.8 0 1 0 -7.6 0M785.2 539.3a3.8 3.8 0 1 0 7.6 0a3.8 3.8 0 1 0 -7.6 0M787.0 546.7a3.8 3.8 0 1 0 7.6 0a3.8 3.8 0 1 0 -7.6 0M787.6 543.4a3.8 3.8 0 1 0 7.6 0a3.8 3.8 0 1 0 -7.6 0M787.1 538.8a3.8 3.8 0 1 0 7.6 0a3.8 3.8 0 1 0 -7.6 0M788.6 546.7a3.8 3.8 0 1 0 7.6 0a3.8 3.8 0 1 0 -7.6 0M789.2 543.4a3.8 3.8 0 1 0 7.6 0a3.8 3.8 0 1 0 -7.6 0M788.6 541.5a3.8 3.8 0 1 0 7.6 0a3.8 3.8 0 1 0 -7.6 0M790.2 546.7a3.8 3.8 0 1 0 7.6 0a3.8 3.8 0 1 0 -7.6 0M790.8 543.4a3.8 3.8 0 1 0 7.6 0a3.8 3.8 0 1 0 -7.6 0M789.7 539.1a3.8 3.8 0 1 0 7.6 0a3.8 3.8 0 1 0 -7.6 0M791.8 546.7a3.8 3.8 0 1 0 7.6 0a3.8 3.8 0 1 0 -7.6 0M792.4 543.4a3.8 3.8 0 1 0 7.6 0a3.8 3.8 0 1 0 -7.6 0M793.4 546.7a3.8 3.8 0 1 0 7.6 0a3.8 3.8 0 1 0 -7.6 0M794.0 543.4a3.8 3.8 0 1 0 7.6 0a3.8 3.8 0 1 0 -7.6 0M795.0 546.7a3.8 3.8 0 1 0 7.6 0a3.8 3.8 0 1 0 -7.6 0M795.6 543.4a3.8 3.8 0 1 0 7.6 0a3.8 3.8 0 1 0 -7.6 0M794.8 539.9a3.8 3.8 0 1 0 7.6 0a3.8 3.8 0 1 0 -7.6 0M796.6 546.7a3.8 3.8 0 1 0 7.6 0a3.8 3.8 0 1 0 -7.6 0M797.2 543.4a3.8 3.8 0 1 0 7.6 0a3.8 3.8 0 1 0 -7.6 0M796.6 540.7a3.8 3.8 0 1 0 7.6 0a3.8 3.8 0 1 0 -7.6 0M798.2 546.7a3.8 3.8 0 1 0 7.6 0a3.8 3.8 0 1 0 -7.6 0M798.8 543.4a3.8 3.8 0 1 0 7.6 0a3.8 3.8 0 1 0 -7.6 0M799.8 546.7a3.8 3.8 0 1 0 7.6 0a3.8 3.8 0 1 0 -7.6 0M800.4 543.4a3.8 3.8 0 1 0 7.6 0a3.8 3.8 0 1 0 -7.6 0M800.2 540.3a3.8 3.8 0 1 0 7.6 0a3.8 3.8 0 1 0 -7.6 0M801.4 546.7a3.8 3.8 0 1 0 7.6 0a3.8 3.8 0 1 0 -7.6 0M802.0 543.4a3.8 3.8 0 1 0 7.6 0a3.8 3.8 0 1 0 -7.6 0M801.3 536.9a3.8 3.8 0 1 0 7.6 0a3.8 3.8 0 1 0 -7.6 0M803.0 546.7a3.8 3.8 0 1 0 7.6 0a3.8 3.8 0 1 0 -7.6 0M803.6 543.4a3.8 3.8 0 1 0 7.6 0a3.8 3.8 0 1 0 -7.6 0M803.3 539.9a3.8 3.8 0 1 0 7.6 0a3.8 3.8 0 1 0 -7.6 0M804.6 546.7a3.8 3.8 0 1 0 7.6 0a3.8 3.8 0 1 0 -7.6 0M805.2 543.4a3.8 3.8 0 1 0 7.6 0a3.8 3.8 0 1 0 -7.6 0M804.6 540.5a3.8 3.8 0 1 0 7.6 0a3.8 3.8 0 1 0 -7.6 0M806.2 546.7a3.8 3.8 0 1 0 7.6 0a3.8 3.8 0 1 0 -7.6 0M806.8 543.4a3.8 3.8 0 1 0 7.6 0a3.8 3.8 0 1 0 -7.6 0M807.8 546.7a3.8 3.8 0 1 0 7.6 0a3.8 3.8 0 1 0 -7.6 0M808.4 543.4a3.8 3.8 0 1 0 7.6 0a3.8 3.8 0 1 0 -7.6 0M807.6 541.4a3.8 3.8 0 1 0 7.6 0a3.8 3.8 0 1 0 -7.6 0M809.4 546.7a3.8 3.8 0 1 0 7.6 0a3.8 3.8 0 1 0 -7.6 0M810.0 543.4a3.8 3.8 0 1 0 7.6 0a3.8 3.8 0 1 0 -7.6 0M809.4 539.3a3.8 3.8 0 1 0 7.6 0a3.8 3.8 0 1 0 -7.6 0M811.0 546.7a3.8 3.8 0 1 0 7.6 0a3.8 3.8 0 1 0 -7.6 0M811.6 543.4a3.8 3.8 0 1 0 7.6 0a3.8 3.8 0 1 0 -7.6 0M811.2 541.4a3.8 3.8 0 1 0 7.6 0a3.8 3.8 0 1 0 -7.6 0M812.6 546.7a3.8 3.8 0 1 0 7.6 0a3.8 3.8 0 1 0 -7.6 0M813.2 543.4a3.8 3.8 0 1 0 7.6 0a3.8 3.8 0 1 0 -7.6 0M812.6 537.7a3.8 3.8 0 1 0 7.6 0a3.8 3.8 0 1 0 -7.6 0M814.2 546.7a3.8 3.8 0 1 0 7.6 0a3.8 3.8 0 1 0 -7.6 0M814.8 543.4a3.8 3.8 0 1 0 7.6 0a3.8 3.8 0 1 0 -7.6 0M815.8 546.7a3.8 3.8 0 1 0 7.6 0a3.8 3.8 0 1 0 -7.6 0M816.4 543.4a3.8 3.8 0 1 0 7.6 0a3.8 3.8 0 1 0 -7.6 0M815.3 539.7a3.8 3.8 0 1 0 7.6 0a3.8 3.8 0 1 0 -7.6 0M817.4 546.7a3.8 3.8 0 1 0 7.6 0a3.8 3.8 0 1 0 -7.6 0M818.0 543.4a3.8 3.8 0 1 0 7.6 0a3.8 3.8 0 1 0 -7.6 0M817.1 538.6a3.8 3.8 0 1 0 7.6 0a3.8 3.8 0 1 0 -7.6 0M819.0 546.7a3.8 3.8 0 1 0 7.6 0a3.8 3.8 0 1 0 -7.6 0M819.6 543.4a3.8 3.8 0 1 0 7.6 0a3.8 3.8 0 1 0 -7.6 0M818.5 536.1a3.8 3.8 0 1 0 7.6 0a3.8 3.8 0 1 0 -7.6 0M820.6 546.7a3.8 3.8 0 1 0 7.6 0a3.8 3.8 0 1 0 -7.6 0M821.2 543.4a3.8 3.8 0 1 0 7.6 0a3.8 3.8 0 1 0 -7.6 0M820.3 537.8a3.8 3.8 0 1 0 7.6 0a3.8 3.8 0 1 0 -7.6 0M822.2 546.7a3.8 3.8 0 1 0 7.6 0a3.8 3.8 0 1 0 -7.6 0M822.8 543.4a3.8 3.8 0 1 0 7.6 0a3.8 3.8 0 1 0 -7.6 0M822.1 537.9a3.8 3.8 0 1 0 7.6 0a3.8 3.8 0 1 0 -7.6 0M823.8 546.7a3.8 3.8 0 1 0 7.6 0a3.8 3.8 0 1 0 -7.6 0M824.4 543.4a3.8 3.8 0 1 0 7.6 0a3.8 3.8 0 1 0 -7.6 0M823.6 539.0a3.8 3.8 0 1 0 7.6 0a3.8 3.8 0 1 0 -7.6 0M825.4 546.7a3.8 3.8 0 1 0 7.6 0a3.8 3.8 0 1 0 -7.6 0M826.0 543.4a3.8 3.8 0 1 0 7.6 0a3.8 3.8 0 1 0 -7.6 0M825.2 540.3a3.8 3.8 0 1 0 7.6 0a3.8 3.8 0 1 0 -7.6 0M827.0 546.7a3.8 3.8 0 1 0 7.6 0a3.8 3.8 0 1 0 -7.6 0M827.6 543.4a3.8 3.8 0 1 0 7.6 0a3.8 3.8 0 1 0 -7.6 0M826.8 537.1a3.8 3.8 0 1 0 7.6 0a3.8 3.8 0 1 0 -7.6 0M828.6 546.7a3.8 3.8 0 1 0 7.6 0a3.8 3.8 0 1 0 -7.6 0M829.2 543.4a3.8 3.8 0 1 0 7.6 0a3.8 3.8 0 1 0 -7.6 0M828.8 540.2a3.8 3.8 0 1 0 7.6 0a3.8 3.8 0 1 0 -7.6 0M830.2 546.7a3.8 3.8 0 1 0 7.6 0a3.8 3.8 0 1 0 -7.6 0M830.8 543.4a3.8 3.8 0 1 0 7.6 0a3.8 3.8 0 1 0 -7.6 0M831.8 546.7a3.8 3.8 0 1 0 7.6 0a3.8 3.8 0 1 0 -7.6 0M832.4 543.4a3.8 3.8 0 1 0 7.6 0a3.8 3.8 0 1 0 -7.6 0M831.4 541.4a3.8 3.8 0 1 0 7.6 0a3.8 3.8 0 1 0 -7.6 0M833.4 546.7a3.8 3.8 0 1 0 7.6 0a3.8 3.8 0 1 0 -7.6 0M834.0 543.4a3.8 3.8 0 1 0 7.6 0a3.8 3.8 0 1 0 -7.6 0M833.6 541.2a3.8 3.8 0 1 0 7.6 0a3.8 3.8 0 1 0 -7.6 0M835.0 546.7a3.8 3.8 0 1 0 7.6 0a3.8 3.8 0 1 0 -7.6 0M835.6 543.4a3.8 3.8 0 1 0 7.6 0a3.8 3.8 0 1 0 -7.6 0M835.3 540.0a3.8 3.8 0 1 0 7.6 0a3.8 3.8 0 1 0 -7.6 0M836.6 546.7a3.8 3.8 0 1 0 7.6 0a3.8 3.8 0 1 0 -7.6 0M837.2 543.4a3.8 3.8 0 1 0 7.6 0a3.8 3.8 0 1 0 -7.6 0M836.3 541.1a3.8 3.8 0 1 0 7.6 0a3.8 3.8 0 1 0 -7.6 0M838.2 546.7a3.8 3.8 0 1 0 7.6 0a3.8 3.8 0 1 0 -7.6 0M838.8 543.4a3.8 3.8 0 1 0 7.6 0a3.8 3.8 0 1 0 -7.6 0M838.1 541.1a3.8 3.8 0 1 0 7.6 0a3.8 3.8 0 1 0 -7.6 0M839.8 546.7a3.8 3.8 0 1 0 7.6 0a3.8 3.8 0 1 0 -7.6 0M840.4 543.4a3.8 3.8 0 1 0 7.6 0a3.8 3.8 0 1 0 -7.6 0M841.4 546.7a3.8 3.8 0 1 0 7.6 0a3.8 3.8 0 1 0 -7.6 0M842.0 543.4a3.8 3.8 0 1 0 7.6 0a3.8 3.8 0 1 0 -7.6 0M841.4 537.0a3.8 3.8 0 1 0 7.6 0a3.8 3.8 0 1 0 -7.6 0M843.0 546.7a3.8 3.8 0 1 0 7.6 0a3.8 3.8 0 1 0 -7.6 0M843.6 543.4a3.8 3.8 0 1 0 7.6 0a3.8 3.8 0 1 0 -7.6 0M843.3 538.5a3.8 3.8 0 1 0 7.6 0a3.8 3.8 0 1 0 -7.6 0M844.6 546.7a3.8 3.8 0 1 0 7.6 0a3.8 3.8 0 1 0 -7.6 0M845.2 543.4a3.8 3.8 0 1 0 7.6 0a3.8 3.8 0 1 0 -7.6 0M844.5 540.7a3.8 3.8 0 1 0 7.6 0a3.8 3.8 0 1 0 -7.6 0M846.2 546.7a3.8 3.8 0 1 0 7.6 0a3.8 3.8 0 1 0 -7.6 0M846.8 543.4a3.8 3.8 0 1 0 7.6 0a3.8 3.8 0 1 0 -7.6 0M846.4 534.9a3.8 3.8 0 1 0 7.6 0a3.8 3.8 0 1 0 -7.6 0M847.8 546.7a3.8 3.8 0 1 0 7.6 0a3.8 3.8 0 1 0 -7.6 0M848.4 543.4a3.8 3.8 0 1 0 7.6 0a3.8 3.8 0 1 0 -7.6 0M848.0 537.1a3.8 3.8 0 1 0 7.6 0a3.8 3.8 0 1 0 -7.6 0M906.8 546.7a3.8 3.8 0 1 0 7.6 0a3.8 3.8 0 1 0 -7.6 0M907.4 543.4a3.8 3.8 0 1 0 7.6 0a3.8 3.8 0 1 0 -7.6 0M908.4 546.7a3.8 3.8 0 1 0 7.6 0a3.8 3.8 0 1 0 -7.6 0M909.0 543.4a3.8 3.8 0 1 0 7.6 0a3.8 3.8 0 1 0 -7.6 0M908.3 541.1a3.8 3.8 0 1 0 7.6 0a3.8 3.8 0 1 0 -7.6 0M910.0 546.7a3.8 3.8 0 1 0 7.6 0a3.8 3.8 0 1 0 -7.6 0M910.6 543.4a3.8 3.8 0 1 0 7.6 0a3.8 3.8 0 1 0 -7.6 0M910.2 539.4a3.8 3.8 0 1 0 7.6 0a3.8 3.8 0 1 0 -7.6 0M911.6 546.7a3.8 3.8 0 1 0 7.6 0a3.8 3.8 0 1 0 -7.6 0M912.2 543.4a3.8 3.8 0 1 0 7.6 0a3.8 3.8 0 1 0 -7.6 0M911.8 539.4a3.8 3.8 0 1 0 7.6 0a3.8 3.8 0 1 0 -7.6 0M913.2 546.7a3.8 3.8 0 1 0 7.6 0a3.8 3.8 0 1 0 -7.6 0M913.8 543.4a3.8 3.8 0 1 0 7.6 0a3.8 3.8 0 1 0 -7.6 0M913.6 539.8a3.8 3.8 0 1 0 7.6 0a3.8 3.8 0 1 0 -7.6 0M914.8 546.7a3.8 3.8 0 1 0 7.6 0a3.8 3.8 0 1 0 -7.6 0M915.4 543.4a3.8 3.8 0 1 0 7.6 0a3.8 3.8 0 1 0 -7.6 0M914.4 541.1a3.8 3.8 0 1 0 7.6 0a3.8 3.8 0 1 0 -7.6 0M916.4 546.7a3.8 3.8 0 1 0 7.6 0a3.8 3.8 0 1 0 -7.6 0M917.0 543.4a3.8 3.8 0 1 0 7.6 0a3.8 3.8 0 1 0 -7.6 0M916.6 540.8a3.8 3.8 0 1 0 7.6 0a3.8 3.8 0 1 0 -7.6 0M918.0 546.7a3.8 3.8 0 1 0 7.6 0a3.8 3.8 0 1 0 -7.6 0M918.6 543.4a3.8 3.8 0 1 0 7.6 0a3.8 3.8 0 1 0 -7.6 0M919.6 546.7a3.8 3.8 0 1 0 7.6 0a3.8 3.8 0 1 0 -7.6 0M920.2 543.4a3.8 3.8 0 1 0 7.6 0a3.8 3.8 0 1 0 -7.6 0M919.6 541.5a3.8 3.8 0 1 0 7.6 0a3.8 3.8 0 1 0 -7.6 0M921.2 546.7a3.8 3.8 0 1 0 7.6 0a3.8 3.8 0 1 0 -7.6 0M921.8 543.4a3.8 3.8 0 1 0 7.6 0a3.8 3.8 0 1 0 -7.6 0M922.8 546.7a3.8 3.8 0 1 0 7.6 0a3.8 3.8 0 1 0 -7.6 0M923.4 543.4a3.8 3.8 0 1 0 7.6 0a3.8 3.8 0 1 0 -7.6 0M923.2 539.4a3.8 3.8 0 1 0 7.6 0a3.8 3.8 0 1 0 -7.6 0M924.4 546.7a3.8 3.8 0 1 0 7.6 0a3.8 3.8 0 1 0 -7.6 0M925.0 543.4a3.8 3.8 0 1 0 7.6 0a3.8 3.8 0 1 0 -7.6 0M924.5 540.3a3.8 3.8 0 1 0 7.6 0a3.8 3.8 0 1 0 -7.6 0M926.0 546.7a3.8 3.8 0 1 0 7.6 0a3.8 3.8 0 1 0 -7.6 0M926.6 543.4a3.8 3.8 0 1 0 7.6 0a3.8 3.8 0 1 0 -7.6 0M927.6 546.7a3.8 3.8 0 1 0 7.6 0a3.8 3.8 0 1 0 -7.6 0M928.2 543.4a3.8 3.8 0 1 0 7.6 0a3.8 3.8 0 1 0 -7.6 0M929.2 546.7a3.8 3.8 0 1 0 7.6 0a3.8 3.8 0 1 0 -7.6 0M929.8 543.4a3.8 3.8 0 1 0 7.6 0a3.8 3.8 0 1 0 -7.6 0M930.8 546.7a3.8 3.8 0 1 0 7.6 0a3.8 3.8 0 1 0 -7.6 0M931.4 543.4a3.8 3.8 0 1 0 7.6 0a3.8 3.8 0 1 0 -7.6 0M930.4 539.5a3.8 3.8 0 1 0 7.6 0a3.8 3.8 0 1 0 -7.6 0M932.4 546.7a3.8 3.8 0 1 0 7.6 0a3.8 3.8 0 1 0 -7.6 0M933.0 543.4a3.8 3.8 0 1 0 7.6 0a3.8 3.8 0 1 0 -7.6 0M932.8 541.7a3.8 3.8 0 1 0 7.6 0a3.8 3.8 0 1 0 -7.6 0M934.0 546.7a3.8 3.8 0 1 0 7.6 0a3.8 3.8 0 1 0 -7.6 0M934.6 543.4a3.8 3.8 0 1 0 7.6 0a3.8 3.8 0 1 0 -7.6 0M934.3 541.7a3.8 3.8 0 1 0 7.6 0a3.8 3.8 0 1 0 -7.6 0M935.6 546.7a3.8 3.8 0 1 0 7.6 0a3.8 3.8 0 1 0 -7.6 0M936.2 543.4a3.8 3.8 0 1 0 7.6 0a3.8 3.8 0 1 0 -7.6 0M935.2 542.0a3.8 3.8 0 1 0 7.6 0a3.8 3.8 0 1 0 -7.6 0M937.2 546.7a3.8 3.8 0 1 0 7.6 0a3.8 3.8 0 1 0 -7.6 0M937.8 543.4a3.8 3.8 0 1 0 7.6 0a3.8 3.8 0 1 0 -7.6 0M937.7 538.8a3.8 3.8 0 1 0 7.6 0a3.8 3.8 0 1 0 -7.6 0M938.8 546.7a3.8 3.8 0 1 0 7.6 0a3.8 3.8 0 1 0 -7.6 0M939.4 543.4a3.8 3.8 0 1 0 7.6 0a3.8 3.8 0 1 0 -7.6 0M938.6 539.4a3.8 3.8 0 1 0 7.6 0a3.8 3.8 0 1 0 -7.6 0M940.4 546.7a3.8 3.8 0 1 0 7.6 0a3.8 3.8 0 1 0 -7.6 0M941.0 543.4a3.8 3.8 0 1 0 7.6 0a3.8 3.8 0 1 0 -7.6 0M940.3 539.6a3.8 3.8 0 1 0 7.6 0a3.8 3.8 0 1 0 -7.6 0M942.0 546.7a3.8 3.8 0 1 0 7.6 0a3.8 3.8 0 1 0 -7.6 0M942.6 543.4a3.8 3.8 0 1 0 7.6 0a3.8 3.8 0 1 0 -7.6 0M943.6 546.7a3.8 3.8 0 1 0 7.6 0a3.8 3.8 0 1 0 -7.6 0M944.2 543.4a3.8 3.8 0 1 0 7.6 0a3.8 3.8 0 1 0 -7.6 0M943.3 539.8a3.8 3.8 0 1 0 7.6 0a3.8 3.8 0 1 0 -7.6 0M945.2 546.7a3.8 3.8 0 1 0 7.6 0a3.8 3.8 0 1 0 -7.6 0M945.8 543.4a3.8 3.8 0 1 0 7.6 0a3.8 3.8 0 1 0 -7.6 0M945.1 539.3a3.8 3.8 0 1 0 7.6 0a3.8 3.8 0 1 0 -7.6 0M946.8 546.7a3.8 3.8 0 1 0 7.6 0a3.8 3.8 0 1 0 -7.6 0M947.4 543.4a3.8 3.8 0 1 0 7.6 0a3.8 3.8 0 1 0 -7.6 0M946.8 540.3a3.8 3.8 0 1 0 7.6 0a3.8 3.8 0 1 0 -7.6 0M948.4 546.7a3.8 3.8 0 1 0 7.6 0a3.8 3.8 0 1 0 -7.6 0M949.0 543.4a3.8 3.8 0 1 0 7.6 0a3.8 3.8 0 1 0 -7.6 0M948.2 538.4a3.8 3.8 0 1 0 7.6 0a3.8 3.8 0 1 0 -7.6 0M950.0 546.7a3.8 3.8 0 1 0 7.6 0a3.8 3.8 0 1 0 -7.6 0M950.6 543.4a3.8 3.8 0 1 0 7.6 0a3.8 3.8 0 1 0 -7.6 0M950.2 540.5a3.8 3.8 0 1 0 7.6 0a3.8 3.8 0 1 0 -7.6 0M951.6 546.7a3.8 3.8 0 1 0 7.6 0a3.8 3.8 0 1 0 -7.6 0M952.2 543.4a3.8 3.8 0 1 0 7.6 0a3.8 3.8 0 1 0 -7.6 0M953.2 546.7a3.8 3.8 0 1 0 7.6 0a3.8 3.8 0 1 0 -7.6 0M953.8 543.4a3.8 3.8 0 1 0 7.6 0a3.8 3.8 0 1 0 -7.6 0M953.2 539.0a3.8 3.8 0 1 0 7.6 0a3.8 3.8 0 1 0 -7.6 0M954.8 546.7a3.8 3.8 0 1 0 7.6 0a3.8 3.8 0 1 0 -7.6 0M955.4 543.4a3.8 3.8 0 1 0 7.6 0a3.8 3.8 0 1 0 -7.6 0M955.0 537.1a3.8 3.8 0 1 0 7.6 0a3.8 3.8 0 1 0 -7.6 0M956.4 546.7a3.8 3.8 0 1 0 7.6 0a3.8 3.8 0 1 0 -7.6 0M957.0 543.4a3.8 3.8 0 1 0 7.6 0a3.8 3.8 0 1 0 -7.6 0M956.4 535.8a3.8 3.8 0 1 0 7.6 0a3.8 3.8 0 1 0 -7.6 0M958.0 546.7a3.8 3.8 0 1 0 7.6 0a3.8 3.8 0 1 0 -7.6 0M958.6 543.4a3.8 3.8 0 1 0 7.6 0a3.8 3.8 0 1 0 -7.6 0M959.6 546.7a3.8 3.8 0 1 0 7.6 0a3.8 3.8 0 1 0 -7.6 0M960.2 543.4a3.8 3.8 0 1 0 7.6 0a3.8 3.8 0 1 0 -7.6 0M961.2 546.7a3.8 3.8 0 1 0 7.6 0a3.8 3.8 0 1 0 -7.6 0M961.8 543.4a3.8 3.8 0 1 0 7.6 0a3.8 3.8 0 1 0 -7.6 0M961.1 538.5a3.8 3.8 0 1 0 7.6 0a3.8 3.8 0 1 0 -7.6 0" fill="#bebebe"/>
<circle cx="734.9" cy="520.9" r="3.8" fill="#bebebe"/><circle cx="575.7" cy="531.1" r="3.8" fill="#bebebe"/><circle cx="566.1" cy="533.1" r="3.8" fill="#bebebe"/><circle cx="545.2" cy="512.5" r="3.8" fill="#bebebe"/><circle cx="563.3" cy="544.5" r="3.8" fill="#bebebe"/><circle cx="728.2" cy="534.6" r="3.8" fill="#bebebe"/><circle cx="553.2" cy="537.8" r="3.8" fill="#bebebe"/><circle cx="402.6" cy="517.5" r="3.8" fill="#0000ff"/><circle cx="707.7" cy="501.7" r="3.8" fill="#0000ff"/><circle cx="572.4" cy="527.1" r="3.8" fill="#bebebe"/><circle cx="547.5" cy="529.2" r="3.8" fill="#bebebe"/><circle cx="571.7" cy="519.4" r="3.8" fill="#bebebe"/><circle cx="722.6" cy="545.4" r="3.8" fill="#bebebe"/><circle cx="749.8" cy="532.7" r="3.8" fill="#bebebe"/><circle cx="404.7" cy="516.5" r="3.8" fill="#0000ff"/><circle cx="714.9" cy="520.8" r="3.8" fill="#bebebe"/><circle cx="675.7" cy="531.0" r="3.8" fill="#bebebe"/><circle cx="542.3" cy="518.9" r="3.8" fill="#bebebe"/><circle cx="541.7" cy="524.9" r="3.8" fill="#bebebe"/><circle cx="561.7" cy="529.9" r="3.8" fill="#bebebe"/><circle cx="719.3" cy="520.8" r="3.8" fill="#0000ff"/><circle cx="457.9" cy="540.3" r="3.8" fill="#bebebe"/><circle cx="556.0" cy="536.4" r="3.8" fill="#bebebe"/><circle cx="579.8" cy="535.6" r="3.8" fill="#bebebe"/><circle cx="540.4" cy="527.9" r="3.8" fill="#bebebe"/><circle cx="573.4" cy="515.2" r="3.8" fill="#bebebe"/><circle cx="741.0" cy="541.6" r="3.8" fill="#bebebe"/><circle cx="752.7" cy="525.5" r="3.8" fill="#bebebe"/><circle cx="367.6" cy="539.3" r="3.8" fill="#bebebe"/><circle cx="802.1" cy="531.5" r="3.8" fill="#bebebe"/><circle cx="736.5" cy="526.2" r="3.8" fill="#bebebe"/><circle cx="728.4" cy="537.7" r="3.8" fill="#bebebe"/><circle cx="395.3" cy="543.9" r="3.8" fill="#bebebe"/><circle cx="799.4" cy="522.2" r="3.8" fill="#0000ff"/><circle cx="402.1" cy="531.2" r="3.8" fill="#bebebe"/><circle cx="733.4" cy="536.0" r="3.8" fill="#bebebe"/><circle cx="703.9" cy="523.9" r="3.8" fill="#bebebe"/><circle cx="574.7" cy="546.3" r="3.8" fill="#bebebe"/><circle cx="760.1" cy="544.6" r="3.8" fill="#bebebe"/><circle cx="709.5" cy="541.4" r="3.8" fill="#bebebe"/><circle cx="569.5" cy="495.4" r="3.8" fill="#0000ff"/><circle cx="552.5" cy="499.0" r="3.8" fill="#0000ff"/><circle cx="405.3" cy="524.3" r="3.8" fill="#bebebe"/><circle cx="706.8" cy="502.7" r="3.8" fill="#0000ff"/><circle cx="564.3" cy="535.7" r="3.8" fill="#bebebe"/><circle cx="797.1" cy="533.0" r="3.8" fill="#0000ff"/><circle cx="402.3" cy="541.0" r="3.8" fill="#bebebe"/><circle cx="710.7" cy="501.1" r="3.8" fill="#0000ff"/><circle cx="807.9" cy="530.9" r="3.8" fill="#0000ff"/><circle cx="567.7" cy="511.5" r="3.8" fill="#0000ff"/><circle cx="718.4" cy="517.1" r="3.8" fill="#0000ff"/><circle cx="718.7" cy="530.7" r="3.8" fill="#bebebe"/><circle cx="752.2" cy="526.1" r="3.8" fill="#bebebe"/><circle cx="366.7" cy="544.8" r="3.8" fill="#bebebe"/><circle cx="386.7" cy="545.2" r="3.8" fill="#bebebe"/><circle cx="706.0" cy="530.5" r="3.8" fill="#0000ff"/><circle cx="413.4" cy="513.1" r="3.8" fill="#0000ff"/><circle cx="808.2" cy="546.5" r="3.8" fill="#bebebe"/><circle cx="715.5" cy="543.1" r="3.8" fill="#bebebe"/><circle cx="747.7" cy="545.3" r="3.8" fill="#bebebe"/><circle cx="565.5" cy="498.6" r="3.8" fill="#0000ff"/><circle cx="723.0" cy="530.1" r="3.8" fill="#bebebe"/><circle cx="382.2" cy="544.3" r="3.8" fill="#bebebe"/><circle cx="579.5" cy="526.3" r="3.8" fill="#0000ff"/><circle cx="560.7" cy="546.3" r="3.8" fill="#bebebe"/><circle cx="722.7" cy="519.8" r="3.8" fill="#0000ff"/><circle cx="572.0" cy="513.6" r="3.8" fill="#0000ff"/><circle cx="550.8" cy="512.8" r="3.8" fill="#bebebe"/><circle cx="576.4" cy="513.3" r="3.8" fill="#0000ff"/><circle cx="413.3" cy="518.5" r="3.8" fill="#0000ff"/><circle cx="752.5" cy="528.9" r="3.8" fill="#bebebe"/><circle cx="396.5" cy="530.8" r="3.8" fill="#0000ff"/><circle cx="541.8" cy="536.2" r="3.8" fill="#0000ff"/><circle cx="574.8" cy="501.6" r="3.8" fill="#0000ff"/><circle cx="551.8" cy="542.0" r="3.8" fill="#bebebe"/><circle cx="541.8" cy="533.3" r="3.8" fill="#bebebe"/><circle cx="577.3" cy="502.1" r="3.8" fill="#0000ff"/><circle cx="457.3" cy="545.9" r="3.8" fill="#bebebe"/><circle cx="746.6" cy="530.3" r="3.8" fill="#bebebe"/><circle cx="794.6" cy="537.1" r="3.8" fill="#bebebe"/><circle cx="752.2" cy="539.3" r="3.8" fill="#bebebe"/><circle cx="738.9" cy="531.3" r="3.8" fill="#bebebe"/><circle cx="544.5" cy="497.7" r="3.8" fill="#0000ff"/><circle cx="722.4" cy="522.7" r="3.8" fill="#bebebe"/><circle cx="408.3" cy="529.4" r="3.8" fill="#0000ff"/><circle cx="565.1" cy="520.8" r="3.8" fill="#0000ff"/><circle cx="726.0" cy="523.2" r="3.8" fill="#bebebe"/><circle cx="572.1" cy="541.4" r="3.8" fill="#bebebe"/><circle cx="746.0" cy="522.1" r="3.8" fill="#bebebe"/><circle cx="734.5" cy="524.8" r="3.8" fill="#bebebe"/><circle cx="403.2" cy="531.3" r="3.8" fill="#bebebe"/><circle cx="798.5" cy="529.9" r="3.8" fill="#0000ff"/><circle cx="551.8" cy="537.6" r="3.8" fill="#bebebe"/><circle cx="753.9" cy="519.9" r="3.8" fill="#bebebe"/><circle cx="546.8" cy="525.3" r="3.8" fill="#bebebe"/><circle cx="376.5" cy="545.6" r="3.8" fill="#bebebe"/><circle cx="543.0" cy="513.4" r="3.8" fill="#bebebe"/><circle cx="726.6" cy="525.0" r="3.8" fill="#bebebe"/><circle cx="724.8" cy="539.3" r="3.8" fill="#bebebe"/><circle cx="716.0" cy="539.4" r="3.8" fill="#bebebe"/><circle cx="567.4" cy="519.3" r="3.8" fill="#bebebe"/><circle cx="570.6" cy="546.0" r="3.8" fill="#bebebe"/><circle cx="574.3" cy="533.3" r="3.8" fill="#bebebe"/><circle cx="565.4" cy="525.1" r="3.8" fill="#0000ff"/><circle cx="364.6" cy="537.3" r="3.8" fill="#bebebe"/><circle cx="555.9" cy="541.1" r="3.8" fill="#bebebe"/><circle cx="737.7" cy="545.5" r="3.8" fill="#bebebe"/><circle cx="564.6" cy="523.7" r="3.8" fill="#bebebe"/><circle cx="572.5" cy="523.9" r="3.8" fill="#bebebe"/><circle cx="578.8" cy="522.8" r="3.8" fill="#bebebe"/><circle cx="562.9" cy="525.9" r="3.8" fill="#bebebe"/><circle cx="577.5" cy="523.8" r="3.8" fill="#bebebe"/><circle cx="556.9" cy="520.8" r="3.8" fill="#0000ff"/><circle cx="403.4" cy="526.1" r="3.8" fill="#0000ff"/><circle cx="454.3" cy="537.7" r="3.8" fill="#bebebe"/><circle cx="798.7" cy="540.4" r="3.8" fill="#bebebe"/><circle cx="712.4" cy="523.4" r="3.8" fill="#0000ff"/><circle cx="728.5" cy="521.4" r="3.8" fill="#0000ff"/><circle cx="740.4" cy="526.3" r="3.8" fill="#bebebe"/><circle cx="567.1" cy="500.2" r="3.8" fill="#0000ff"/><circle cx="667.5" cy="542.9" r="3.8" fill="#bebebe"/><circle cx="414.0" cy="526.4" r="3.8" fill="#0000ff"/><circle cx="579.7" cy="535.1" r="3.8" fill="#bebebe"/><circle cx="393.0" cy="531.4" r="3.8" fill="#0000ff"/><circle cx="706.9" cy="539.8" r="3.8" fill="#bebebe"/><circle cx="759.7" cy="532.7" r="3.8" fill="#0000ff"/><circle cx="668.0" cy="540.2" r="3.8" fill="#bebebe"/><circle cx="546.5" cy="524.0" r="3.8" fill="#bebebe"/><circle cx="574.1" cy="532.0" r="3.8" fill="#bebebe"/><circle cx="707.9" cy="535.1" r="3.8" fill="#bebebe"/><circle cx="720.9" cy="532.1" r="3.8" fill="#bebebe"/><circle cx="389.5" cy="543.1" r="3.8" fill="#bebebe"/><circle cx="392.1" cy="533.1" r="3.8" fill="#bebebe"/><circle cx="575.4" cy="522.5" r="3.8" fill="#bebebe"/><circle cx="715.2" cy="512.5" r="3.8" fill="#0000ff"/><circle cx="548.9" cy="502.1" r="3.8" fill="#0000ff"/><circle cx="405.9" cy="519.0" r="3.8" fill="#0000ff"/><circle cx="455.8" cy="543.1" r="3.8" fill="#bebebe"/><circle cx="740.4" cy="523.4" r="3.8" fill="#bebebe"/><circle cx="411.0" cy="513.9" r="3.8" fill="#0000ff"/><circle cx="566.9" cy="523.2" r="3.8" fill="#bebebe"/><circle cx="565.6" cy="524.4" r="3.8" fill="#bebebe"/><circle cx="758.4" cy="542.5" r="3.8" fill="#bebebe"/><circle cx="541.3" cy="525.4" r="3.8" fill="#bebebe"/><circle cx="800.5" cy="535.8" r="3.8" fill="#bebebe"/><circle cx="746.5" cy="539.7" r="3.8" fill="#bebebe"/><circle cx="734.3" cy="544.0" r="3.8" fill="#bebebe"/><circle cx="721.4" cy="528.7" r="3.8" fill="#bebebe"/><circle cx="749.7" cy="518.7" r="3.8" fill="#bebebe"/><circle cx="706.3" cy="507.3" r="3.8" fill="#0000ff"/><circle cx="567.8" cy="523.9" r="3.8" fill="#bebebe"/><circle cx="549.1" cy="546.1" r="3.8" fill="#bebebe"/><circle cx="742.1" cy="525.4" r="3.8" fill="#bebebe"/><circle cx="555.2" cy="505.3" r="3.8" fill="#0000ff"/><circle cx="557.1" cy="521.0" r="3.8" fill="#bebebe"/><circle cx="553.5" cy="511.9" r="3.8" fill="#0000ff"/><circle cx="730.8" cy="525.5" r="3.8" fill="#bebebe"/><circle cx="574.7" cy="541.9" r="3.8" fill="#bebebe"/><circle cx="575.9" cy="511.9" r="3.8" fill="#0000ff"/><circle cx="540.3" cy="526.3" r="3.8" fill="#bebebe"/><circle cx="742.6" cy="534.9" r="3.8" fill="#bebebe"/><circle cx="556.0" cy="521.6" r="3.8" fill="#bebebe"/><circle cx="712.8" cy="535.0" r="3.8" fill="#bebebe"/><circle cx="372.3" cy="537.1" r="3.8" fill="#bebebe"/><circle cx="413.0" cy="544.9" r="3.8" fill="#bebebe"/><circle cx="548.9" cy="532.9" r="3.8" fill="#bebebe"/><circle cx="552.7" cy="523.8" r="3.8" fill="#0000ff"/><circle cx="739.9" cy="524.3" r="3.8" fill="#bebebe"/><circle cx="544.2" cy="523.1" r="3.8" fill="#bebebe"/><circle cx="719.9" cy="530.4" r="3.8" fill="#bebebe"/><circle cx="554.6" cy="546.1" r="3.8" fill="#bebebe"/><circle cx="804.5" cy="545.5" r="3.8" fill="#bebebe"/><circle cx="550.6" cy="516.7" r="3.8" fill="#0000ff"/><circle cx="549.0" cy="535.5" r="3.8" fill="#bebebe"/><circle cx="739.3" cy="518.9" r="3.8" fill="#bebebe"/><circle cx="733.5" cy="542.0" r="3.8" fill="#bebebe"/><circle cx="736.4" cy="534.0" r="3.8" fill="#0000ff"/><circle cx="553.2" cy="514.3" r="3.8" fill="#bebebe"/><circle cx="542.1" cy="511.9" r="3.8" fill="#0000ff"/><circle cx="711.2" cy="502.6" r="3.8" fill="#0000ff"/><circle cx="732.8" cy="535.7" r="3.8" fill="#bebebe"/><circle cx="558.7" cy="544.1" r="3.8" fill="#bebebe"/><circle cx="744.8" cy="525.8" r="3.8" fill="#bebebe"/><circle cx="576.1" cy="494.6" r="3.8" fill="#0000ff"/><circle cx="558.3" cy="497.6" r="3.8" fill="#0000ff"/><circle cx="712.8" cy="526.9" r="3.8" fill="#bebebe"/><circle cx="401.8" cy="533.3" r="3.8" fill="#bebebe"/><circle cx="403.0" cy="528.5" r="3.8" fill="#0000ff"/><circle cx="736.0" cy="519.3" r="3.8" fill="#bebebe"/><circle cx="541.9" cy="535.7" r="3.8" fill="#bebebe"/><circle cx="808.5" cy="523.0" r="3.8" fill="#bebebe"/><circle cx="396.9" cy="542.1" r="3.8" fill="#bebebe"/><circle cx="577.2" cy="513.5" r="3.8" fill="#0000ff"/><circle cx="797.2" cy="535.6" r="3.8" fill="#bebebe"/><circle cx="733.9" cy="543.0" r="3.8" fill="#bebebe"/><circle cx="563.6" cy="527.6" r="3.8" fill="#bebebe"/><circle cx="567.8" cy="509.5" r="3.8" fill="#0000ff"/><circle cx="720.7" cy="531.2" r="3.8" fill="#0000ff"/><circle cx="414.5" cy="541.7" r="3.8" fill="#bebebe"/><circle cx="759.9" cy="541.8" r="3.8" fill="#bebebe"/><circle cx="562.0" cy="496.4" r="3.8" fill="#0000ff"/><circle cx="673.4" cy="537.6" r="3.8" fill="#bebebe"/><circle cx="748.9" cy="526.9" r="3.8" fill="#bebebe"/><circle cx="706.7" cy="529.0" r="3.8" fill="#bebebe"/><circle cx="389.3" cy="545.3" r="3.8" fill="#bebebe"/><circle cx="761.4" cy="537.3" r="3.8" fill="#bebebe"/><circle cx="578.0" cy="511.8" r="3.8" fill="#0000ff"/><circle cx="394.2" cy="531.8" r="3.8" fill="#bebebe"/><circle cx="577.9" cy="522.4" r="3.8" fill="#bebebe"/><circle cx="546.3" cy="494.8" r="3.8" fill="#0000ff"/><circle cx="710.6" cy="522.1" r="3.8" fill="#bebebe"/><circle cx="718.8" cy="526.4" r="3.8" fill="#bebebe"/><circle cx="400.6" cy="527.6" r="3.8" fill="#0000ff"/><circle cx="575.2" cy="524.6" r="3.8" fill="#0000ff"/><circle cx="750.7" cy="545.2" r="3.8" fill="#bebebe"/><circle cx="760.7" cy="524.4" r="3.8" fill="#bebebe"/><circle cx="574.6" cy="532.0" r="3.8" fill="#bebebe"/><circle cx="384.0" cy="540.7" r="3.8" fill="#bebebe"/><circle cx="717.9" cy="516.5" r="3.8" fill="#bebebe"/><circle cx="392.0" cy="537.0" r="3.8" fill="#bebebe"/><circle cx="405.8" cy="544.8" r="3.8" fill="#bebebe"/><circle cx="735.3" cy="539.7" r="3.8" fill="#bebebe"/><circle cx="394.7" cy="543.6" r="3.8" fill="#bebebe"/><circle cx="557.3" cy="530.3" r="3.8" fill="#bebebe"/><circle cx="703.1" cy="522.7" r="3.8" fill="#0000ff"/><circle cx="705.3" cy="540.4" r="3.8" fill="#bebebe"/><circle cx="410.3" cy="519.4" r="3.8" fill="#0000ff"/><circle cx="547.5" cy="520.7" r="3.8" fill="#bebebe"/><circle cx="567.7" cy="527.1" r="3.8" fill="#bebebe"/><circle cx="573.2" cy="538.3" r="3.8" fill="#0000ff"/><circle cx="382.8" cy="540.0" r="3.8" fill="#bebebe"/><circle cx="705.7" cy="537.0" r="3.8" fill="#bebebe"/><circle cx="763.7" cy="544.1" r="3.8" fill="#bebebe"/><circle cx="544.7" cy="516.1" r="3.8" fill="#bebebe"/><circle cx="546.5" cy="531.7" r="3.8" fill="#bebebe"/><circle cx="749.4" cy="533.2" r="3.8" fill="#bebebe"/><circle cx="556.0" cy="543.8" r="3.8" fill="#bebebe"/><circle cx="799.3" cy="528.7" r="3.8" fill="#0000ff"/><circle cx="390.0" cy="532.2" r="3.8" fill="#bebebe"/><circle cx="571.9" cy="503.6" r="3.8" fill="#0000ff"/><circle cx="396.7" cy="538.0" r="3.8" fill="#bebebe"/><circle cx="726.1" cy="545.0" r="3.8" fill="#bebebe"/><circle cx="399.0" cy="538.7" r="3.8" fill="#bebebe"/><circle cx="719.6" cy="520.9" r="3.8" fill="#0000ff"/><circle cx="721.3" cy="523.7" r="3.8" fill="#bebebe"/><circle cx="399.6" cy="533.6" r="3.8" fill="#bebebe"/><circle cx="557.1" cy="523.1" r="3.8" fill="#bebebe"/><circle cx="399.2" cy="541.4" r="3.8" fill="#bebebe"/><circle cx="549.2" cy="525.5" r="3.8" fill="#bebebe"/><circle cx="555.6" cy="538.7" r="3.8" fill="#bebebe"/><circle cx="552.3" cy="499.1" r="3.8" fill="#0000ff"/><circle cx="549.9" cy="512.4" r="3.8" fill="#bebebe"/><circle cx="563.0" cy="530.3" r="3.8" fill="#bebebe"/><circle cx="800.0" cy="525.7" r="3.8" fill="#0000ff"/><circle cx="551.7" cy="498.8" r="3.8" fill="#0000ff"/><circle cx="724.6" cy="501.6" r="3.8" fill="#0000ff"/><circle cx="541.6" cy="517.0" r="3.8" fill="#bebebe"/><circle cx="562.4" cy="535.9" r="3.8" fill="#bebebe"/><circle cx="733.7" cy="519.7" r="3.8" fill="#bebebe"/><circle cx="393.8" cy="527.1" r="3.8" fill="#0000ff"/><circle cx="573.0" cy="501.0" r="3.8" fill="#0000ff"/><circle cx="561.3" cy="539.8" r="3.8" fill="#bebebe"/><circle cx="578.1" cy="518.3" r="3.8" fill="#0000ff"/><circle cx="575.3" cy="513.9" r="3.8" fill="#0000ff"/><circle cx="703.2" cy="531.6" r="3.8" fill="#bebebe"/><circle cx="795.8" cy="546.0" r="3.8" fill="#bebebe"/><circle cx="553.3" cy="511.7" r="3.8" fill="#0000ff"/><circle cx="754.5" cy="532.3" r="3.8" fill="#bebebe"/><circle cx="397.8" cy="518.6" r="3.8" fill="#0000ff"/><circle cx="555.8" cy="524.1" r="3.8" fill="#bebebe"/><circle cx="710.5" cy="520.5" r="3.8" fill="#bebebe"/><circle cx="548.8" cy="504.1" r="3.8" fill="#0000ff"/><circle cx="548.7" cy="533.3" r="3.8" fill="#bebebe"/><circle cx="574.7" cy="518.0" r="3.8" fill="#bebebe"/><circle cx="413.5" cy="527.5" r="3.8" fill="#0000ff"/><circle cx="756.4" cy="535.7" r="3.8" fill="#bebebe"/><circle cx="708.6" cy="535.8" r="3.8" fill="#bebebe"/><circle cx="540.3" cy="535.8" r="3.8" fill="#bebebe"/><circle cx="748.5" cy="539.8" r="3.8" fill="#bebebe"/><circle cx="725.4" cy="529.9" r="3.8" fill="#bebebe"/><circle cx="754.4" cy="537.7" r="3.8" fill="#bebebe"/><circle cx="546.4" cy="508.1" r="3.8" fill="#0000ff"/><circle cx="402.7" cy="545.9" r="3.8" fill="#bebebe"/><circle cx="550.5" cy="511.8" r="3.8" fill="#0000ff"/><circle cx="809.0" cy="525.2" r="3.8" fill="#0000ff"/><circle cx="548.6" cy="524.6" r="3.8" fill="#bebebe"/><circle cx="719.3" cy="525.6" r="3.8" fill="#bebebe"/><circle cx="393.9" cy="531.1" r="3.8" fill="#bebebe"/><circle cx="578.2" cy="541.8" r="3.8" fill="#bebebe"/><circle cx="567.0" cy="519.7" r="3.8" fill="#bebebe"/><circle cx="406.0" cy="527.4" r="3.8" fill="#bebebe"/><circle cx="571.6" cy="528.4" r="3.8" fill="#bebebe"/><circle cx="546.3" cy="533.4" r="3.8" fill="#bebebe"/><circle cx="760.9" cy="537.2" r="3.8" fill="#bebebe"/><circle cx="562.1" cy="535.1" r="3.8" fill="#bebebe"/><circle cx="553.5" cy="528.6" r="3.8" fill="#bebebe"/><circle cx="559.6" cy="511.9" r="3.8" fill="#0000ff"/><circle cx="744.0" cy="538.1" r="3.8" fill="#bebebe"/><circle cx="740.4" cy="525.9" r="3.8" fill="#bebebe"/><circle cx="542.4" cy="520.4" r="3.8" fill="#bebebe"/><circle cx="733.9" cy="546.0" r="3.8" fill="#bebebe"/><circle cx="725.6" cy="539.2" r="3.8" fill="#bebebe"/><circle cx="757.6" cy="539.1" r="3.8" fill="#bebebe"/><circle cx="543.5" cy="512.2" r="3.8" fill="#0000ff"/><circle cx="402.4" cy="528.3" r="3.8" fill="#bebebe"/><circle cx="546.5" cy="511.6" r="3.8" fill="#0000ff"/><circle cx="415.4" cy="532.7" r="3.8" fill="#bebebe"/><circle cx="809.8" cy="528.4" r="3.8" fill="#bebebe"/><circle cx="809.3" cy="544.0" r="3.8" fill="#bebebe"/><circle cx="575.9" cy="496.7" r="3.8" fill="#0000ff"/><circle cx="712.4" cy="539.6" r="3.8" fill="#bebebe"/><circle cx="577.5" cy="540.4" r="3.8" fill="#bebebe"/><circle cx="552.3" cy="534.8" r="3.8" fill="#0000ff"/><circle cx="558.8" cy="525.2" r="3.8" fill="#bebebe"/><circle cx="546.2" cy="533.2" r="3.8" fill="#bebebe"/><circle cx="378.7" cy="545.4" r="3.8" fill="#bebebe"/><circle cx="561.0" cy="512.9" r="3.8" fill="#0000ff"/><circle cx="704.2" cy="526.8" r="3.8" fill="#bebebe"/><circle cx="573.1" cy="516.7" r="3.8" fill="#0000ff"/><circle cx="573.4" cy="536.7" r="3.8" fill="#bebebe"/><circle cx="547.6" cy="513.6" r="3.8" fill="#0000ff"/><circle cx="556.0" cy="513.1" r="3.8" fill="#bebebe"/><circle cx="387.1" cy="540.3" r="3.8" fill="#bebebe"/><circle cx="719.2" cy="527.6" r="3.8" fill="#bebebe"/><circle cx="540.2" cy="518.1" r="3.8" fill="#bebebe"/><circle cx="578.2" cy="521.4" r="3.8" fill="#bebebe"/><circle cx="576.2" cy="503.8" r="3.8" fill="#0000ff"/><circle cx="734.1" cy="540.7" r="3.8" fill="#bebebe"/><circle cx="575.8" cy="522.0" r="3.8" fill="#bebebe"/><circle cx="563.1" cy="542.0" r="3.8" fill="#bebebe"/><circle cx="549.5" cy="528.1" r="3.8" fill="#bebebe"/><circle cx="401.9" cy="517.8" r="3.8" fill="#0000ff"/><circle cx="399.4" cy="535.0" r="3.8" fill="#bebebe"/><circle cx="720.7" cy="532.6" r="3.8" fill="#0000ff"/><circle cx="796.7" cy="526.1" r="3.8" fill="#0000ff"/><circle cx="759.1" cy="533.5" r="3.8" fill="#bebebe"/><circle cx="541.2" cy="517.5" r="3.8" fill="#bebebe"/><circle cx="728.0" cy="542.6" r="3.8" fill="#bebebe"/><circle cx="570.6" cy="537.1" r="3.8" fill="#bebebe"/><circle cx="365.6" cy="544.1" r="3.8" fill="#bebebe"/><circle cx="672.4" cy="531.1" r="3.8" fill="#0000ff"/><circle cx="747.5" cy="526.2" r="3.8" fill="#bebebe"/><circle cx="762.7" cy="533.9" r="3.8" fill="#bebebe"/><circle cx="566.6" cy="496.6" r="3.8" fill="#0000ff"/><circle cx="553.8" cy="545.8" r="3.8" fill="#bebebe"/><circle cx="403.1" cy="546.1" r="3.8" fill="#bebebe"/><circle cx="562.2" cy="543.2" r="3.8" fill="#bebebe"/><circle cx="705.7" cy="514.9" r="3.8" fill="#0000ff"/><circle cx="715.7" cy="523.2" r="3.8" fill="#bebebe"/><circle cx="578.8" cy="545.7" r="3.8" fill="#bebebe"/><circle cx="748.3" cy="519.7" r="3.8" fill="#bebebe"/><circle cx="731.2" cy="521.0" r="3.8" fill="#bebebe"/><circle cx="710.7" cy="532.5" r="3.8" fill="#0000ff"/><circle cx="754.7" cy="545.9" r="3.8" fill="#bebebe"/><circle cx="755.4" cy="519.5" r="3.8" fill="#0000ff"/><circle cx="415.3" cy="544.6" r="3.8" fill="#bebebe"/><circle cx="761.4" cy="523.1" r="3.8" fill="#bebebe"/><circle cx="558.5" cy="537.4" r="3.8" fill="#bebebe"/><circle cx="717.6" cy="521.8" r="3.8" fill="#0000ff"/><circle cx="575.9" cy="499.1" r="3.8" fill="#0000ff"/><circle cx="413.8" cy="536.1" r="3.8" fill="#bebebe"/><circle cx="452.0" cy="544.9" r="3.8" fill="#bebebe"/><circle cx="563.7" cy="496.5" r="3.8" fill="#0000ff"/><circle cx="565.1" cy="540.5" r="3.8" fill="#bebebe"/><circle cx="735.3" cy="525.0" r="3.8" fill="#0000ff"/><circle cx="542.2" cy="519.2" r="3.8" fill="#bebebe"/><circle cx="556.0" cy="532.9" r="3.8" fill="#bebebe"/><circle cx="563.6" cy="544.4" r="3.8" fill="#bebebe"/><circle cx="554.2" cy="517.5" r="3.8" fill="#bebebe"/><circle cx="402.6" cy="545.0" r="3.8" fill="#bebebe"/><circle cx="733.1" cy="526.1" r="3.8" fill="#0000ff"/><circle cx="553.2" cy="524.6" r="3.8" fill="#bebebe"/><circle cx="803.4" cy="531.6" r="3.8" fill="#bebebe"/><circle cx="544.4" cy="542.8" r="3.8" fill="#bebebe"/><circle cx="734.5" cy="537.8" r="3.8" fill="#bebebe"/><circle cx="397.7" cy="537.8" r="3.8" fill="#bebebe"/><circle cx="541.2" cy="512.3" r="3.8" fill="#bebebe"/><circle cx="724.6" cy="534.8" r="3.8" fill="#bebebe"/><circle cx="712.9" cy="539.4" r="3.8" fill="#bebebe"/><circle cx="710.1" cy="544.5" r="3.8" fill="#bebebe"/><circle cx="556.9" cy="539.6" r="3.8" fill="#bebebe"/><circle cx="728.0" cy="528.2" r="3.8" fill="#bebebe"/><circle cx="723.7" cy="539.6" r="3.8" fill="#bebebe"/><circle cx="542.7" cy="523.0" r="3.8" fill="#bebebe"/><circle cx="389.6" cy="541.7" r="3.8" fill="#bebebe"/><circle cx="737.6" cy="529.1" r="3.8" fill="#bebebe"/><circle cx="747.3" cy="533.1" r="3.8" fill="#0000ff"/><circle cx="550.0" cy="542.6" r="3.8" fill="#bebebe"/><circle cx="565.2" cy="530.9" r="3.8" fill="#bebebe"/><circle cx="552.7" cy="529.3" r="3.8" fill="#bebebe"/><circle cx="565.9" cy="513.6" r="3.8" fill="#0000ff"/><circle cx="569.7" cy="522.1" r="3.8" fill="#bebebe"/><circle cx="556.1" cy="540.4" r="3.8" fill="#bebebe"/><circle cx="565.0" cy="493.5" r="3.8" fill="#bebebe"/><circle cx="369.6" cy="544.9" r="3.8" fill="#bebebe"/><circle cx="579.2" cy="524.8" r="3.8" fill="#bebebe"/><circle cx="714.4" cy="529.3" r="3.8" fill="#bebebe"/><circle cx="735.4" cy="542.6" r="3.8" fill="#bebebe"/><circle cx="545.6" cy="515.1" r="3.8" fill="#0000ff"/><circle cx="576.1" cy="513.6" r="3.8" fill="#0000ff"/><circle cx="805.2" cy="544.7" r="3.8" fill="#bebebe"/><circle cx="562.9" cy="497.6" r="3.8" fill="#0000ff"/><circle cx="542.9" cy="526.7" r="3.8" fill="#bebebe"/><circle cx="746.9" cy="533.5" r="3.8" fill="#bebebe"/><circle cx="403.7" cy="540.1" r="3.8" fill="#bebebe"/><circle cx="717.5" cy="526.1" r="3.8" fill="#0000ff"/><circle cx="725.6" cy="519.9" r="3.8" fill="#bebebe"/><circle cx="546.5" cy="527.6" r="3.8" fill="#0000ff"/><circle cx="753.6" cy="526.2" r="3.8" fill="#bebebe"/><circle cx="558.4" cy="493.6" r="3.8" fill="#0000ff"/><circle cx="566.8" cy="516.2" r="3.8" fill="#bebebe"/><circle cx="729.7" cy="527.9" r="3.8" fill="#bebebe"/><circle cx="736.5" cy="542.1" r="3.8" fill="#bebebe"/><circle cx="805.3" cy="531.1" r="3.8" fill="#0000ff"/><circle cx="714.2" cy="508.4" r="3.8" fill="#bebebe"/><circle cx="729.4" cy="540.3" r="3.8" fill="#bebebe"/><circle cx="402.1" cy="543.2" r="3.8" fill="#bebebe"/><circle cx="565.5" cy="514.2" r="3.8" fill="#bebebe"/><circle cx="555.9" cy="493.8" r="3.8" fill="#0000ff"/><circle cx="560.5" cy="544.4" r="3.8" fill="#bebebe"/><circle cx="411.7" cy="542.1" r="3.8" fill="#bebebe"/><circle cx="579.6" cy="512.7" r="3.8" fill="#0000ff"/><circle cx="673.3" cy="539.4" r="3.8" fill="#bebebe"/><circle cx="723.1" cy="521.1" r="3.8" fill="#0000ff"/><circle cx="545.5" cy="546.1" r="3.8" fill="#bebebe"/><circle cx="570.5" cy="540.9" r="3.8" fill="#bebebe"/><circle cx="735.7" cy="519.3" r="3.8" fill="#0000ff"/><circle cx="805.1" cy="526.6" r="3.8" fill="#0000ff"/><circle cx="554.7" cy="522.0" r="3.8" fill="#bebebe"/><circle cx="707.6" cy="544.9" r="3.8" fill="#bebebe"/><circle cx="666.4" cy="536.8" r="3.8" fill="#bebebe"/><circle cx="567.8" cy="498.5" r="3.8" fill="#0000ff"/><circle cx="547.0" cy="532.6" r="3.8" fill="#bebebe"/><circle cx="726.7" cy="528.3" r="3.8" fill="#bebebe"/><circle cx="564.2" cy="526.9" r="3.8" fill="#bebebe"/><circle cx="380.5" cy="541.7" r="3.8" fill="#bebebe"/><circle cx="455.2" cy="539.3" r="3.8" fill="#bebebe"/><circle cx="562.0" cy="525.0" r="3.8" fill="#bebebe"/><circle cx="541.1" cy="541.5" r="3.8" fill="#bebebe"/><circle cx="570.8" cy="500.8" r="3.8" fill="#0000ff"/><circle cx="395.6" cy="541.1" r="3.8" fill="#bebebe"/><circle cx="550.5" cy="539.8" r="3.8" fill="#bebebe"/><circle cx="413.7" cy="530.3" r="3.8" fill="#bebebe"/><circle cx="550.5" cy="530.6" r="3.8" fill="#bebebe"/><circle cx="401.3" cy="543.9" r="3.8" fill="#bebebe"/><circle cx="542.2" cy="522.2" r="3.8" fill="#bebebe"/><circle cx="734.8" cy="522.0" r="3.8" fill="#0000ff"/><circle cx="569.8" cy="518.5" r="3.8" fill="#0000ff"/><circle cx="745.3" cy="533.8" r="3.8" fill="#bebebe"/><circle cx="751.1" cy="522.9" r="3.8" fill="#bebebe"/><circle cx="551.1" cy="523.8" r="3.8" fill="#bebebe"/><circle cx="709.2" cy="513.1" r="3.8" fill="#0000ff"/><circle cx="549.2" cy="531.6" r="3.8" fill="#bebebe"/><circle cx="540.3" cy="537.7" r="3.8" fill="#bebebe"/><circle cx="756.5" cy="520.1" r="3.8" fill="#bebebe"/><circle cx="557.5" cy="511.3" r="3.8" fill="#0000ff"/><circle cx="715.0" cy="526.8" r="3.8" fill="#bebebe"/><circle cx="556.9" cy="502.7" r="3.8" fill="#0000ff"/><circle cx="706.4" cy="525.3" r="3.8" fill="#bebebe"/><circle cx="388.9" cy="542.1" r="3.8" fill="#bebebe"/><circle cx="556.4" cy="522.4" r="3.8" fill="#bebebe"/><circle cx="760.4" cy="542.9" r="3.8" fill="#bebebe"/><circle cx="728.2" cy="537.6" r="3.8" fill="#bebebe"/><circle cx="558.8" cy="524.9" r="3.8" fill="#bebebe"/><circle cx="402.5" cy="532.8" r="3.8" fill="#bebebe"/><circle cx="800.3" cy="542.9" r="3.8" fill="#bebebe"/><circle cx="750.9" cy="536.0" r="3.8" fill="#bebebe"/><circle cx="559.9" cy="531.0" r="3.8" fill="#bebebe"/><circle cx="730.6" cy="531.5" r="3.8" fill="#bebebe"/><circle cx="540.5" cy="526.9" r="3.8" fill="#bebebe"/><circle cx="733.2" cy="535.5" r="3.8" fill="#bebebe"/><circle cx="545.6" cy="535.6" r="3.8" fill="#bebebe"/><circle cx="543.4" cy="523.7" r="3.8" fill="#bebebe"/><circle cx="546.4" cy="517.8" r="3.8" fill="#bebebe"/><circle cx="748.2" cy="537.8" r="3.8" fill="#bebebe"/><circle cx="573.3" cy="538.9" r="3.8" fill="#bebebe"/><circle cx="763.5" cy="535.1" r="3.8" fill="#bebebe"/><circle cx="710.3" cy="526.0" r="3.8" fill="#bebebe"/><circle cx="557.1" cy="524.7" r="3.8" fill="#bebebe"/><circle cx="758.5" cy="525.2" r="3.8" fill="#bebebe"/><circle cx="554.5" cy="520.9" r="3.8" fill="#0000ff"/><circle cx="397.6" cy="542.0" r="3.8" fill="#bebebe"/><circle cx="734.4" cy="534.1" r="3.8" fill="#bebebe"/><circle cx="562.9" cy="515.1" r="3.8" fill="#0000ff"/><circle cx="574.9" cy="536.3" r="3.8" fill="#bebebe"/><circle cx="451.9" cy="539.7" r="3.8" fill="#bebebe"/><circle cx="718.6" cy="524.2" r="3.8" fill="#bebebe"/><circle cx="705.7" cy="517.4" r="3.8" fill="#0000ff"/><circle cx="397.5" cy="527.8" r="3.8" fill="#0000ff"/><circle cx="720.4" cy="520.3" r="3.8" fill="#0000ff"/><circle cx="372.0" cy="543.1" r="3.8" fill="#bebebe"/><circle cx="410.2" cy="522.6" r="3.8" fill="#bebebe"/><circle cx="568.2" cy="546.4" r="3.8" fill="#bebebe"/><circle cx="406.6" cy="517.7" r="3.8" fill="#0000ff"/><circle cx="554.9" cy="524.3" r="3.8" fill="#bebebe"/><circle cx="411.8" cy="543.5" r="3.8" fill="#bebebe"/><circle cx="754.8" cy="537.9" r="3.8" fill="#bebebe"/><circle cx="744.0" cy="528.3" r="3.8" fill="#bebebe"/><circle cx="542.0" cy="515.8" r="3.8" fill="#bebebe"/><circle cx="711.3" cy="537.2" r="3.8" fill="#bebebe"/><circle cx="403.2" cy="517.3" r="3.8" fill="#0000ff"/><circle cx="731.4" cy="517.7" r="3.8" fill="#bebebe"/><circle cx="668.3" cy="537.9" r="3.8" fill="#bebebe"/><circle cx="569.1" cy="543.2" r="3.8" fill="#bebebe"/><circle cx="570.9" cy="497.8" r="3.8" fill="#0000ff"/><circle cx="541.4" cy="531.5" r="3.8" fill="#bebebe"/><circle cx="552.0" cy="523.2" r="3.8" fill="#bebebe"/><circle cx="544.5" cy="544.7" r="3.8" fill="#bebebe"/><circle cx="713.6" cy="537.7" r="3.8" fill="#bebebe"/><circle cx="399.0" cy="533.7" r="3.8" fill="#bebebe"/><circle cx="735.3" cy="546.3" r="3.8" fill="#bebebe"/><circle cx="721.6" cy="525.6" r="3.8" fill="#0000ff"/><circle cx="708.1" cy="538.5" r="3.8" fill="#bebebe"/><circle cx="577.4" cy="524.8" r="3.8" fill="#bebebe"/><circle cx="548.5" cy="541.8" r="3.8" fill="#bebebe"/><circle cx="553.0" cy="533.4" r="3.8" fill="#bebebe"/><circle cx="568.4" cy="520.2" r="3.8" fill="#bebebe"/><circle cx="564.8" cy="544.9" r="3.8" fill="#bebebe"/><circle cx="556.7" cy="523.9" r="3.8" fill="#bebebe"/><circle cx="707.7" cy="540.3" r="3.8" fill="#bebebe"/><circle cx="542.0" cy="523.3" r="3.8" fill="#bebebe"/><circle cx="752.7" cy="535.5" r="3.8" fill="#0000ff"/><circle cx="389.1" cy="532.3" r="3.8" fill="#0000ff"/><circle cx="574.3" cy="535.0" r="3.8" fill="#bebebe"/><circle cx="555.1" cy="516.1" r="3.8" fill="#bebebe"/><circle cx="745.1" cy="532.4" r="3.8" fill="#bebebe"/><circle cx="395.3" cy="545.6" r="3.8" fill="#bebebe"/><circle cx="542.8" cy="530.5" r="3.8" fill="#bebebe"/><circle cx="545.7" cy="542.8" r="3.8" fill="#bebebe"/><circle cx="541.2" cy="514.2" r="3.8" fill="#bebebe"/><circle cx="704.4" cy="533.8" r="3.8" fill="#bebebe"/><circle cx="571.0" cy="528.1" r="3.8" fill="#bebebe"/><circle cx="572.9" cy="525.5" r="3.8" fill="#bebebe"/><circle cx="717.9" cy="542.8" r="3.8" fill="#bebebe"/><circle cx="579.1" cy="493.2" r="3.8" fill="#0000ff"/><circle cx="712.1" cy="540.2" r="3.8" fill="#bebebe"/><circle cx="544.0" cy="540.1" r="3.8" fill="#bebebe"/><circle cx="412.2" cy="535.7" r="3.8" fill="#bebebe"/><circle cx="569.5" cy="525.2" r="3.8" fill="#bebebe"/><circle cx="725.1" cy="539.1" r="3.8" fill="#0000ff"/><circle cx="572.1" cy="540.8" r="3.8" fill="#bebebe"/><circle cx="734.3" cy="516.7" r="3.8" fill="#0000ff"/><circle cx="738.7" cy="532.1" r="3.8" fill="#0000ff"/><circle cx="563.9" cy="532.1" r="3.8" fill="#0000ff"/><circle cx="717.4" cy="534.4" r="3.8" fill="#bebebe"/><circle cx="408.9" cy="527.0" r="3.8" fill="#0000ff"/><circle cx="397.7" cy="516.8" r="3.8" fill="#0000ff"/><circle cx="715.2" cy="530.3" r="3.8" fill="#bebebe"/><circle cx="750.7" cy="535.4" r="3.8" fill="#0000ff"/><circle cx="548.8" cy="545.1" r="3.8" fill="#bebebe"/><circle cx="573.9" cy="535.3" r="3.8" fill="#bebebe"/><circle cx="564.2" cy="531.3" r="3.8" fill="#bebebe"/><circle cx="724.0" cy="503.2" r="3.8" fill="#0000ff"/><circle cx="713.3" cy="524.5" r="3.8" fill="#bebebe"/><circle cx="754.6" cy="523.0" r="3.8" fill="#bebebe"/><circle cx="572.6" cy="494.4" r="3.8" fill="#0000ff"/><circle cx="547.1" cy="534.6" r="3.8" fill="#bebebe"/><circle cx="542.8" cy="523.2" r="3.8" fill="#bebebe"/><circle cx="751.6" cy="544.1" r="3.8" fill="#bebebe"/><circle cx="568.8" cy="522.6" r="3.8" fill="#bebebe"/><circle cx="400.6" cy="530.7" r="3.8" fill="#0000ff"/><circle cx="557.9" cy="538.4" r="3.8" fill="#bebebe"/><circle cx="540.3" cy="520.4" r="3.8" fill="#0000ff"/><circle cx="541.9" cy="532.2" r="3.8" fill="#bebebe"/><circle cx="568.4" cy="519.9" r="3.8" fill="#0000ff"/><circle cx="718.2" cy="524.9" r="3.8" fill="#0000ff"/><circle cx="410.7" cy="533.7" r="3.8" fill="#bebebe"/><circle cx="742.3" cy="518.9" r="3.8" fill="#0000ff"/><circle cx="569.4" cy="546.3" r="3.8" fill="#bebebe"/><circle cx="806.5" cy="523.5" r="3.8" fill="#0000ff"/><circle cx="556.5" cy="512.9" r="3.8" fill="#0000ff"/><circle cx="549.9" cy="519.9" r="3.8" fill="#bebebe"/><circle cx="550.4" cy="528.3" r="3.8" fill="#bebebe"/><circle cx="568.0" cy="535.4" r="3.8" fill="#0000ff"/><circle cx="550.5" cy="529.0" r="3.8" fill="#bebebe"/><circle cx="704.4" cy="520.6" r="3.8" fill="#bebebe"/><circle cx="547.7" cy="528.2" r="3.8" fill="#0000ff"/><circle cx="570.1" cy="505.3" r="3.8" fill="#0000ff"/><circle cx="737.6" cy="522.6" r="3.8" fill="#bebebe"/><circle cx="549.7" cy="540.8" r="3.8" fill="#bebebe"/><circle cx="370.3" cy="542.3" r="3.8" fill="#bebebe"/><circle cx="391.9" cy="540.5" r="3.8" fill="#bebebe"/><circle cx="398.6" cy="539.9" r="3.8" fill="#bebebe"/><circle cx="404.8" cy="513.1" r="3.8" fill="#0000ff"/><circle cx="720.5" cy="544.8" r="3.8" fill="#bebebe"/><circle cx="545.4" cy="524.4" r="3.8" fill="#bebebe"/><circle cx="557.5" cy="511.5" r="3.8" fill="#0000ff"/><circle cx="555.8" cy="541.7" r="3.8" fill="#bebebe"/><circle cx="718.7" cy="535.9" r="3.8" fill="#bebebe"/><circle cx="754.4" cy="539.2" r="3.8" fill="#bebebe"/><circle cx="549.6" cy="517.6" r="3.8" fill="#bebebe"/><circle cx="736.5" cy="523.7" r="3.8" fill="#bebebe"/><circle cx="545.8" cy="535.4" r="3.8" fill="#bebebe"/><circle cx="547.0" cy="518.2" r="3.8" fill="#bebebe"/><circle cx="738.5" cy="521.4" r="3.8" fill="#bebebe"/><circle cx="713.7" cy="518.0" r="3.8" fill="#bebebe"/><circle cx="578.1" cy="517.2" r="3.8" fill="#0000ff"/><circle cx="566.9" cy="517.6" r="3.8" fill="#bebebe"/><circle cx="559.0" cy="522.0" r="3.8" fill="#bebebe"/><circle cx="414.3" cy="536.4" r="3.8" fill="#bebebe"/><circle cx="723.3" cy="544.6" r="3.8" fill="#bebebe"/><circle cx="710.4" cy="517.4" r="3.8" fill="#0000ff"/><circle cx="711.4" cy="537.9" r="3.8" fill="#bebebe"/><circle cx="452.0" cy="539.0" r="3.8" fill="#bebebe"/><circle cx="542.5" cy="532.6" r="3.8" fill="#bebebe"/><circle cx="715.5" cy="517.6" r="3.8" fill="#bebebe"/><circle cx="714.7" cy="543.4" r="3.8" fill="#bebebe"/><circle cx="669.2" cy="536.6" r="3.8" fill="#bebebe"/><circle cx="542.1" cy="525.3" r="3.8" fill="#bebebe"/><circle cx="541.3" cy="524.6" r="3.8" fill="#bebebe"/><circle cx="551.6" cy="536.3" r="3.8" fill="#bebebe"/><circle cx="388.3" cy="536.8" r="3.8" fill="#bebebe"/><circle cx="388.2" cy="544.5" r="3.8" fill="#bebebe"/><circle cx="575.5" cy="522.1" r="3.8" fill="#bebebe"/><circle cx="760.2" cy="524.2" r="3.8" fill="#bebebe"/><circle cx="561.3" cy="520.4" r="3.8" fill="#bebebe"/><circle cx="571.2" cy="515.2" r="3.8" fill="#bebebe"/><circle cx="727.5" cy="532.4" r="3.8" fill="#0000ff"/><circle cx="559.6" cy="524.3" r="3.8" fill="#bebebe"/><circle cx="716.6" cy="535.9" r="3.8" fill="#bebebe"/><circle cx="744.9" cy="533.1" r="3.8" fill="#bebebe"/><circle cx="719.7" cy="521.8" r="3.8" fill="#0000ff"/><circle cx="569.8" cy="514.0" r="3.8" fill="#bebebe"/><circle cx="794.0" cy="522.0" r="3.8" fill="#bebebe"/><circle cx="734.0" cy="524.5" r="3.8" fill="#bebebe"/><circle cx="552.3" cy="508.6" r="3.8" fill="#0000ff"/><circle cx="579.6" cy="525.3" r="3.8" fill="#bebebe"/><circle cx="732.1" cy="524.9" r="3.8" fill="#0000ff"/><circle cx="708.4" cy="516.5" r="3.8" fill="#bebebe"/><circle cx="541.5" cy="530.3" r="3.8" fill="#bebebe"/><circle cx="731.8" cy="531.4" r="3.8" fill="#bebebe"/><circle cx="542.8" cy="527.9" r="3.8" fill="#bebebe"/><circle cx="396.5" cy="538.1" r="3.8" fill="#bebebe"/><circle cx="742.7" cy="530.6" r="3.8" fill="#bebebe"/><circle cx="557.7" cy="526.7" r="3.8" fill="#bebebe"/><circle cx="568.3" cy="519.3" r="3.8" fill="#bebebe"/><circle cx="739.8" cy="536.7" r="3.8" fill="#bebebe"/><circle cx="753.7" cy="537.8" r="3.8" fill="#bebebe"/><circle cx="714.5" cy="530.4" r="3.8" fill="#bebebe"/><circle cx="407.1" cy="545.2" r="3.8" fill="#bebebe"/><circle cx="674.6" cy="545.4" r="3.8" fill="#bebebe"/><circle cx="565.3" cy="533.0" r="3.8" fill="#bebebe"/><circle cx="396.9" cy="545.5" r="3.8" fill="#bebebe"/><circle cx="743.2" cy="522.2" r="3.8" fill="#bebebe"/><circle cx="564.0" cy="512.1" r="3.8" fill="#bebebe"/><circle cx="560.0" cy="534.1" r="3.8" fill="#bebebe"/><circle cx="393.6" cy="528.7" r="3.8" fill="#bebebe"/><circle cx="753.4" cy="522.2" r="3.8" fill="#bebebe"/><circle cx="562.1" cy="539.4" r="3.8" fill="#bebebe"/><circle cx="578.8" cy="512.5" r="3.8" fill="#0000ff"/><circle cx="547.4" cy="514.8" r="3.8" fill="#0000ff"/><circle cx="755.4" cy="539.6" r="3.8" fill="#bebebe"/><circle cx="551.4" cy="496.4" r="3.8" fill="#0000ff"/><circle cx="562.9" cy="539.7" r="3.8" fill="#bebebe"/><circle cx="569.2" cy="518.0" r="3.8" fill="#0000ff"/><circle cx="733.3" cy="535.5" r="3.8" fill="#bebebe"/><circle cx="555.5" cy="511.9" r="3.8" fill="#0000ff"/><circle cx="549.9" cy="516.2" r="3.8" fill="#bebebe"/><circle cx="556.0" cy="523.9" r="3.8" fill="#bebebe"/><circle cx="414.5" cy="545.0" r="3.8" fill="#bebebe"/><circle cx="724.2" cy="519.3" r="3.8" fill="#0000ff"/><circle cx="744.3" cy="524.5" r="3.8" fill="#bebebe"/><circle cx="559.0" cy="523.8" r="3.8" fill="#bebebe"/><circle cx="553.0" cy="534.8" r="3.8" fill="#bebebe"/><circle cx="704.4" cy="542.5" r="3.8" fill="#bebebe"/><circle cx="568.3" cy="515.0" r="3.8" fill="#bebebe"/><circle cx="563.0" cy="503.9" r="3.8" fill="#bebebe"/>
<path d="M387.2 486.3a3.8 3.8 0 1 0 7.6 0a3.8 3.8 0 1 0 -7.6 0M397.5 491.0a3.8 3.8 0 1 0 7.6 0a3.8 3.8 0 1 0 -7.6 0M387.7 516.3a3.8 3.8 0 1 0 7.6 0a3.8 3.8 0 1 0 -7.6 0M396.7 517.6a3.8 3.8 0 1 0 7.6 0a3.8 3.8 0 1 0 -7.6 0M364.3 525.8a3.8 3.8 0 1 0 7.6 0a3.8 3.8 0 1 0 -7.6 0M383.6 525.3a3.8 3.8 0 1 0 7.6 0a3.8 3.8 0 1 0 -7.6 0M247.8 532.2a3.8 3.8 0 1 0 7.6 0a3.8 3.8 0 1 0 -7.6 0M567.5 441.7a3.8 3.8 0 1 0 7.6 0a3.8 3.8 0 1 0 -7.6 0M565.6 466.0a3.8 3.8 0 1 0 7.6 0a3.8 3.8 0 1 0 -7.6 0M548.5 470.9a3.8 3.8 0 1 0 7.6 0a3.8 3.8 0 1 0 -7.6 0M562.1 501.4a3.8 3.8 0 1 0 7.6 0a3.8 3.8 0 1 0 -7.6 0M569.7 503.1a3.8 3.8 0 1 0 7.6 0a3.8 3.8 0 1 0 -7.6 0M575.2 514.5a3.8 3.8 0 1 0 7.6 0a3.8 3.8 0 1 0 -7.6 0M574.1 526.5a3.8 3.8 0 1 0 7.6 0a3.8 3.8 0 1 0 -7.6 0M641.7 524.1a3.8 3.8 0 1 0 7.6 0a3.8 3.8 0 1 0 -7.6 0M748.7 475.0a3.8 3.8 0 1 0 7.6 0a3.8 3.8 0 1 0 -7.6 0M703.8 494.8a3.8 3.8 0 1 0 7.6 0a3.8 3.8 0 1 0 -7.6 0M704.5 502.5a3.8 3.8 0 1 0 7.6 0a3.8 3.8 0 1 0 -7.6 0M704.5 509.9a3.8 3.8 0 1 0 7.6 0a3.8 3.8 0 1 0 -7.6 0M720.6 508.9a3.8 3.8 0 1 0 7.6 0a3.8 3.8 0 1 0 -7.6 0M738.1 501.0a3.8 3.8 0 1 0 7.6 0a3.8 3.8 0 1 0 -7.6 0M750.4 509.4a3.8 3.8 0 1 0 7.6 0a3.8 3.8 0 1 0 -7.6 0M749.9 518.3a3.8 3.8 0 1 0 7.6 0a3.8 3.8 0 1 0 -7.6 0M711.4 518.8a3.8 3.8 0 1 0 7.6 0a3.8 3.8 0 1 0 -7.6 0M727.2 524.2a3.8 3.8 0 1 0 7.6 0a3.8 3.8 0 1 0 -7.6 0M771.7 531.6a3.8 3.8 0 1 0 7.6 0a3.8 3.8 0 1 0 -7.6 0M803.6 516.7a3.8 3.8 0 1 0 7.6 0a3.8 3.8 0 1 0 -7.6 0M805.5 525.4a3.8 3.8 0 1 0 7.6 0a3.8 3.8 0 1 0 -7.6 0M801.1 525.4a3.8 3.8 0 1 0 7.6 0a3.8 3.8 0 1 0 -7.6 0M796.7 527.6a3.8 3.8 0 1 0 7.6 0a3.8 3.8 0 1 0 -7.6 0M846.1 526.0a3.8 3.8 0 1 0 7.6 0a3.8 3.8 0 1 0 -7.6 0M907.5 525.5a3.8 3.8 0 1 0 7.6 0a3.8 3.8 0 1 0 -7.6 0M915.5 525.5a3.8 3.8 0 1 0 7.6 0a3.8 3.8 0 1 0 -7.6 0" fill="#bebebe"/>
<path d="M386.9 474.2a3.8 3.8 0 1 0 7.6 0a3.8 3.8 0 1 0 -7.6 0M386.6 481.1a3.8 3.8 0 1 0 7.6 0a3.8 3.8 0 1 0 -7.6 0M572.5 478.3a3.8 3.8 0 1 0 7.6 0a3.8 3.8 0 1 0 -7.6 0M568.1 482.6a3.8 3.8 0 1 0 7.6 0a3.8 3.8 0 1 0 -7.6 0" fill="#ff0000"/>
<path d="M398.0 493.4a3.8 3.8 0 1 0 7.6 0a3.8 3.8 0 1 0 -7.6 0M405.2 489.3a3.8 3.8 0 1 0 7.6 0a3.8 3.8 0 1 0 -7.6 0" fill="#0000ff"/>
<rect x="62" y="451" width="976" height="4.9" fill="#00ff00"/>
<path d="M96.6 565.6L108.9 558.5V572.7ZM108.5 560.85H154.8V570.35H108.5ZM139.3 560.85L144.6 558.5V560.85ZM139.3 570.35L144.6 572.7V570.35ZM155.6 565.6L160.1 558.5L168.5 564.2L177.1 558.5V572.7L168.5 567.0L160.1 572.7ZM176.7 560.85H289.8V570.35H176.7ZM217.8 560.85L222.5 558.5V560.85ZM217.8 570.35L222.5 572.7V570.35ZM232.7 560.85L237.4 558.5V560.85ZM232.7 570.35L237.4 572.7V570.35ZM250.8 560.85V558.5L258.5 560.85ZM250.8 570.35V572.7L258.5 570.35ZM264.5 560.85L268.3 558.5L272.1 560.85ZM264.5 570.35L268.3 572.7L272.1 570.35ZM285.2 560.85V558.5L288.6 560.85ZM285.2 570.35V572.7L288.6 570.35ZM301.4 565.6L289.4 558.5V572.7ZM330.3 565.6L341.8 558.5V572.7ZM341.4 560.85H352.1V570.35H341.4ZM354.2 560.85H392V570.35H354.2ZM359.3 560.85V558.5L363.2 560.85ZM359.3 570.35V572.7L363.2 570.35ZM363.6 560.85V558.5L369.3 560.85ZM363.6 570.35V572.7L369.3 570.35ZM377.1 560.85V558.5L382 560.85ZM377.1 570.35V572.7L382 570.35ZM384.6 560.85V558.5L388.3 560.85ZM384.6 570.35V572.7L388.3 570.35ZM404 560.85H411.5V570.35H404ZM419.7 565.6L411.1 558.5V572.7ZM420.0 560.85H523.2V570.35H420.0ZM444.1 560.85V558.5L451.2 560.85ZM444.1 570.35V572.7L451.2 570.35ZM457.9 560.85V558.5L463.2 560.85ZM457.9 570.35V572.7L463.2 570.35ZM480.8 560.85V558.5L487.3 560.85ZM480.8 570.35V572.7L487.3 570.35ZM532.9 565.6L522.8 558.5V572.7ZM532.3 565.6L542.9 558.5V572.7ZM542.5 560.85H560V570.35H542.5ZM552.6 560.85L558.5 558.5V560.85ZM552.6 570.35L558.5 572.7V570.35ZM579.5 565.6L590.4 558.5V572.7ZM590 560.85H668.5V570.35H590ZM592.1 560.85L596.4 558.5V560.85ZM592.1 570.35L596.4 572.7V570.35ZM605.3 560.85L610.1 558.5V560.85ZM605.3 570.35L610.1 572.7V570.35ZM670.8 560.85H700V570.35H670.8ZM682.6999999999999 560.85L685.9 558.5L689.1 560.85ZM682.6999999999999 570.35L685.9 572.7L689.1 570.35ZM690.8 560.85L694.0 558.5L697.2 560.85ZM690.8 570.35L694.0 572.7L697.2 570.35ZM762.1 560.85H993.5V570.35H762.1ZM768.3 560.85L771.5 558.5L774.7 560.85ZM768.3 570.35L771.5 572.7L774.7 570.35ZM774.3 560.85L777.4 558.5V560.85ZM774.3 570.35L777.4 572.7V570.35ZM790.9 560.85L795.7 558.5V560.85ZM790.9 570.35L795.7 572.7V570.35ZM805.3 560.85L810.1 558.5V560.85ZM805.3 570.35L810.1 572.7V570.35ZM851.7 560.85L856.5 558.5V560.85ZM851.7 570.35L856.5 572.7V570.35ZM874 560.85L878.8 558.5V560.85ZM874 570.35L878.8 572.7V570.35ZM908.6 560.85L913.4 558.5V560.85ZM908.6 570.35L913.4 572.7V570.35ZM918.4 560.85L923.2 558.5V560.85ZM918.4 570.35L923.2 572.7V570.35ZM928.1 560.85L932.9 558.5V560.85ZM928.1 570.35L932.9 572.7V570.35ZM936.1 560.85L940.9 558.5V560.85ZM936.1 570.35L940.9 572.7V570.35ZM945.9 560.85L950.7 558.5V560.85ZM945.9 570.35L950.7 572.7V570.35ZM956.8 560.85L961.6 558.5V560.85ZM956.8 570.35L961.6 572.7V570.35Z" fill="#0000ff"/><path d="M388.2 560.85H399.5V570.35H388.2ZM392.0 560.85V558.5L398 560.85ZM392.0 570.35V572.7L398 570.35ZM411.7 565.6L399.1 558.5V572.7ZM552.4 565.6L564.1 558.5V572.7ZM563.7 560.85H580.7V570.35H563.7ZM568.7 560.85L573.4 558.5V560.85ZM568.7 570.35L573.4 572.7V570.35ZM693.4 565.6L705.4 558.5V572.7ZM705 560.85H759.9V570.35H705ZM712 560.85L716.6 558.5V560.85ZM712 570.35L716.6 572.7V570.35ZM726 560.85L730.4 558.5V560.85ZM726 570.35L730.4 572.7V570.35ZM739 560.85L743.6 558.5V560.85ZM739 570.35L743.6 572.7V570.35Z" fill="#ff0000"/>
</g>
<path d="M61.4 1V612H1038.8" fill="none" stroke="#000" stroke-width="2.2" stroke-linejoin="miter"/>
<path d="M57 172.9H61M57 360.0H61M57 546.9H61M115.8 612V616.6M285.8 612V616.6M455.4 612V616.6M625.7 612V616.6M795.4 612V616.6M965.7 612V616.6" stroke="#000" stroke-width="1.9" fill="none"/>
<text x="51.5" y="181.8" font-size="24.6" text-anchor="end">40</text>
<text x="51.5" y="368.9" font-size="24.6" text-anchor="end">20</text>
<text x="51.5" y="556.8" font-size="24.6" text-anchor="end">0</text>
<text x="114.6" y="647.4" font-size="24" text-anchor="middle" textLength="96.5" lengthAdjust="spacingAndGlyphs">1500000</text>
<text x="285.9" y="647.4" font-size="24" text-anchor="middle" textLength="96.5" lengthAdjust="spacingAndGlyphs">1510000</text>
<text x="457.1" y="647.4" font-size="24" text-anchor="middle" textLength="96.5" lengthAdjust="spacingAndGlyphs">1520000</text>
<text x="628.4" y="647.4" font-size="24" text-anchor="middle" textLength="96.5" lengthAdjust="spacingAndGlyphs">1530000</text>
<text x="799.6" y="647.4" font-size="24" text-anchor="middle" textLength="96.5" lengthAdjust="spacingAndGlyphs">1540000</text>
<text x="970.9" y="647.4" font-size="24" text-anchor="middle" textLength="96.5" lengthAdjust="spacingAndGlyphs">1550000</text>
<text x="540.7" y="684.6" font-size="24" text-anchor="middle" textLength="227.5" lengthAdjust="spacingAndGlyphs">Position (base pairs)</text>
<text transform="translate(18.0,307.4) rotate(-90)" font-size="24" text-anchor="middle">–log<tspan font-size="18" dy="8.2">10</tspan><tspan dy="-8.2">(</tspan><tspan font-style="italic">P</tspan>)</text>
<circle cx="130.9" cy="54.2" r="10.7" fill="#ff0000"/>
<text x="152.0" y="62.4" font-size="24" textLength="108.5" lengthAdjust="spacingAndGlyphs">FST &gt; 0.9</text>
<circle cx="130.9" cy="103.0" r="10.7" fill="#0000ff"/>
<text x="152.0" y="111.2" font-size="24" textLength="172" lengthAdjust="spacingAndGlyphs">0.5 &lt; FST &lt; 0.9</text>
<circle cx="130.9" cy="151.0" r="10.7" fill="#bebebe"/>
<text x="152.0" y="159.2" font-size="24" textLength="108.5" lengthAdjust="spacingAndGlyphs">FST &lt; 0.5</text>
<text x="305.0" y="597.9" font-size="24" textLength="157" lengthAdjust="spacingAndGlyphs">HP1445–1446</text>
<text x="496.4" y="597.9" font-size="24" textLength="154.8" lengthAdjust="spacingAndGlyphs">HP1456–1457</text>
<text x="682.3" y="597.9" font-size="24" textLength="157.5" lengthAdjust="spacingAndGlyphs">HP1463–1466</text>
<path d="M287.5 938.2A42.9 42.9 0 0 1 288.5 940.6L295.7 937.8M287.5 938.2A42.9 42.9 0 0 0 286.3 935.9L292.6 932.5M284.7 942.7A38.6 38.6 0 0 0 283.6 940.0L287.5 938.2M274.8 948.8A27.3 27.3 0 0 1 275.4 951.1L290.3 948.2M274.8 948.8A27.3 27.3 0 0 0 274.1 946.7L284.7 942.7M333.8 857.4A130.5 130.5 0 0 1 339.7 862.8L349.8 852.4M333.8 857.4A130.5 130.5 0 0 0 327.7 852.4L335.0 842.8M339.0 868.9A125.7 125.7 0 0 1 346.6 877.5L353.4 872.1M339.0 868.9A125.7 125.7 0 0 0 330.7 861.0L333.8 857.4M338.3 884.2A115.1 115.1 0 0 0 331.4 876.3L339.0 868.9M303.0 859.9A110.6 110.6 0 0 0 298.5 857.5L303.9 846.8M279.7 850.2A110.5 110.5 0 0 1 286.1 852.3L288.6 845.5M279.7 850.2A110.5 110.5 0 0 0 273.2 848.5L274.3 843.6M289.2 860.0A104.4 104.4 0 0 1 299.9 865.3L303.0 859.9M289.2 860.0A104.4 104.4 0 0 0 278.0 856.0L279.7 850.2M306.6 879.5A96.2 96.2 0 0 1 323.6 896.0L338.3 884.2M306.6 879.5A96.2 96.2 0 0 0 286.0 867.6L289.2 860.0M190.3 790.6A175.5 175.5 0 0 0 182.9 793.5L179.6 785.4M206.0 811.0A151.3 151.3 0 0 0 198.4 813.5L190.3 790.6M148.6 804.1A182.0 182.0 0 0 0 141.7 808.8L138.5 804.3M171.1 823.5A153.6 153.6 0 0 0 164.2 827.8L148.6 804.1M97.4 857.5A180.5 180.5 0 0 1 103.7 848.5L98.7 844.8M97.4 857.5A180.5 180.5 0 0 0 91.7 866.9L87.1 864.3M110.7 847.1A175.8 175.8 0 0 1 121.2 835.0L114.4 828.5M110.7 847.1A175.8 175.8 0 0 0 101.3 860.1L97.4 857.5M127.2 840.6A167.6 167.6 0 0 0 117.1 852.2L110.7 847.1M34.4 885.3A225.6 225.6 0 0 0 31.4 895.2L29.3 894.6M35.9 940.0A213.3 213.3 0 0 0 35.3 949.7L31.5 949.6M43.6 929.5A206.7 206.7 0 0 0 42.4 940.5L35.9 940.0M63.9 914.0A189.4 189.4 0 0 1 68.7 896.7L34.4 885.3M63.9 914.0A189.4 189.4 0 0 0 60.7 931.8L43.6 929.5M80.5 899.5A177.4 177.4 0 0 0 75.6 916.7L63.9 914.0M111.3 873.4A160.3 160.3 0 0 1 132.5 845.7L127.2 840.6M111.3 873.4A160.3 160.3 0 0 0 96.7 905.0L80.5 899.5M64.8 1050.0A206.3 206.3 0 0 0 69.3 1058.3L65.3 1060.5M84.8 1081.8A206.4 206.4 0 0 0 90.7 1089.2L87.4 1092.0M78.0 1063.9A201.7 201.7 0 0 1 68.9 1047.9L64.8 1050.0M78.0 1063.9A201.7 201.7 0 0 0 88.5 1079.0L84.8 1081.8M146.6 1147.2A216.5 216.5 0 0 0 155.4 1151.7L153.3 1156.2M136.9 1134.8A210.6 210.6 0 0 1 125.0 1126.7L122.7 1129.9M136.9 1134.8A210.6 210.6 0 0 0 149.4 1142.0L146.6 1147.2M125.2 1122.3A206.9 206.9 0 0 0 138.9 1131.6L136.9 1134.8M117.4 1109.1A201.5 201.5 0 0 0 128.4 1118.0L125.2 1122.3M262.5 1198.3A242.5 242.5 0 0 0 273.6 1197.4L274.6 1207.3M246.1 1182.2A226.0 226.0 0 0 1 230.6 1181.5L229.2 1199.5M246.1 1182.2A226.0 226.0 0 0 0 261.6 1181.8L262.5 1198.3M228.7 1174.3A219.0 219.0 0 0 0 246.2 1175.2L246.1 1182.2M214.4 1166.2A212.8 212.8 0 0 0 229.3 1168.1L228.7 1174.3M340.3 1160.0A223.5 223.5 0 0 0 349.5 1155.6L352.2 1161.1M328.0 1161.2A219.8 219.8 0 0 0 338.8 1156.6L340.3 1160.0M311.7 1162.1A215.4 215.4 0 0 1 296.6 1166.2L297.8 1171.3M311.7 1162.1A215.4 215.4 0 0 0 326.4 1157.0L328.0 1161.2M430.4 1116.3A242.3 242.3 0 0 0 437.6 1107.8L453.2 1120.3M412.5 1121.7A233.0 233.0 0 0 1 400.8 1132.6L403.2 1135.4M412.5 1121.7A233.0 233.0 0 0 0 423.5 1110.1L430.4 1116.3M393.7 1128.3A225.1 225.1 0 0 0 407.0 1116.1L412.5 1121.7M469.0 1053.9A241.1 241.1 0 0 0 473.2 1043.8L483.1 1047.6M490.4 983.6A243.4 243.4 0 0 0 491.4 972.6L496.2 972.9M486.1 999.8A241.5 241.5 0 0 1 482.5 1015.9L488.8 1017.5M486.1 999.8A241.5 241.5 0 0 0 488.5 983.4L490.4 983.6M475.6 1026.3A237.6 237.6 0 0 1 465.8 1052.5L469.0 1053.9M475.6 1026.3A237.6 237.6 0 0 0 482.2 999.1L486.1 999.8M462.3 1049.5A233.2 233.2 0 0 0 471.4 1025.0L475.6 1026.3M448.1 1064.8A227.2 227.2 0 0 0 456.8 1047.1L462.3 1049.5M419.9 1095.9A221.1 221.1 0 0 1 391.1 1125.2L393.7 1128.3M419.9 1095.9A221.1 221.1 0 0 0 442.8 1061.9L448.1 1064.8M392.0 1118.7A216.8 216.8 0 0 0 416.6 1093.2L419.9 1095.9M352.2 1141.4A212.2 212.2 0 0 1 310.7 1159.1L311.7 1162.1M352.2 1141.4A212.2 212.2 0 0 0 389.0 1115.3L392.0 1118.7M284.6 1160.5A207.5 207.5 0 0 1 215.3 1161.0L214.4 1166.2M284.6 1160.5A207.5 207.5 0 0 0 349.9 1137.3L352.2 1141.4M236.6 1159.5A203.7 203.7 0 0 0 283.9 1156.8L284.6 1160.5M207.9 1150.9A198.9 198.9 0 0 0 236.8 1154.8L236.6 1159.5M162.6 1130.7A194.5 194.5 0 0 1 121.9 1103.8L117.4 1109.1M162.6 1130.7A194.5 194.5 0 0 0 208.8 1146.6L207.9 1150.9M121.3 1097.6A190.2 190.2 0 0 1 87.7 1057.7L78.0 1063.9M121.3 1097.6A190.2 190.2 0 0 0 164.5 1126.8L162.6 1130.7M97.3 1060.1A183.5 183.5 0 0 0 125.8 1092.6L121.3 1097.6M86.0 1032.3A179.5 179.5 0 0 1 75.7 1004.8L70.3 1006.3M86.0 1032.3A179.5 179.5 0 0 0 100.6 1057.8L97.3 1060.1M81.6 1009.7A175.3 175.3 0 0 0 89.8 1030.5L86.0 1032.3M84.3 992.2A168.2 168.2 0 0 0 88.4 1007.5L81.6 1009.7M89.4 978.4A160.7 160.7 0 0 0 91.6 990.6L84.3 992.2M98.4 925.4A153.3 153.3 0 0 1 117.3 877.0L111.3 873.4M98.4 925.4A153.3 153.3 0 0 0 96.7 977.4L89.4 978.4M131.4 872.1A144.2 144.2 0 0 1 175.9 831.7L171.1 823.5M131.4 872.1A144.2 144.2 0 0 0 107.3 927.2L98.4 925.4M168.8 843.6A138.0 138.0 0 0 1 209.8 823.8L206.0 811.0M168.8 843.6A138.0 138.0 0 0 0 136.4 875.7L131.4 872.1M198.8 836.3A129.8 129.8 0 0 0 173.5 850.3L168.8 843.6M220.1 838.0A121.6 121.6 0 0 1 238.9 835.0L238.3 826.6M220.1 838.0A121.6 121.6 0 0 0 201.9 843.9L198.8 836.3M235.6 841.1A115.8 115.8 0 0 0 221.4 843.6L220.1 838.0M246.4 848.7A107.5 107.5 0 0 0 236.5 849.4L235.6 841.1M254.2 858.1A98.3 98.3 0 0 0 246.6 857.9L246.4 848.7M278.4 875.0A86.5 86.5 0 0 1 300.7 887.2L306.6 879.5M278.4 875.0A86.5 86.5 0 0 0 253.5 869.8L254.2 858.1M248.6 956.2L274.8 948.8M248.6 956.2L278.4 875.0" fill="none" stroke="#7f7f7f" stroke-width="1.7" stroke-linejoin="miter" stroke-linecap="butt"/>
<path d="M290.3 948.2A42.5 42.5 0 0 1 290.5 949.5L320.9 944.6M290.3 948.2A42.5 42.5 0 0 0 290.0 946.9L317.6 940.8M295.7 937.8A50.6 50.6 0 0 1 296.2 939.3L327.5 928.2M295.7 937.8A50.6 50.6 0 0 0 295.1 936.4L326.1 923.2M292.6 932.5A50.0 50.0 0 0 1 293.3 933.9L318.0 921.5M292.6 932.5A50.0 50.0 0 0 0 291.8 931.2L320.9 914.4M284.7 942.7A38.6 38.6 0 0 1 285.6 945.5L317.7 936.3" fill="none" stroke="#f00032" stroke-width="1.7" stroke-linejoin="miter" stroke-linecap="butt"/>
<path d="M353.4 872.1A134.4 134.4 0 0 1 355.9 875.3L382.0 855.7M353.4 872.1A134.4 134.4 0 0 0 350.8 868.9L379.0 844.9M349.8 852.4A145.0 145.0 0 0 1 352.9 855.5L370.1 838.9M349.8 852.4A145.0 145.0 0 0 0 346.6 849.4L362.8 831.7M335.0 842.8A142.6 142.6 0 0 1 338.4 845.5L360.6 818.1M335.0 842.8A142.6 142.6 0 0 0 331.5 840.2L353.9 808.9M338.3 884.2A115.1 115.1 0 0 1 344.5 892.7L377.8 870.6" fill="none" stroke="#00870f" stroke-width="1.7" stroke-linejoin="miter" stroke-linecap="butt"/>
<path d="M303.9 846.8A122.6 122.6 0 0 1 307.2 848.6L321.1 823.0M303.9 846.8A122.6 122.6 0 0 0 300.6 845.2L313.3 817.9M303.0 859.9A110.6 110.6 0 0 1 307.3 862.5L328.1 829.3M288.6 845.5A117.7 117.7 0 0 1 291.9 846.8L303.0 818.7M288.6 845.5A117.7 117.7 0 0 0 285.2 844.3L295.0 814.4M274.3 843.6A115.5 115.5 0 0 1 277.7 844.4L286.2 812.2M274.3 843.6A115.5 115.5 0 0 0 270.9 842.9L277.3 810.3" fill="none" stroke="#00e600" stroke-width="1.7" stroke-linejoin="miter" stroke-linecap="butt"/>
<path d="M238.3 826.6A130.0 130.0 0 0 1 242.2 826.4L240.1 782.9M238.3 826.6A130.0 130.0 0 0 0 234.3 827.0L229.7 785.4M206.0 811.0A151.3 151.3 0 0 1 213.8 808.9L205.3 772.5M198.8 836.3A129.8 129.8 0 0 1 226.5 828.3L218.7 783.0M235.6 841.1A115.8 115.8 0 0 1 249.9 840.4L250.5 794.2M246.4 848.7A107.5 107.5 0 0 1 256.4 849.0L259.7 803.9M254.2 858.1A98.3 98.3 0 0 1 261.7 858.8L267.4 815.9" fill="none" stroke="#f00096" stroke-width="1.7" stroke-linejoin="miter" stroke-linecap="butt"/>
<path d="M179.6 785.4A184.2 184.2 0 0 1 184.8 783.4L181.8 775.2M179.6 785.4A184.2 184.2 0 0 0 174.4 787.6L169.2 775.7M190.3 790.6A175.5 175.5 0 0 1 198.0 788.1L193.3 772.5M138.5 804.3A187.6 187.6 0 0 1 143.1 801.0L135.7 790.1M138.5 804.3A187.6 187.6 0 0 0 133.9 807.7L126.1 797.6M148.6 804.1A182.0 182.0 0 0 1 155.6 799.7L149.7 789.8M171.1 823.5A153.6 153.6 0 0 1 178.3 819.6L160.3 784.6" fill="none" stroke="#640014" stroke-width="1.7" stroke-linejoin="miter" stroke-linecap="butt"/>
<path d="M114.4 828.5A185.2 185.2 0 0 1 118.4 824.5L93.3 799.1M114.4 828.5A185.2 185.2 0 0 0 110.6 832.6L82.6 807.5M98.7 844.8A186.7 186.7 0 0 1 102.2 840.3L71.0 815.7M98.7 844.8A186.7 186.7 0 0 0 95.4 849.4L59.8 824.6M87.1 864.3A185.8 185.8 0 0 1 89.9 859.4L58.9 840.5M87.1 864.3A185.8 185.8 0 0 0 84.4 869.2L49.4 850.7M127.2 840.6A167.6 167.6 0 0 1 138.2 830.0L105.8 792.9" fill="none" stroke="#ffd732" stroke-width="1.7" stroke-linejoin="miter" stroke-linecap="butt"/>
<path d="M29.3 894.6A227.7 227.7 0 0 1 31.3 888.0L24.8 885.9M29.3 894.6A227.7 227.7 0 0 0 27.6 901.3L19.5 899.3M34.4 885.3A225.6 225.6 0 0 1 37.8 875.6L33.4 873.9M31.5 949.6A217.2 217.2 0 0 1 31.8 943.0L10.1 941.7M31.5 949.6A217.2 217.2 0 0 0 31.4 956.2L11.5 956.2M35.9 940.0A213.3 213.3 0 0 1 36.8 930.3L15.4 927.7M43.6 929.5A206.7 206.7 0 0 1 45.3 918.7L18.5 913.7M80.5 899.5A177.4 177.4 0 0 1 87.0 882.9L15.9 850.6" fill="none" stroke="#ff64ff" stroke-width="1.7" stroke-linejoin="miter" stroke-linecap="butt"/>
<path d="M70.3 1006.3A185.2 185.2 0 0 1 68.8 1000.9L33.1 1009.7M70.3 1006.3A185.2 185.2 0 0 0 71.9 1011.7L37.3 1022.6M229.2 1199.5A244.1 244.1 0 0 1 221.8 1198.8L219.7 1217.9M229.2 1199.5A244.1 244.1 0 0 0 236.6 1200.0L236.0 1213.5M274.6 1207.3A252.4 252.4 0 0 1 266.9 1207.9L267.3 1212.5M274.6 1207.3A252.4 252.4 0 0 0 282.2 1206.3L282.9 1211.1M262.5 1198.3A242.5 242.5 0 0 1 251.5 1198.7L251.7 1216.8M228.7 1174.3A219.0 219.0 0 0 1 211.4 1172.0L206.7 1199.3M214.4 1166.2A212.8 212.8 0 0 1 199.7 1163.3L192.3 1194.9M236.6 1159.5A203.7 203.7 0 0 1 189.8 1151.3L179.2 1186.7M207.9 1150.9A198.9 198.9 0 0 1 179.7 1142.8L166.0 1180.2M97.3 1060.1A183.5 183.5 0 0 1 77.2 1021.7L39.3 1036.2M81.6 1009.7A175.3 175.3 0 0 1 76.2 988.0L38.8 994.9M84.3 992.2A168.2 168.2 0 0 1 81.6 976.6L36.8 982.1" fill="none" stroke="#8c00e6" stroke-width="1.7" stroke-linejoin="miter" stroke-linecap="butt"/>
<path d="M65.3 1060.5A210.8 210.8 0 0 1 62.3 1054.9L35.7 1068.9M65.3 1060.5A210.8 210.8 0 0 0 68.6 1066.0L43.9 1081.1M64.8 1050.0A206.3 206.3 0 0 1 60.7 1041.5L33.0 1054.0M87.4 1092.0A210.7 210.7 0 0 1 83.4 1087.0L60.2 1105.3M87.4 1092.0A210.7 210.7 0 0 0 91.6 1096.8L71.1 1115.2M84.8 1081.8A206.4 206.4 0 0 1 79.2 1074.2L49.6 1094.9M89.4 978.4A160.7 160.7 0 0 1 88.1 966.0L40.1 968.9" fill="none" stroke="#ff703c" stroke-width="1.7" stroke-linejoin="miter" stroke-linecap="butt"/>
<path d="M122.7 1129.9A214.5 214.5 0 0 1 117.4 1126.0L102.6 1145.1M122.7 1129.9A214.5 214.5 0 0 0 128.0 1133.6L113.4 1155.1M153.3 1156.2A221.5 221.5 0 0 1 147.2 1153.2L138.3 1170.6M153.3 1156.2A221.5 221.5 0 0 0 159.4 1159.0L151.3 1177.4M146.6 1147.2A216.5 216.5 0 0 1 138.0 1142.4L126.4 1161.9M125.2 1122.3A206.9 206.9 0 0 1 112.4 1112.0L89.5 1138.1M117.4 1109.1A201.5 201.5 0 0 1 106.9 1099.5L85.0 1121.7" fill="none" stroke="#00dcb4" stroke-width="1.7" stroke-linejoin="miter" stroke-linecap="butt"/>
<path d="M297.8 1171.3A220.7 220.7 0 0 1 291.2 1172.7L296.6 1199.7M297.8 1171.3A220.7 220.7 0 0 0 304.3 1169.7L310.7 1194.0M352.2 1161.1A229.6 229.6 0 0 1 346.0 1164.1L356.1 1185.8M352.2 1161.1A229.6 229.6 0 0 0 358.4 1157.8L369.8 1178.7M340.3 1160.0A223.5 223.5 0 0 1 330.9 1164.0L338.4 1182.9M328.0 1161.2A219.8 219.8 0 0 1 316.9 1165.1L324.1 1186.9M403.2 1135.4A236.7 236.7 0 0 1 397.7 1140.0L413.2 1159.1M403.2 1135.4A236.7 236.7 0 0 0 408.6 1130.6L425.3 1148.8M453.2 1120.3A262.3 262.3 0 0 1 448.1 1126.5L449.2 1127.5M453.2 1120.3A262.3 262.3 0 0 0 458.1 1114.0L459.3 1114.9M430.4 1116.3A242.3 242.3 0 0 1 422.9 1124.4L437.7 1138.7M393.7 1128.3A225.1 225.1 0 0 1 379.5 1139.3L393.3 1158.7M448.1 1064.8A227.2 227.2 0 0 1 438.0 1081.6L458.5 1095.2M392.0 1118.7A216.8 216.8 0 0 1 363.7 1139.9L378.8 1164.0" fill="none" stroke="#003782" stroke-width="1.7" stroke-linejoin="miter" stroke-linecap="butt"/>
<path d="M483.1 1047.6A251.7 251.7 0 0 1 480.2 1054.7L506.8 1066.0M483.1 1047.6A251.7 251.7 0 0 0 485.7 1040.4L515.9 1051.1M469.0 1053.9A241.1 241.1 0 0 1 464.3 1063.9L497.3 1080.4M488.8 1017.5A248.0 248.0 0 0 1 486.9 1024.8L506.3 1030.4M488.8 1017.5A248.0 248.0 0 0 0 490.6 1010.2L508.9 1014.3M496.2 972.9A248.2 248.2 0 0 1 495.6 980.4L515.9 982.4M496.2 972.9A248.2 248.2 0 0 0 496.6 965.3L521.2 966.3M490.4 983.6A243.4 243.4 0 0 1 488.9 994.6L512.5 998.4M462.3 1049.5A233.2 233.2 0 0 1 450.5 1072.9L477.9 1088.7" fill="none" stroke="#009bff" stroke-width="1.7" stroke-linejoin="miter" stroke-linecap="butt"/>
<path d="M248.6 956.2L335.6 947.7" fill="none" stroke="#7ffcf8" stroke-width="1.7" stroke-linejoin="miter" stroke-linecap="butt"/>
<circle cx="335.6" cy="947.7" r="3.0" fill="#7ffcf8"/>
<rect x="34.1" y="979.4" width="5.4" height="5.4" fill="#8c00e6"/>
<rect x="36.1" y="992.2" width="5.4" height="5.4" fill="#8c00e6"/>
<rect x="30.4" y="1007.0" width="5.4" height="5.4" fill="#8c00e6"/>
<rect x="34.6" y="1019.9" width="5.4" height="5.4" fill="#8c00e6"/>
<rect x="36.6" y="1033.5" width="5.4" height="5.4" fill="#8c00e6"/>
<circle cx="166.0" cy="1180.2" r="2.75" fill="#8c00e6"/>
<rect x="176.5" y="1184.0" width="5.4" height="5.4" fill="#8c00e6"/>
<circle cx="192.3" cy="1194.9" r="2.75" fill="#8c00e6"/>
<rect x="204.0" y="1196.6" width="5.4" height="5.4" fill="#8c00e6"/>
<circle cx="219.7" cy="1217.9" r="2.75" fill="#8c00e6"/>
<circle cx="236.0" cy="1213.5" r="2.75" fill="#8c00e6"/>
<circle cx="251.7" cy="1216.8" r="2.75" fill="#8c00e6"/>
<circle cx="267.3" cy="1212.5" r="2.75" fill="#8c00e6"/>
<circle cx="282.9" cy="1211.1" r="2.75" fill="#8c00e6"/>
<rect x="293.9" y="1197.0" width="5.4" height="5.4" fill="#003782"/>
<rect x="308.0" y="1191.3" width="5.4" height="5.4" fill="#003782"/>
<rect x="321.4" y="1184.2" width="5.4" height="5.4" fill="#003782"/>
<rect x="335.7" y="1180.2" width="5.4" height="5.4" fill="#003782"/>
<circle cx="356.1" cy="1185.8" r="2.75" fill="#003782"/>
<circle cx="369.8" cy="1178.7" r="2.75" fill="#003782"/>
<rect x="376.1" y="1161.3" width="5.4" height="5.4" fill="#003782"/>
<rect x="390.6" y="1156.0" width="5.4" height="5.4" fill="#003782"/>
<circle cx="413.2" cy="1159.1" r="2.75" fill="#003782"/>
<circle cx="425.3" cy="1148.8" r="2.75" fill="#003782"/>
<circle cx="437.7" cy="1138.7" r="2.75" fill="#003782"/>
<circle cx="449.2" cy="1127.5" r="2.75" fill="#003782"/>
<circle cx="459.3" cy="1114.9" r="2.75" fill="#003782"/>
<rect x="455.8" y="1092.5" width="5.4" height="5.4" fill="#003782"/>
<rect x="475.2" y="1086.0" width="5.4" height="5.4" fill="#009bff"/>
<rect x="494.6" y="1077.7" width="5.4" height="5.4" fill="#009bff"/>
<circle cx="506.8" cy="1066.0" r="2.75" fill="#009bff"/>
<rect x="503.6" y="1027.7" width="5.4" height="5.4" fill="#009bff"/>
<rect x="506.2" y="1011.6" width="5.4" height="5.4" fill="#009bff"/>
<rect x="509.8" y="995.7" width="5.4" height="5.4" fill="#009bff"/>
<path d="M886.6 887.3A105.8 105.8 0 0 0 884.1 883.1L897.5 874.8M876.4 900.1A90.8 90.8 0 0 1 878.8 905.9L888.7 902.0M876.4 900.1A90.8 90.8 0 0 0 873.5 894.6L886.6 887.3M861.5 819.6A137.0 137.0 0 0 0 856.0 816.7L858.6 811.5M858.8 840.7A117.6 117.6 0 0 1 865.4 845.3L875.0 832.8M858.8 840.7A117.6 117.6 0 0 0 852.0 836.5L861.5 819.6M861.0 853.3A108.6 108.6 0 0 0 853.9 848.2L858.8 840.7M862.6 862.8A102.3 102.3 0 0 0 857.1 858.2L861.0 853.3M863.4 873.5A95.2 95.2 0 0 1 868.4 879.3L877.9 871.7M863.4 873.5A95.2 95.2 0 0 0 857.9 868.1L862.6 862.8M864.2 891.1A84.7 84.7 0 0 1 870.9 902.8L876.4 900.1M864.2 891.1A84.7 84.7 0 0 0 855.8 880.7L863.4 873.5M864.2 907.2A76.8 76.8 0 0 1 868.7 919.9L890.2 914.3M864.2 907.2A76.8 76.8 0 0 0 857.7 895.6L864.2 891.1M840.2 925.1A47.9 47.9 0 0 0 837.9 919.2L864.2 907.2M814.5 740.8A199.2 199.2 0 0 1 826.5 742.4L827.4 736.8M814.5 740.8A199.2 199.2 0 0 0 802.4 740.0L802.7 734.2M831.8 746.9A195.7 195.7 0 0 1 849.2 751.2L856.1 727.3M831.8 746.9A195.7 195.7 0 0 0 814.2 744.3L814.5 740.8M844.6 766.9A179.3 179.3 0 0 0 828.7 763.0L831.8 746.9M777.2 761.8A178.0 178.0 0 0 0 769.1 762.8L769.0 761.8M739.3 783.2A165.2 165.2 0 0 0 732.2 785.9L730.5 781.6M749.1 785.4A160.1 160.1 0 0 0 741.0 788.0L739.3 783.2M767.5 800.4A141.2 141.2 0 0 1 780.7 798.5L777.2 761.8M767.5 800.4A141.2 141.2 0 0 0 754.4 803.5L749.1 785.4M681.5 831.9A155.5 155.5 0 0 1 688.3 825.3L684.4 821.1M681.5 831.9A155.5 155.5 0 0 0 675.2 839.0L670.3 834.9M694.7 825.5A151.0 151.0 0 0 1 705.5 816.9L701.8 811.8M694.7 825.5A151.0 151.0 0 0 0 684.8 835.0L681.5 831.9M625.4 846.5A192.6 192.6 0 0 0 621.3 854.3L616.6 852.0M653.1 851.7A166.0 166.0 0 0 0 648.7 859.3L625.4 846.5M608.0 890.0A192.6 192.6 0 0 0 606.0 898.5L597.6 896.7M628.1 885.6A174.6 174.6 0 0 0 625.5 894.5L608.0 890.0M611.3 1192.0A312.2 312.2 0 0 1 596.3 1180.4L589.4 1188.7M611.3 1192.0A312.2 312.2 0 0 0 627.0 1202.6L621.5 1211.3M592.2 1170.6A307.4 307.4 0 0 1 571.9 1151.2L566.4 1156.5M592.2 1170.6A307.4 307.4 0 0 0 614.1 1188.1L611.3 1192.0M580.5 1143.0A295.5 295.5 0 0 0 600.0 1161.6L592.2 1170.6M588.2 1107.7A266.3 266.3 0 0 0 601.6 1122.8L580.5 1143.0M584.2 1083.4A254.9 254.9 0 0 1 572.9 1065.3L569.0 1067.6M584.2 1083.4A254.9 254.9 0 0 0 597.0 1100.4L588.2 1107.7M576.8 1062.0A249.9 249.9 0 0 0 588.4 1080.6L584.2 1083.4M577.3 1037.3A238.2 238.2 0 0 1 569.4 1017.5L558.6 1021.3M577.3 1037.3A238.2 238.2 0 0 0 587.0 1056.3L576.8 1062.0M578.9 1014.0A228.1 228.1 0 0 0 586.5 1033.1L577.3 1037.3M592.6 992.5A208.7 208.7 0 0 0 597.2 1007.6L578.9 1014.0M596.3 977.3A201.7 201.7 0 0 0 599.3 990.7L592.6 992.5M604.2 963.2A191.6 191.6 0 0 0 606.2 975.4L596.3 977.3M610.4 950.8A184.3 184.3 0 0 0 611.5 962.3L604.2 963.2M616.9 939.4A177.4 177.4 0 0 0 617.3 950.3L610.4 950.8M626.8 929.1A167.8 167.8 0 0 0 626.5 939.4L616.9 939.4M636.0 909.4A161.0 161.0 0 0 1 641.0 889.8L628.1 885.6M636.0 909.4A161.0 161.0 0 0 0 633.6 929.5L626.8 929.1M648.8 882.7A156.0 156.0 0 0 1 661.6 856.9L653.1 851.7M648.8 882.7A156.0 156.0 0 0 0 641.0 910.3L636.0 909.4M741.6 1097.0A166.6 166.6 0 0 1 732.1 1093.5L730.4 1097.7M741.6 1097.0A166.6 166.6 0 0 0 751.3 1100.0L749.9 1105.1M781.9 1134.0A195.4 195.4 0 0 0 790.9 1134.4L790.7 1141.0M817.3 1131.2A193.6 193.6 0 0 0 826.1 1130.0L826.9 1134.9M799.6 1127.7A188.8 188.8 0 0 1 782.4 1127.4L781.9 1134.0M799.6 1127.7A188.8 188.8 0 0 0 816.8 1126.5L817.3 1131.2M901.1 1115.0A205.9 205.9 0 0 0 909.0 1110.0L911.1 1113.1M886.8 1118.0A201.5 201.5 0 0 1 874.3 1123.9L875.8 1127.4M886.8 1118.0A201.5 201.5 0 0 0 898.8 1111.3L901.1 1115.0M870.8 1121.6A198.0 198.0 0 0 0 885.2 1114.9L886.8 1118.0M856.1 1121.3A192.5 192.5 0 0 0 868.7 1116.5L870.8 1121.6M963.7 1058.6A207.4 207.4 0 0 1 956.1 1068.7L961.6 1073.1M963.7 1058.6A207.4 207.4 0 0 0 970.7 1048.1L974.5 1050.4M950.1 1071.8A204.7 204.7 0 0 1 937.3 1085.5L940.8 1089.0M950.1 1071.8A204.7 204.7 0 0 0 961.5 1057.1L963.7 1058.6M933.9 1081.9A199.8 199.8 0 0 0 946.3 1068.6L950.1 1071.8M1004.7 962.8A211.7 211.7 0 0 0 1005.5 953.2L1013.4 953.7M998.8 976.4A207.9 207.9 0 0 1 995.8 990.3L1001.7 991.8M998.8 976.4A207.9 207.9 0 0 0 1000.9 962.4L1004.7 962.8M991.1 991.6A203.7 203.7 0 0 0 994.7 975.7L998.8 976.4M978.9 1005.7A196.3 196.3 0 0 1 972.6 1021.2L977.7 1023.6M978.9 1005.7A196.3 196.3 0 0 0 984.0 989.6L991.1 991.6M955.5 1042.8A191.7 191.7 0 0 1 928.2 1076.2L933.9 1081.9M955.5 1042.8A191.7 191.7 0 0 0 974.6 1004.1L978.9 1005.7M908.4 1085.2A185.5 185.5 0 0 1 853.8 1114.7L856.1 1121.3M908.4 1085.2A185.5 185.5 0 0 0 950.3 1039.4L955.5 1042.8M854.3 1105.6A177.1 177.1 0 0 1 799.3 1116.0L799.6 1127.7M854.3 1105.6A177.1 177.1 0 0 0 903.3 1078.6L908.4 1085.2M808.9 1105.1A166.7 166.7 0 0 0 850.7 1095.9L854.3 1105.6M775.5 1099.0A161.1 161.1 0 0 1 743.3 1091.8L741.6 1097.0M775.5 1099.0A161.1 161.1 0 0 0 808.4 1099.5L808.9 1105.1M749.4 1086.3A154.0 154.0 0 0 0 776.3 1091.9L775.5 1099.0M662.1 1003.3A147.0 147.0 0 0 1 657.2 885.9L648.8 882.7M662.1 1003.3A147.0 147.0 0 0 0 751.5 1079.6L749.4 1086.3M656.4 911.2A140.7 140.7 0 0 1 701.5 833.2L694.7 825.5M656.4 911.2A140.7 140.7 0 0 0 667.8 1000.6L662.1 1003.3M683.8 858.2A136.9 136.9 0 0 1 727.8 819.3L723.3 811.1M683.8 858.2A136.9 136.9 0 0 0 660.1 911.9L656.4 911.2M726.3 831.8A127.0 127.0 0 0 1 770.2 814.3L767.5 800.4M726.3 831.8A127.0 127.0 0 0 0 691.8 864.0L683.8 858.2M780.8 843.4A96.6 96.6 0 0 1 821.4 846.3L844.6 766.9M780.8 843.4A96.6 96.6 0 0 0 742.6 857.4L726.3 831.8M794.3 939.0L840.2 925.1M794.3 939.0L780.8 843.4" fill="none" stroke="#7f7f7f" stroke-width="1.7" stroke-linejoin="miter" stroke-linecap="butt"/>
<path d="M890.2 914.3A99.0 99.0 0 0 1 890.9 917.2L912.4 912.4M890.2 914.3A99.0 99.0 0 0 0 889.4 911.4L912.4 904.7M977.7 1023.6A202.0 202.0 0 0 1 975.1 1029.1L1003.9 1043.5M1001.7 991.8A214.0 214.0 0 0 1 1000.0 998.1L1018.7 1003.5M1001.7 991.8A214.0 214.0 0 0 0 1003.2 985.5L1024.9 990.3M1013.4 953.7A219.6 219.6 0 0 1 1012.9 960.4L1030.6 962.1M1013.4 953.7A219.6 219.6 0 0 0 1013.8 947.0L1029.6 947.6M1004.7 962.8A211.7 211.7 0 0 1 1003.4 972.4L1043.9 978.8M991.1 991.6A203.7 203.7 0 0 1 986.3 1007.1L1007.7 1014.7" fill="none" stroke="#009bff" stroke-width="1.7" stroke-linejoin="miter" stroke-linecap="butt"/>
<path d="M888.7 902.0A101.4 101.4 0 0 1 889.8 904.9L911.4 897.1M888.7 902.0A101.4 101.4 0 0 0 887.5 899.1L911.0 889.1M897.5 874.8A121.5 121.5 0 0 1 899.4 878.0L900.4 877.4M897.5 874.8A121.5 121.5 0 0 0 895.5 871.7L896.6 871.0M886.6 887.3A105.8 105.8 0 0 1 888.9 891.6L902.1 884.9M877.9 871.7A107.3 107.3 0 0 1 879.9 874.3L908.1 852.9M877.9 871.7A107.3 107.3 0 0 0 875.8 869.2L897.0 851.0M940.8 1089.0A209.7 209.7 0 0 1 936.2 1093.4L951.7 1110.4M940.8 1089.0A209.7 209.7 0 0 0 945.3 1084.5L968.3 1106.7M961.6 1073.1A214.4 214.4 0 0 1 957.5 1078.1L974.3 1092.5M961.6 1073.1A214.4 214.4 0 0 0 965.6 1067.9L984.1 1081.8M974.5 1050.4A211.9 211.9 0 0 1 971.0 1055.9L987.1 1066.5M974.5 1050.4A211.9 211.9 0 0 0 977.8 1044.9L1006.1 1061.2M977.7 1023.6A202.0 202.0 0 0 0 980.2 1018.0L1002.9 1027.6" fill="none" stroke="#003782" stroke-width="1.7" stroke-linejoin="miter" stroke-linecap="butt"/>
<path d="M875.0 832.8A133.4 133.4 0 0 1 878.2 835.3L887.8 823.4M875.0 832.8A133.4 133.4 0 0 0 871.7 830.3L878.6 820.7M858.6 811.5A142.8 142.8 0 0 1 862.4 813.5L863.9 810.7M858.6 811.5A142.8 142.8 0 0 0 854.7 809.6L856.1 806.4M861.5 819.6A137.0 137.0 0 0 1 866.8 822.8L873.6 812.0M861.0 853.3A108.6 108.6 0 0 1 867.6 858.8L889.8 834.5M862.6 862.8A102.3 102.3 0 0 1 867.8 867.8L898.4 838.2M730.4 1097.7A171.1 171.1 0 0 1 725.6 1095.7L711.7 1127.4M730.4 1097.7A171.1 171.1 0 0 0 735.2 1099.6L724.0 1130.1M749.9 1105.1A171.9 171.9 0 0 1 744.9 1103.6L734.8 1137.3M749.9 1105.1A171.9 171.9 0 0 0 755.0 1106.3L747.2 1139.3M933.9 1081.9A199.8 199.8 0 0 1 920.3 1094.1L938.9 1117.1M808.9 1105.1A166.7 166.7 0 0 1 766.1 1103.3L757.8 1151.9M749.4 1086.3A154.0 154.0 0 0 1 724.0 1076.0L704.7 1113.6" fill="none" stroke="#8c00e6" stroke-width="1.7" stroke-linejoin="miter" stroke-linecap="butt"/>
<path d="M840.2 925.1A47.9 47.9 0 0 1 841.6 931.3L924.7 917.9M769.0 761.8A179.0 179.0 0 0 1 774.4 761.1L773.8 755.5M769.0 761.8A179.0 179.0 0 0 0 763.6 762.6L762.7 757.3M777.2 761.8A178.0 178.0 0 0 1 785.3 761.2L785.2 758.2M730.5 781.6A169.9 169.9 0 0 1 735.3 779.7L727.4 758.5M730.5 781.6A169.9 169.9 0 0 0 725.7 783.6L718.6 767.6M739.3 783.2A165.2 165.2 0 0 1 746.4 780.9L740.0 759.5M749.1 785.4A160.1 160.1 0 0 1 757.3 783.2L751.7 759.5" fill="none" stroke="#ff64ff" stroke-width="1.7" stroke-linejoin="miter" stroke-linecap="butt"/>
<path d="M856.1 727.3A220.5 220.5 0 0 1 862.5 729.3L869.7 707.3M856.1 727.3A220.5 220.5 0 0 0 849.7 725.6L854.9 705.3M827.4 736.8A204.9 204.9 0 0 1 833.6 737.9L838.1 714.8M827.4 736.8A204.9 204.9 0 0 0 821.3 735.9L825.1 707.0M802.7 734.2A205.0 205.0 0 0 1 808.9 734.5L811.0 705.1M802.7 734.2A205.0 205.0 0 0 0 796.4 734.0L796.8 700.0M844.6 766.9A179.3 179.3 0 0 1 860.1 772.2L868.5 750.9" fill="none" stroke="#f00032" stroke-width="1.7" stroke-linejoin="miter" stroke-linecap="butt"/>
<path d="M723.3 811.1A146.3 146.3 0 0 1 727.2 809.0L708.4 772.7M701.8 811.8A157.3 157.3 0 0 1 705.7 809.0L682.8 775.4M701.8 811.8A157.3 157.3 0 0 0 698.0 814.6L672.6 781.8M684.4 821.1A161.2 161.2 0 0 1 688.0 817.8L667.5 794.4M684.4 821.1A161.2 161.2 0 0 0 680.8 824.5L655.1 798.5M670.3 834.9A161.9 161.9 0 0 1 673.6 831.1L648.1 808.4M670.3 834.9A161.9 161.9 0 0 0 667.2 838.7L639.9 817.1" fill="none" stroke="#ffd732" stroke-width="1.7" stroke-linejoin="miter" stroke-linecap="butt"/>
<path d="M723.3 811.1A146.3 146.3 0 0 0 719.4 813.3L696.6 775.1M790.7 1141.0A202.0 202.0 0 0 1 784.6 1140.8L783.4 1165.0M790.7 1141.0A202.0 202.0 0 0 0 796.9 1141.0L797.2 1165.7M781.9 1134.0A195.4 195.4 0 0 1 773.1 1133.2L770.0 1160.8M826.9 1134.9A198.6 198.6 0 0 1 820.9 1135.8L824.3 1161.0M826.9 1134.9A198.6 198.6 0 0 0 832.9 1133.8L837.8 1159.0M817.3 1131.2A193.6 193.6 0 0 1 808.5 1132.1L810.9 1164.7" fill="none" stroke="#ff703c" stroke-width="1.7" stroke-linejoin="miter" stroke-linecap="butt"/>
<path d="M616.6 852.0A197.8 197.8 0 0 1 619.4 846.7L608.6 841.0M616.6 852.0A197.8 197.8 0 0 0 614.1 857.5L602.6 852.3M625.4 846.5A192.6 192.6 0 0 1 629.8 838.9L616.3 830.7M653.1 851.7A166.0 166.0 0 0 1 658.0 844.3L628.4 823.7M597.6 896.7A201.2 201.2 0 0 1 599.0 890.7L587.2 887.8M597.6 896.7A201.2 201.2 0 0 0 596.4 902.7L583.1 900.3M608.0 890.0A192.6 192.6 0 0 1 610.5 881.5L591.1 875.5" fill="none" stroke="#640014" stroke-width="1.7" stroke-linejoin="miter" stroke-linecap="butt"/>
<path d="M628.1 885.6A174.6 174.6 0 0 1 631.1 876.9L599.5 864.8M592.6 992.5A208.7 208.7 0 0 1 589.1 977.1L553.0 983.9M596.3 977.3A201.7 201.7 0 0 1 594.1 963.7L560.1 967.9M604.2 963.2A191.6 191.6 0 0 1 603.1 950.9L567.8 953.1M610.4 950.8A184.3 184.3 0 0 1 610.0 939.2L572.5 939.3M616.9 939.4A177.4 177.4 0 0 1 617.2 928.4L580.4 926.2M626.8 929.1A167.8 167.8 0 0 1 627.7 918.8L586.1 913.8" fill="none" stroke="#f00096" stroke-width="1.7" stroke-linejoin="miter" stroke-linecap="butt"/>
<path d="M558.6 1021.3A249.7 249.7 0 0 1 556.2 1014.1L533.8 1021.1M558.6 1021.3A249.7 249.7 0 0 0 561.2 1028.5L540.1 1036.5M569.0 1067.6A259.4 259.4 0 0 1 565.2 1060.6L540.5 1073.8M569.0 1067.6A259.4 259.4 0 0 0 573.0 1074.4L549.6 1088.7M588.2 1107.7A266.3 266.3 0 0 1 576.0 1091.5L556.2 1105.3M576.8 1062.0A249.9 249.9 0 0 1 566.9 1042.5L542.5 1053.7M578.9 1014.0A228.1 228.1 0 0 1 573.0 994.3L541.3 1002.2" fill="none" stroke="#00e600" stroke-width="1.7" stroke-linejoin="miter" stroke-linecap="butt"/>
<path d="M566.4 1156.5A315.0 315.0 0 0 1 559.9 1149.4L540.7 1166.7M566.4 1156.5A315.0 315.0 0 0 0 573.1 1163.3L549.0 1187.8M589.4 1188.7A323.0 323.0 0 0 1 581.9 1182.4L570.9 1195.0M589.4 1188.7A323.0 323.0 0 0 0 597.1 1194.8L586.1 1209.2M621.5 1211.3A322.5 322.5 0 0 1 613.3 1205.9L593.9 1234.6M621.5 1211.3A322.5 322.5 0 0 0 629.9 1216.4L610.8 1248.7M580.5 1143.0A295.5 295.5 0 0 1 562.8 1122.7L529.0 1149.5" fill="none" stroke="#00870f" stroke-width="1.7" stroke-linejoin="miter" stroke-linecap="butt"/>
<path d="M875.8 1127.4A205.3 205.3 0 0 1 870.1 1129.8L877.9 1149.6M875.8 1127.4A205.3 205.3 0 0 0 881.5 1124.9L891.3 1145.6M911.1 1113.1A209.7 209.7 0 0 1 905.8 1116.6L916.8 1134.1M911.1 1113.1A209.7 209.7 0 0 0 916.4 1109.5L928.0 1125.7M901.1 1115.0A205.9 205.9 0 0 1 893.0 1119.7L902.3 1136.9M870.8 1121.6A198.0 198.0 0 0 1 856.0 1127.1L867.3 1161.3M856.1 1121.3A192.5 192.5 0 0 1 843.1 1125.2L850.9 1155.2" fill="none" stroke="#00dcb4" stroke-width="1.7" stroke-linejoin="miter" stroke-linecap="butt"/>
<path d="M794.3 939.0L951.1 923.3" fill="none" stroke="#7ffcf8" stroke-width="1.7" stroke-linejoin="miter" stroke-linecap="butt"/>
<circle cx="951.1" cy="923.3" r="3.0" fill="#7ffcf8"/>
<rect x="922.9" y="916.1" width="3.6" height="3.6" fill="#ff64ff"/>
<circle cx="912.4" cy="912.4" r="3.15" fill="#009bff"/>
<circle cx="912.4" cy="904.7" r="3.15" fill="#009bff"/>
<circle cx="911.4" cy="897.1" r="3.15" fill="#003782"/>
<circle cx="911.0" cy="889.1" r="3.15" fill="#003782"/>
<circle cx="902.1" cy="884.9" r="3.15" fill="#003782"/>
<circle cx="900.4" cy="877.4" r="3.15" fill="#003782"/>
<circle cx="896.6" cy="871.0" r="3.15" fill="#003782"/>
<circle cx="908.1" cy="852.9" r="3.15" fill="#003782"/>
<circle cx="897.0" cy="851.0" r="3.15" fill="#003782"/>
<circle cx="898.4" cy="838.2" r="3.15" fill="#8c00e6"/>
<circle cx="889.8" cy="834.5" r="3.15" fill="#8c00e6"/>
<circle cx="887.8" cy="823.4" r="3.15" fill="#8c00e6"/>
<circle cx="878.6" cy="820.7" r="3.15" fill="#8c00e6"/>
<circle cx="873.6" cy="812.0" r="3.15" fill="#8c00e6"/>
<circle cx="863.9" cy="810.7" r="3.15" fill="#8c00e6"/>
<circle cx="856.1" cy="806.4" r="3.15" fill="#8c00e6"/>
<path d="M703.1 1112.1L706.2 1115.2M706.2 1112.1L703.1 1115.2" stroke="#8c00e6" stroke-width="3.0" stroke-linecap="square" fill="none"/>
<path d="M710.1 1125.8L713.2 1128.9M713.2 1125.8L710.1 1128.9" stroke="#8c00e6" stroke-width="3.0" stroke-linecap="square" fill="none"/>
<path d="M722.5 1128.5L725.6 1131.6M725.6 1128.5L722.5 1131.6" stroke="#8c00e6" stroke-width="3.0" stroke-linecap="square" fill="none"/>
<path d="M733.3 1135.7L736.4 1138.8M736.4 1135.7L733.3 1138.8" stroke="#8c00e6" stroke-width="3.0" stroke-linecap="square" fill="none"/>
<path d="M745.7 1137.8L748.8 1140.9M748.8 1137.8L745.7 1140.9" stroke="#8c00e6" stroke-width="3.0" stroke-linecap="square" fill="none"/>
<path d="M756.2 1150.3L759.3 1153.4M759.3 1150.3L756.2 1153.4" stroke="#8c00e6" stroke-width="3.0" stroke-linecap="square" fill="none"/>
<path d="M937.4 1115.5L940.5 1118.6M940.5 1115.5L937.4 1118.6" stroke="#8c00e6" stroke-width="3.0" stroke-linecap="square" fill="none"/>
<path d="M950.2 1108.8L953.3 1111.9M953.3 1108.8L950.2 1111.9" stroke="#003782" stroke-width="3.0" stroke-linecap="square" fill="none"/>
<path d="M966.8 1105.2L969.9 1108.3M969.9 1105.2L966.8 1108.3" stroke="#003782" stroke-width="3.0" stroke-linecap="square" fill="none"/>
<path d="M972.8 1091.0L975.9 1094.1M975.9 1091.0L972.8 1094.1" stroke="#003782" stroke-width="3.0" stroke-linecap="square" fill="none"/>
<path d="M982.5 1080.3L985.6 1083.4M985.6 1080.3L982.5 1083.4" stroke="#003782" stroke-width="3.0" stroke-linecap="square" fill="none"/>
<path d="M985.6 1065.0L988.7 1068.1M988.7 1065.0L985.6 1068.1" stroke="#003782" stroke-width="3.0" stroke-linecap="square" fill="none"/>
<path d="M1004.5 1059.7L1007.6 1062.8M1007.6 1059.7L1004.5 1062.8" stroke="#003782" stroke-width="3.0" stroke-linecap="square" fill="none"/>
<path d="M1002.3 1042.0L1005.4 1045.1M1005.4 1042.0L1002.3 1045.1" stroke="#009bff" stroke-width="3.0" stroke-linecap="square" fill="none"/>
<path d="M1001.3 1026.0L1004.4 1029.1M1004.4 1026.0L1001.3 1029.1" stroke="#003782" stroke-width="3.0" stroke-linecap="square" fill="none"/>
<path d="M1006.1 1013.1L1009.2 1016.2M1009.2 1013.1L1006.1 1016.2" stroke="#009bff" stroke-width="3.0" stroke-linecap="square" fill="none"/>
<path d="M1017.2 1002.0L1020.3 1005.1M1020.3 1002.0L1017.2 1005.1" stroke="#009bff" stroke-width="3.0" stroke-linecap="square" fill="none"/>
<path d="M1023.3 988.8L1026.4 991.9M1026.4 988.8L1023.3 991.9" stroke="#009bff" stroke-width="3.0" stroke-linecap="square" fill="none"/>
<path d="M1042.4 977.3L1045.5 980.4M1045.5 977.3L1042.4 980.4" stroke="#009bff" stroke-width="3.0" stroke-linecap="square" fill="none"/>
<path d="M1029.0 960.5L1032.1 963.6M1032.1 960.5L1029.0 963.6" stroke="#009bff" stroke-width="3.0" stroke-linecap="square" fill="none"/>
<path d="M1028.1 946.1L1031.2 949.2M1031.2 946.1L1028.1 949.2" stroke="#009bff" stroke-width="3.0" stroke-linecap="square" fill="none"/>
<text transform="translate(4.6,20.6) scale(1.04,1)" font-size="31.5" font-weight="bold" stroke="#000" stroke-width="1.1" stroke-linejoin="round">a</text>
<text transform="translate(5.6,739.0) scale(1.08,1)" font-size="31.5" font-weight="bold" stroke="#000" stroke-width="1.1" stroke-linejoin="round">b</text>
<text transform="translate(534.2,739.0) scale(1.08,1)" font-size="31.5" font-weight="bold" stroke="#000" stroke-width="1.1" stroke-linejoin="round">c</text>
<text x="378.9" y="939" font-size="20" textLength="38.2" lengthAdjust="spacingAndGlyphs">0.01</text>
<line x1="390" y1="951.3" x2="410" y2="950.4" stroke="#000" stroke-width="2.2"/>
<text x="965.9" y="924.8" font-size="20" textLength="38.2" lengthAdjust="spacingAndGlyphs">0.01</text>
<line x1="974.1" y1="932.4" x2="995.1" y2="931.4" stroke="#000" stroke-width="2.2"/>
<text x="36.0" y="1263.4" font-size="28.5" textLength="140.5" lengthAdjust="spacingAndGlyphs">Population</text>
<circle cx="64.6" cy="1292.5" r="10.5" fill="#7ffcf8"/>
<text x="85.6" y="1299.5" font-size="24" textLength="161.5" lengthAdjust="spacingAndGlyphs"><tspan font-style="italic">H. acinonychis</tspan></text>
<circle cx="64.6" cy="1319.2" r="10.5" fill="#00870f"/>
<text x="85.6" y="1326.2" font-size="24" textLength="103.5" lengthAdjust="spacingAndGlyphs">hpAfrica1</text>
<circle cx="64.6" cy="1345.8" r="10.5" fill="#f00032"/>
<text x="85.6" y="1352.8" font-size="24" textLength="105.5" lengthAdjust="spacingAndGlyphs">hpAfrica2</text>
<circle cx="64.6" cy="1372.5" r="10.5" fill="#ffd732"/>
<text x="85.6" y="1379.5" font-size="24" textLength="88.5" lengthAdjust="spacingAndGlyphs">hpAsia2</text>
<circle cx="64.6" cy="1399.1" r="10.5" fill="#f00096"/>
<text x="85.6" y="1406.1" font-size="24" textLength="107.5" lengthAdjust="spacingAndGlyphs">hpEurope</text>
<circle cx="64.6" cy="1425.8" r="10.5" fill="#00e600"/>
<text x="85.6" y="1432.8" font-size="24" textLength="125.5" lengthAdjust="spacingAndGlyphs">hpNEAfrica</text>
<circle cx="64.6" cy="1452.4" r="10.5" fill="#00dcb4"/>
<text x="85.6" y="1459.4" font-size="24" textLength="137.5" lengthAdjust="spacingAndGlyphs">hpNorthAsia</text>
<circle cx="285.8" cy="1319.2" r="10.5" fill="#ff64ff"/>
<text x="305.0" y="1326.2" font-size="24" textLength="90.5" lengthAdjust="spacingAndGlyphs">hpSahul</text>
<circle cx="285.8" cy="1345.8" r="10.5" fill="#ff703c"/>
<text x="305.0" y="1352.8" font-size="24" textLength="103" lengthAdjust="spacingAndGlyphs">hspEAsia</text>
<circle cx="285.8" cy="1372.5" r="10.5" fill="#003782"/>
<text x="305.0" y="1379.5" font-size="24" textLength="274.5" lengthAdjust="spacingAndGlyphs">hspIndigenousNAmerica</text>
<circle cx="285.8" cy="1399.1" r="10.5" fill="#009bff"/>
<text x="305.0" y="1406.1" font-size="24" textLength="271.5" lengthAdjust="spacingAndGlyphs">hspIndigenousSAmerica</text>
<circle cx="285.8" cy="1425.8" r="10.5" fill="#8c00e6"/>
<text x="305.0" y="1432.8" font-size="24" textLength="118" lengthAdjust="spacingAndGlyphs">hspSiberia</text>
<circle cx="285.8" cy="1452.4" r="10.5" fill="#640014"/>
<text x="305.0" y="1459.4" font-size="24" textLength="85" lengthAdjust="spacingAndGlyphs">hspUral</text>
<text x="642.5" y="1291.9" font-size="28.5" textLength="151.5" lengthAdjust="spacingAndGlyphs">Ecospecies</text>
<circle cx="667.5" cy="1318.1" r="5.85" fill="none" stroke="#000" stroke-width="3.2"/>
<circle cx="667.5" cy="1346.1" r="7.45" fill="#000"/>
<rect x="661.3" y="1368.2" width="12.4" height="12.2" fill="#000"/>
<path d="M661.6 1393.6L673.4 1405.4M673.4 1393.6L661.6 1405.4" stroke="#000" stroke-width="3.2" stroke-linecap="round"/>
<text x="685.0" y="1325.9" font-size="24" textLength="249.5" lengthAdjust="spacingAndGlyphs">Hardy (<tspan font-style="italic">H. acinonychis</tspan>)</text>
<text x="685.0" y="1352.7" font-size="24" textLength="179" lengthAdjust="spacingAndGlyphs">Hardy (<tspan font-style="italic">H. pylori</tspan>)</text>
<text x="685.0" y="1379.6" font-size="24" textLength="183.5" lengthAdjust="spacingAndGlyphs">Hardy (primates)</text>
<text x="685.0" y="1406.8" font-size="24" textLength="259" lengthAdjust="spacingAndGlyphs">Ubiquitous (hspSiberia,</text>
<text x="701.0" y="1433.8" font-size="24" textLength="280.5" lengthAdjust="spacingAndGlyphs">hspIndigenousNAmerica)</text>
</svg>
</body></html>
